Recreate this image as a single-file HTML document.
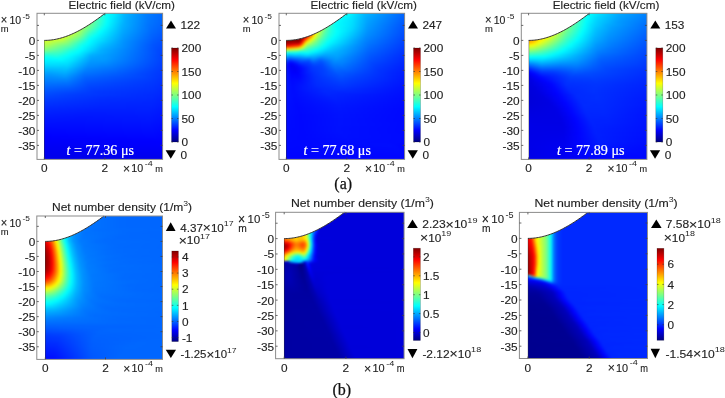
<!DOCTYPE html>
<html><head><meta charset="utf-8"><style>html,body{margin:0;padding:0;background:#fff;width:725px;height:398px;overflow:hidden}svg{display:block;position:absolute;left:0;top:0;opacity:0.999;filter:blur(0.25px)}.fo{position:absolute;overflow:hidden}.fi i{display:block}</style></head>
<body><div class="fo" style="left:44.3px;top:13.3px;width:118.3px;height:146.1px"><div style="position:absolute;left:-5.3px;top:-5.3px;width:129px"><div class="fi" style="filter:blur(0.8px)"><i style="height:2px;background:linear-gradient(90deg,#ffe700 0.5px,#fbff04 15.5px,#d1ff2e 35.5px,#9bff64 47.5px,#48ffb7 59.5px,#0ffff0 67.5px,#00fdff 71.5px,#00b0ff 89.5px,#0080ff 109.5px,#0067ff 128.5px)"></i><i style="height:2px;background:linear-gradient(90deg,#ffe900 0.5px,#fbff04 14.5px,#d1ff2e 35.5px,#a1ff5e 46.5px,#4effb1 58.5px,#0bfff4 67.5px,#00faff 71.5px,#00b0ff 88.5px,#007eff 109.5px,#0065ff 128.5px)"></i><i style="height:2px;background:linear-gradient(90deg,#ffeb00 0.5px,#fbff04 13.5px,#d2ff2d 35.5px,#a1ff5e 46.5px,#4dffb2 58.5px,#0bfff4 66.5px,#00fbff 70.5px,#00deff 77.5px,#00b3ff 86.5px,#007dff 108.5px,#0064ff 128.5px)"></i><i style="height:2px;background:linear-gradient(90deg,#ffed00 0.5px,#fbff04 12.5px,#d2ff2d 35.5px,#a6ff59 45.5px,#44ffbb 59.5px,#03fffc 67.5px,#00e8ff 75.5px,#00b8ff 84.5px,#007fff 106.5px,#0062ff 128.5px)"></i><i style="height:2px;background:linear-gradient(90deg,#fff000 0.5px,#fbff04 11.5px,#d3ff2c 35.5px,#a5ff5a 45.5px,#2affd5 62.5px,#04fffb 67.5px,#00e5ff 75.5px,#00b2ff 85.5px,#007aff 108.5px,#0061ff 128.5px)"></i><i style="height:2px;background:linear-gradient(90deg,#fff200 0.5px,#faff05 11.5px,#d3ff2c 35.5px,#aaff55 44.5px,#23ffdc 63.5px,#00feff 68.5px,#00adff 86.5px,#0077ff 109.5px,#005fff 128.5px)"></i><i style="height:2px;background:linear-gradient(90deg,#fff400 0.5px,#faff05 10.5px,#e3ff1c 25.5px,#d2ff2d 35.5px,#a9ff56 44.5px,#4affb5 57.5px,#23ffdc 63.5px,#00feff 68.5px,#00acff 86.5px,#0076ff 109.5px,#005eff 128.5px)"></i><i style="height:2px;background:linear-gradient(90deg,#fff700 0.5px,#faff05 10.5px,#e3ff1c 24.5px,#d5ff2a 34.5px,#acff53 43.5px,#47ffb8 57.5px,#02fffd 67.5px,#00adff 85.5px,#0075ff 109.5px,#005dff 128.5px)"></i><i style="height:2px;background:linear-gradient(90deg,#fffa00 0.5px,#f8ff07 11.5px,#e4ff1b 24.5px,#d3ff2c 34.5px,#a8ff57 43.5px,#49ffb6 56.5px,#00fcff 67.5px,#00b2ff 83.5px,#0075ff 108.5px,#005bff 128.5px)"></i><i style="height:2px;background:linear-gradient(90deg,#fffd00 0.5px,#f3ff0c 14.5px,#d7ff28 32.5px,#aeff51 41.5px,#0efff1 63.5px,#00fbff 66.5px,#00afff 83.5px,#0070ff 110.5px,#005aff 128.5px)"></i><i style="height:2px;background:linear-gradient(90deg,#fdff02 0.5px,#ecff13 20.5px,#d4ff2b 32.5px,#adff52 40.5px,#24ffdb 58.5px,#00fdff 64.5px,#00acff 83.5px,#006dff 111.5px,#0058ff 128.5px)"></i><i style="height:2px;background:linear-gradient(90deg,#f9ff06 0.5px,#ecff13 21.5px,#cfff30 32.5px,#a3ff5c 40.5px,#3dffc2 52.5px,#02fffd 61.5px,#00a6ff 84.5px,#006aff 112.5px,#0056ff 128.5px)"></i><i style="height:2px;background:linear-gradient(90deg,#f3ff0c 0.5px,#ecff13 21.5px,#c2ff3d 33.5px,#90ff6f 41.5px,#39ffc6 50.5px,#00fdff 60.5px,#00a6ff 83.5px,#0067ff 112.5px,#0053ff 128.5px)"></i><i style="height:2px;background:linear-gradient(90deg,#ecff13 0.5px,#e8ff17 21.5px,#b6ff49 33.5px,#83ff7c 41.5px,#2fffd0 49.5px,#07fff8 56.5px,#00f0ff 61.5px,#009fff 84.5px,#0063ff 113.5px,#0051ff 128.5px)"></i><i style="height:2px;background:linear-gradient(90deg,#e4ff1b 0.5px,#e2ff1d 20.5px,#d0ff2f 25.5px,#78ff87 40.5px,#17ffe8 50.5px,#01fdfe 55.5px,#009cff 84.5px,#005fff 114.5px,#004fff 128.5px)"></i><i style="height:2px;background:linear-gradient(90deg,#d9ff26 0.5px,#d9ff26 11.5px,#cfff30 22.5px,#6eff91 38.5px,#03fffc 51.5px,#0096ff 85.5px,#005cff 114.5px,#004cff 128.5px)"></i><i style="height:2px;background:linear-gradient(90deg,#cdff32 0.5px,#ceff31 9.5px,#aeff51 24.5px,#5dffa2 37.5px,#00fdff 50.5px,#0094ff 84.5px,#0059ff 114.5px,#004aff 128.5px)"></i><i style="height:2px;background:linear-gradient(90deg,#bfff40 0.5px,#bfff40 9.5px,#88ff77 27.5px,#46ffb9 37.5px,#12ffed 45.5px,#00fcff 49.5px,#00d0ff 61.5px,#008dff 86.5px,#0056ff 114.5px,#0047ff 128.5px)"></i><i style="height:2px;background:linear-gradient(90deg,#afff50 0.5px,#b0ff4f 8.5px,#87ff78 19.5px,#68ff97 29.5px,#12ffed 42.5px,#00f9ff 48.5px,#00c3ff 62.5px,#00a2ff 76.5px,#0085ff 89.5px,#0054ff 114.5px,#0045ff 128.5px)"></i><i style="height:2px;background:linear-gradient(90deg,#9bff64 0.5px,#9fff60 7.5px,#4bffb4 30.5px,#03fffc 43.5px,#00ddff 53.5px,#00bbff 62.5px,#009eff 76.5px,#0052ff 114.5px,#0043ff 128.5px)"></i><i style="height:2px;background:linear-gradient(90deg,#85ff7a 0.5px,#8cff73 6.5px,#4fffb0 24.5px,#00fdff 42.5px,#00d0ff 54.5px,#00b3ff 62.5px,#0097ff 77.5px,#004eff 116.5px,#0041ff 128.5px)"></i><i style="height:2px;background:linear-gradient(90deg,#6bff94 0.5px,#6cff93 7.5px,#46ffb9 22.5px,#1bffe4 31.5px,#00fcff 40.5px,#00b1ff 60.5px,#0090ff 79.5px,#004aff 118.5px,#0040ff 128.5px)"></i><i style="height:2px;background:linear-gradient(90deg,#4effb1 0.5px,#39ffc6 20.5px,#0cfff3 31.5px,#00f9ff 38.5px,#00bbff 53.5px,#0047ff 120.5px,#003eff 128.5px)"></i><i style="height:2px;background:linear-gradient(90deg,#33ffcc 0.5px,#24ffdb 6.5px,#2bffd4 17.5px,#10ffef 26.5px,#00fcff 32.5px,#00deff 42.5px,#00b1ff 51.5px,#008eff 77.5px,#0043ff 122.5px,#003dff 128.5px)"></i><i style="height:2px;background:linear-gradient(90deg,#1bffe4 0.5px,#0afff5 6.5px,#17ffe8 17.5px,#00fcff 28.5px,#00d2ff 42.5px,#00a8ff 51.5px,#009aff 68.5px,#0041ff 123.5px,#003cff 128.5px)"></i><i style="height:2px;background:linear-gradient(90deg,#07fff8 0.5px,#00fbff 8.5px,#02fefd 22.5px,#00e4ff 34.5px,#00b8ff 45.5px,#009fff 52.5px,#009bff 65.5px,#003eff 125.5px,#003bff 128.5px)"></i><i style="height:2px;background:linear-gradient(90deg,#00f6ff 0.5px,#00f0ff 10.5px,#00f3ff 23.5px,#00e1ff 32.5px,#009aff 51.5px,#0096ff 65.5px,#0039ff 128.5px)"></i><i style="height:2px;background:linear-gradient(90deg,#00e8ff 0.5px,#00e6ff 15.5px,#00e2ff 28.5px,#0095ff 50.5px,#008dff 67.5px,#0038ff 128.5px)"></i><i style="height:2px;background:linear-gradient(90deg,#00daff 0.5px,#00daff 17.5px,#00d8ff 28.5px,#0090ff 49.5px,#0084ff 69.5px,#0037ff 128.5px)"></i><i style="height:2px;background:linear-gradient(90deg,#00ccff 0.5px,#00cdff 17.5px,#00ccff 28.5px,#008aff 48.5px,#0079ff 72.5px,#0036ff 128.5px)"></i><i style="height:2px;background:linear-gradient(90deg,#00beff 0.5px,#00bdff 13.5px,#00c2ff 27.5px,#00a2ff 37.5px,#0081ff 48.5px,#0071ff 73.5px,#0034ff 128.5px)"></i><i style="height:2px;background:linear-gradient(90deg,#00b1ff 0.5px,#00afff 11.5px,#00b8ff 26.5px,#009fff 35.5px,#007cff 46.5px,#0067ff 76.5px,#0033ff 128.5px)"></i><i style="height:2px;background:linear-gradient(90deg,#00a4ff 0.5px,#00a2ff 10.5px,#00adff 26.5px,#0094ff 35.5px,#0075ff 45.5px,#0060ff 77.5px,#0032ff 128.5px)"></i><i style="height:2px;background:linear-gradient(90deg,#0099ff 0.5px,#0096ff 10.5px,#00a1ff 26.5px,#0089ff 35.5px,#006eff 44.5px,#0057ff 80.5px,#0035ff 124.5px,#0031ff 128.5px)"></i><i style="height:2px;background:linear-gradient(90deg,#008fff 0.5px,#008dff 11.5px,#0096ff 26.5px,#007cff 36.5px,#0064ff 46.5px,#0046ff 103.5px,#002fff 128.5px)"></i><i style="height:2px;background:linear-gradient(90deg,#0086ff 0.5px,#0085ff 13.5px,#0089ff 27.5px,#005dff 46.5px,#003dff 111.5px,#002eff 128.5px)"></i><i style="height:2px;background:linear-gradient(90deg,#007dff 0.5px,#007eff 16.5px,#007dff 28.5px,#0057ff 46.5px,#0038ff 115.5px,#002cff 128.5px)"></i><i style="height:2px;background:linear-gradient(90deg,#0075ff 0.5px,#0073ff 28.5px,#004fff 48.5px,#0036ff 115.5px,#002bff 128.5px)"></i><i style="height:2px;background:linear-gradient(90deg,#006eff 0.5px,#0068ff 29.5px,#004aff 49.5px,#0035ff 114.5px,#002aff 128.5px)"></i><i style="height:2px;background:linear-gradient(90deg,#0066ff 0.5px,#005eff 30.5px,#0044ff 50.5px,#0033ff 114.5px,#0028ff 128.5px)"></i><i style="height:2px;background:linear-gradient(90deg,#005fff 0.5px,#0054ff 31.5px,#003fff 52.5px,#0031ff 114.5px,#0027ff 128.5px)"></i><i style="height:2px;background:linear-gradient(90deg,#0058ff 0.5px,#004bff 33.5px,#003aff 55.5px,#0030ff 113.5px,#0025ff 128.5px)"></i><i style="height:2px;background:linear-gradient(90deg,#0051ff 0.5px,#0042ff 35.5px,#0036ff 59.5px,#002eff 113.5px,#0024ff 128.5px)"></i><i style="height:2px;background:linear-gradient(90deg,#004bff 0.5px,#003aff 39.5px,#0034ff 71.5px,#0029ff 119.5px,#0022ff 128.5px)"></i><i style="height:2px;background:linear-gradient(90deg,#0045ff 0.5px,#0030ff 61.5px,#002bff 112.5px,#0021ff 128.5px)"></i><i style="height:2px;background:linear-gradient(90deg,#003fff 0.5px,#002dff 62.5px,#0029ff 112.5px,#001fff 128.5px)"></i><i style="height:2px;background:linear-gradient(90deg,#0039ff 0.5px,#002aff 62.5px,#0027ff 111.5px,#001eff 128.5px)"></i><i style="height:2px;background:linear-gradient(90deg,#0034ff 0.5px,#0028ff 63.5px,#0025ff 112.5px,#001cff 128.5px)"></i><i style="height:2px;background:linear-gradient(90deg,#0030ff 0.5px,#0025ff 63.5px,#0023ff 112.5px,#001bff 128.5px)"></i><i style="height:2px;background:linear-gradient(90deg,#002bff 0.5px,#0023ff 63.5px,#0022ff 112.5px,#0019ff 128.5px)"></i><i style="height:2px;background:linear-gradient(90deg,#0027ff 0.5px,#0020ff 58.5px,#0020ff 110.5px,#0018ff 128.5px)"></i><i style="height:2px;background:linear-gradient(90deg,#0023ff 0.5px,#001dff 53.5px,#001fff 109.5px,#0016ff 128.5px)"></i><i style="height:2px;background:linear-gradient(90deg,#0020ff 0.5px,#001bff 49.5px,#001dff 109.5px,#0014ff 128.5px)"></i><i style="height:2px;background:linear-gradient(90deg,#001cff 0.5px,#0018ff 45.5px,#001bff 109.5px,#0013ff 128.5px)"></i><i style="height:2px;background:linear-gradient(90deg,#0019ff 0.5px,#0016ff 42.5px,#0019ff 110.5px,#0011ff 128.5px)"></i><i style="height:2px;background:linear-gradient(90deg,#0016ff 0.5px,#0014ff 40.5px,#0017ff 110.5px,#0010ff 128.5px)"></i><i style="height:2px;background:linear-gradient(90deg,#0013ff 0.5px,#0012ff 38.5px,#0016ff 110.5px,#000eff 128.5px)"></i><i style="height:2px;background:linear-gradient(90deg,#0010ff 0.5px,#0010ff 37.5px,#0014ff 110.5px,#000cff 128.5px)"></i><i style="height:2px;background:linear-gradient(90deg,#000eff 0.5px,#000eff 36.5px,#0012ff 110.5px,#000bff 128.5px)"></i><i style="height:2px;background:linear-gradient(90deg,#000bff 0.5px,#000cff 36.5px,#0010ff 110.5px,#0009ff 128.5px)"></i><i style="height:2px;background:linear-gradient(90deg,#0008ff 0.5px,#000aff 36.5px,#000eff 111.5px,#0007ff 128.5px)"></i><i style="height:2px;background:linear-gradient(90deg,#0006ff 0.5px,#0008ff 36.5px,#000cff 112.5px,#0006ff 128.5px)"></i><i style="height:2px;background:linear-gradient(90deg,#0004ff 0.5px,#0006ff 37.5px,#000aff 113.5px,#0004ff 128.5px)"></i><i style="height:2px;background:linear-gradient(90deg,#0001ff 0.5px,#0008ff 113.5px,#0003ff 128.5px)"></i><i style="height:2px;background:linear-gradient(90deg,#0000fe 0.5px,#0006ff 115.5px,#0001ff 128.5px)"></i><i style="height:2px;background:linear-gradient(90deg,#0000fc 0.5px,#0003ff 119.5px,#0000fe 128.5px)"></i><i style="height:2px;background:linear-gradient(90deg,#0000fa 0.5px,#0000ff 122.5px,#0000fd 128.5px)"></i><i style="height:2px;background:linear-gradient(90deg,#0000f8 0.5px,#0000fe 120.5px,#0000fb 128.5px)"></i><i style="height:2px;background:linear-gradient(90deg,#0000f6 0.5px,#0000fd 118.5px,#0000f9 128.5px)"></i><i style="height:2px;background:linear-gradient(90deg,#0000f4 0.5px,#0000fb 119.5px,#0000f7 128.5px)"></i><i style="height:2px;background:linear-gradient(90deg,#0000f2 0.5px,#0000f9 120.5px,#0000f5 128.5px)"></i><i style="height:2px;background:linear-gradient(90deg,#0000f1 0.5px,#0000f6 122.5px,#0000f4 128.5px)"></i><i style="height:2px;background:linear-gradient(90deg,#0000ef 0.5px,#0000f4 124.5px,#0000f2 128.5px)"></i><i style="height:2px;background:linear-gradient(90deg,#0000ee 0.5px,#0000f1 125.5px,#0000f0 128.5px)"></i><i style="height:2px;background:linear-gradient(90deg,#0000ec 0.5px,#0000ef 125.5px,#0000ed 128.5px)"></i><i style="height:2px;background:linear-gradient(90deg,#0000eb 0.5px,#0000ec 126.5px,#0000eb 128.5px)"></i><i style="height:2px;background:linear-gradient(90deg,#0000e9 0.5px,#0000ea 126.5px,#0000e9 128.5px)"></i><i style="height:2px;background:linear-gradient(90deg,#0000e8 0.5px,#0000e7 126.5px,#0000e6 128.5px)"></i><i style="height:1px;background:linear-gradient(90deg,#0000e6 0.5px,#0000e6 126.5px,#0000e4 128.5px)"></i></div></div></div><div class="fo" style="left:286.3px;top:13.3px;width:118.3px;height:146.1px"><div style="position:absolute;left:-5.3px;top:-5.3px;width:129px"><div class="fi" style="filter:blur(0.8px)"><i style="height:2px;background:linear-gradient(90deg,#800000 0.5px,#830000 25.5px,#d90000 31.5px,#fb0000 33.5px,#ff4700 37.5px,#fff800 46.5px,#e1ff1e 48.5px,#83ff7c 54.5px,#45ffba 60.5px,#01fefe 71.5px,#00c4ff 84.5px,#006dff 123.5px,#0065ff 128.5px)"></i><i style="height:2px;background:linear-gradient(90deg,#800000 0.5px,#800000 24.5px,#920000 26.5px,#ee0000 32.5px,#ff0100 33.5px,#fff500 45.5px,#f5ff0a 46.5px,#8bff74 52.5px,#4dffb2 57.5px,#1bffe4 64.5px,#00fbff 70.5px,#00c4ff 82.5px,#0074ff 117.5px,#0061ff 128.5px)"></i><i style="height:2px;background:linear-gradient(90deg,#800000 0.5px,#800000 24.5px,#b00000 28.5px,#f20000 32.5px,#ff0600 33.5px,#fff100 44.5px,#f8ff07 45.5px,#86ff79 51.5px,#43ffbc 56.5px,#18ffe7 62.5px,#00fdff 68.5px,#00bdff 82.5px,#0069ff 121.5px,#005dff 128.5px)"></i><i style="height:2px;background:linear-gradient(90deg,#800000 0.5px,#800000 24.5px,#c20000 29.5px,#f70000 32.5px,#ff0b00 33.5px,#ffed00 43.5px,#fbff04 44.5px,#71ff8e 51.5px,#39ffc6 55.5px,#14ffeb 60.5px,#00fdff 66.5px,#00b5ff 83.5px,#005bff 127.5px,#0059ff 128.5px)"></i><i style="height:2px;background:linear-gradient(90deg,#800000 0.5px,#830000 24.5px,#c50000 29.5px,#fb0000 32.5px,#ff3e00 35.5px,#fcfd03 43.5px,#5bffa4 51.5px,#25ffda 55.5px,#06fff9 60.5px,#00efff 68.5px,#00acff 85.5px,#0056ff 128.5px)"></i><i style="height:2px;background:linear-gradient(90deg,#800000 0.5px,#800000 23.5px,#aa0000 27.5px,#ff0200 32.5px,#ff9500 38.5px,#fefb01 42.5px,#57ffa8 50.5px,#27ffd8 53.5px,#0bfff4 56.5px,#00faff 60.5px,#00e1ff 71.5px,#00a8ff 85.5px,#0053ff 128.5px)"></i><i style="height:2px;background:linear-gradient(90deg,#800000 0.5px,#810000 23.5px,#ad0000 27.5px,#f20000 31.5px,#ff0900 32.5px,#ff8b00 37.5px,#fff900 41.5px,#d4ff2b 43.5px,#68ff97 48.5px,#23ffdc 52.5px,#04fffb 55.5px,#00e2ff 70.5px,#00a3ff 86.5px,#0051ff 128.5px)"></i><i style="height:2px;background:linear-gradient(90deg,#800000 0.5px,#800000 22.5px,#a50000 26.5px,#e70000 30.5px,#fc0000 31.5px,#ff2c00 33.5px,#fff700 40.5px,#edff12 41.5px,#7bff84 46.5px,#25ffda 51.5px,#04fffb 54.5px,#00efff 62.5px,#00e1ff 70.5px,#00a0ff 86.5px,#0053ff 125.5px,#004eff 128.5px)"></i><i style="height:2px;background:linear-gradient(90deg,#800000 0.5px,#830000 22.5px,#9d0000 25.5px,#cb0000 28.5px,#f40000 30.5px,#ff0c00 31.5px,#ff5c00 34.5px,#fff700 39.5px,#d1ff2e 41.5px,#79ff86 45.5px,#2affd5 50.5px,#03fffc 54.5px,#00edff 64.5px,#00dcff 71.5px,#009dff 86.5px,#005aff 120.5px,#004cff 128.5px)"></i><i style="height:2px;background:linear-gradient(90deg,#800000 0.5px,#820000 21.5px,#960000 24.5px,#c20000 27.5px,#ee0000 29.5px,#ff0800 30.5px,#ff7e00 34.5px,#fcf903 38.5px,#ccff33 40.5px,#76ff89 44.5px,#2effd1 49.5px,#04fffb 54.5px,#00ddff 70.5px,#009aff 86.5px,#005bff 118.5px,#004aff 128.5px)"></i><i style="height:2px;background:linear-gradient(90deg,#800000 0.5px,#830000 21.5px,#980000 24.5px,#cb0000 27.5px,#fd0200 29.5px,#ff6200 32.5px,#ffe700 36.5px,#f8fd07 37.5px,#99ff66 41.5px,#55ffaa 45.5px,#1fffe0 50.5px,#02fffd 55.5px,#00d9ff 70.5px,#0097ff 86.5px,#0057ff 119.5px,#0048ff 128.5px)"></i><i style="height:2px;background:linear-gradient(90deg,#800000 0.5px,#810000 21.5px,#990000 24.5px,#bd0000 26.5px,#f20000 28.5px,#ff1300 29.5px,#ffd000 34.5px,#fff000 35.5px,#f2ff0d 36.5px,#a9ff56 39.5px,#56ffa9 44.5px,#24ffdb 49.5px,#03fffc 55.5px,#00dcff 68.5px,#0093ff 86.5px,#0046ff 128.5px)"></i><i style="height:2px;background:linear-gradient(90deg,#800000 0.5px,#800000 21.5px,#900000 23.5px,#b20000 25.5px,#e70000 27.5px,#ff0700 28.5px,#ff5200 30.5px,#ffd200 33.5px,#fff500 34.5px,#edff12 35.5px,#98ff67 39.5px,#4cffb3 44.5px,#19ffe6 50.5px,#00fdff 56.5px,#00c5ff 72.5px,#008fff 86.5px,#0044ff 128.5px)"></i><i style="height:2px;background:linear-gradient(90deg,#800000 0.5px,#830000 21.5px,#b20000 24.5px,#e90000 26.5px,#fe0b00 27.5px,#ff7800 30.5px,#fff000 33.5px,#eeff11 34.5px,#beff41 36.5px,#5bffa4 42.5px,#27ffd8 47.5px,#01fffe 54.5px,#00c8ff 70.5px,#008eff 85.5px,#0042ff 128.5px)"></i><i style="height:2px;background:linear-gradient(90deg,#800000 0.5px,#800000 19.5px,#860000 20.5px,#c90000 23.5px,#e40000 24.5px,#f70c00 25.5px,#ff2600 26.5px,#fef401 32.5px,#ebff14 33.5px,#a5ff5a 36.5px,#4dffb2 42.5px,#1effe1 47.5px,#00fdff 53.5px,#00b8ff 72.5px,#0089ff 85.5px,#003fff 128.5px)"></i><i style="height:2px;background:linear-gradient(90deg,#890000 0.5px,#800000 5.5px,#800000 18.5px,#870000 19.5px,#c10000 21.5px,#e60000 22.5px,#fd1000 23.5px,#ff9c00 27.5px,#ffd900 29.5px,#fbf104 30.5px,#f0ff0f 31.5px,#99ff66 35.5px,#5cffa3 39.5px,#1affe5 46.5px,#00fdff 51.5px,#00b2ff 72.5px,#0087ff 84.5px,#003dff 128.5px)"></i><i style="height:2px;background:linear-gradient(90deg,#a80000 0.5px,#860000 5.5px,#880000 9.5px,#8a0000 13.5px,#850000 17.5px,#8d0000 18.5px,#a60000 19.5px,#f40400 21.5px,#ff2a00 22.5px,#ff8a00 24.5px,#ffd300 26.5px,#fdee02 27.5px,#f1fb0e 28.5px,#a8ff57 32.5px,#53ffac 38.5px,#15ffea 45.5px,#00fcff 49.5px,#009eff 75.5px,#0079ff 88.5px,#003bff 128.5px)"></i><i style="height:2px;background:linear-gradient(90deg,#d70000 0.5px,#a60000 5.5px,#a60000 8.5px,#b50000 13.5px,#b20000 16.5px,#b70000 17.5px,#c70000 18.5px,#e40000 19.5px,#fc1100 20.5px,#ffdc00 24.5px,#f3f70c 25.5px,#caff35 27.5px,#84ff7b 32.5px,#27ffd8 41.5px,#02fefd 46.5px,#00d4ff 58.5px,#007dff 84.5px,#0039ff 128.5px)"></i><i style="height:2px;background:linear-gradient(90deg,#ff1900 0.5px,#ec0000 4.5px,#dd0000 6.5px,#f20a00 12.5px,#fb1900 17.5px,#ff2500 18.5px,#ff4200 19.5px,#ff9c00 21.5px,#ffcd00 22.5px,#f6f409 23.5px,#d7ff28 24.5px,#b7ff48 25.5px,#93ff6c 27.5px,#0ffff0 42.5px,#00f9ff 45.5px,#00d8ff 53.5px,#0096ff 74.5px,#0070ff 88.5px,#0036ff 128.5px)"></i><i style="height:2px;background:linear-gradient(90deg,#ff6f00 0.5px,#ff4600 6.5px,#ff7f00 15.5px,#ff9700 17.5px,#ffc300 19.5px,#ffe000 20.5px,#f0f40f 21.5px,#d7ff28 22.5px,#95ff6a 24.5px,#7eff81 25.5px,#65ff9a 27.5px,#30ffcf 35.5px,#01fbfe 42.5px,#00d5ff 50.5px,#0093ff 73.5px,#006cff 88.5px,#0034ff 128.5px)"></i><i style="height:2px;background:linear-gradient(90deg,#ffd400 0.5px,#f9db06 7.5px,#e2f51d 15.5px,#d8ff27 17.5px,#bdff42 19.5px,#5bffa4 24.5px,#3fffc0 27.5px,#0efff1 36.5px,#00f4ff 40.5px,#00ccff 49.5px,#0094ff 71.5px,#0067ff 88.5px,#0031ff 128.5px)"></i><i style="height:2px;background:linear-gradient(90deg,#c1ff3e 0.5px,#79ff86 6.5px,#74ff8b 10.5px,#62ff9d 13.5px,#58ffa7 16.5px,#39ffc6 19.5px,#2effd1 24.5px,#03fbfc 34.5px,#00c9ff 45.5px,#0094ff 69.5px,#0065ff 87.5px,#002eff 128.5px)"></i><i style="height:2px;background:linear-gradient(90deg,#64ff9b 0.5px,#11fcee 5.5px,#0af4f5 7.5px,#0bf9f4 14.5px,#01f4fe 20.5px,#06fcf9 26.5px,#00e1ff 34.5px,#00baff 44.5px,#00a3ff 61.5px,#0060ff 87.5px,#002cff 128.5px)"></i><i style="height:2px;background:linear-gradient(90deg,#16ffe9 0.5px,#00e6ff 3.5px,#00c6ff 6.5px,#00beff 9.5px,#00ccff 13.5px,#00c8ff 18.5px,#00dcff 25.5px,#00bbff 36.5px,#00a6ff 43.5px,#00a6ff 56.5px,#005aff 88.5px,#0029ff 128.5px)"></i><i style="height:2px;background:linear-gradient(90deg,#00d8ff 0.5px,#00a1ff 4.5px,#0087ff 8.5px,#0098ff 14.5px,#009fff 20.5px,#00acff 25.5px,#00a8ff 29.5px,#00a9ff 33.5px,#008eff 40.5px,#009aff 48.5px,#009fff 56.5px,#0054ff 89.5px,#0027ff 128.5px)"></i><i style="height:2px;background:linear-gradient(90deg,#00a6ff 0.5px,#0066ff 5.5px,#0052ff 8.5px,#005dff 12.5px,#007bff 23.5px,#0074ff 28.5px,#0089ff 30.5px,#008bff 33.5px,#006fff 39.5px,#008bff 48.5px,#0098ff 55.5px,#0077ff 71.5px,#004fff 90.5px,#0025ff 128.5px)"></i><i style="height:2px;background:linear-gradient(90deg,#007fff 0.5px,#0033ff 6.5px,#0022ff 9.5px,#0054ff 20.5px,#0051ff 28.5px,#006aff 30.5px,#0071ff 32.5px,#0057ff 39.5px,#008eff 53.5px,#0087ff 62.5px,#004eff 88.5px,#0023ff 128.5px)"></i><i style="height:2px;background:linear-gradient(90deg,#0061ff 0.5px,#000eff 7.5px,#0004ff 9.5px,#0012ff 13.5px,#0036ff 19.5px,#003cff 27.5px,#0057ff 32.5px,#004cff 40.5px,#0082ff 52.5px,#0083ff 60.5px,#0047ff 90.5px,#0021ff 128.5px)"></i><i style="height:2px;background:linear-gradient(90deg,#004dff 0.5px,#0002ff 7.5px,#0000f7 11.5px,#0009ff 15.5px,#0026ff 21.5px,#0036ff 28.5px,#0046ff 33.5px,#0045ff 40.5px,#0077ff 52.5px,#007bff 60.5px,#0041ff 92.5px,#001fff 128.5px)"></i><i style="height:2px;background:linear-gradient(90deg,#003fff 0.5px,#0001ff 7.5px,#0000f2 11.5px,#0003ff 16.5px,#0039ff 31.5px,#0042ff 41.5px,#0070ff 53.5px,#0071ff 62.5px,#003cff 94.5px,#001dff 128.5px)"></i><i style="height:2px;background:linear-gradient(90deg,#0036ff 0.5px,#0005ff 7.5px,#0000f4 13.5px,#0005ff 18.5px,#0034ff 31.5px,#0042ff 42.5px,#0068ff 54.5px,#0067ff 64.5px,#0038ff 95.5px,#001bff 128.5px)"></i><i style="height:2px;background:linear-gradient(90deg,#0030ff 0.5px,#0000fe 9.5px,#0000f7 14.5px,#0006ff 19.5px,#0030ff 30.5px,#0041ff 43.5px,#0061ff 55.5px,#005dff 67.5px,#0033ff 97.5px,#001aff 128.5px)"></i><i style="height:2px;background:linear-gradient(90deg,#002cff 0.5px,#0000fe 10.5px,#0000fc 16.5px,#001dff 25.5px,#0031ff 33.5px,#0044ff 45.5px,#005bff 57.5px,#004fff 72.5px,#002dff 102.5px,#0019ff 128.5px)"></i><i style="height:2px;background:linear-gradient(90deg,#0029ff 0.5px,#0002ff 10.5px,#0004ff 18.5px,#002dff 32.5px,#0047ff 48.5px,#0055ff 60.5px,#0028ff 106.5px,#0017ff 128.5px)"></i><i style="height:2px;background:linear-gradient(90deg,#0026ff 0.5px,#0005ff 10.5px,#0004ff 17.5px,#002dff 33.5px,#004fff 59.5px,#0023ff 111.5px,#0016ff 128.5px)"></i><i style="height:2px;background:linear-gradient(90deg,#0023ff 0.5px,#0007ff 10.5px,#0009ff 18.5px,#002dff 34.5px,#0049ff 59.5px,#001fff 115.5px,#0015ff 128.5px)"></i><i style="height:2px;background:linear-gradient(90deg,#0021ff 0.5px,#0009ff 10.5px,#000dff 19.5px,#002cff 34.5px,#0043ff 60.5px,#0014ff 128.5px)"></i><i style="height:2px;background:linear-gradient(90deg,#001fff 0.5px,#0009ff 11.5px,#0013ff 21.5px,#002cff 35.5px,#003eff 61.5px,#0013ff 128.5px)"></i><i style="height:2px;background:linear-gradient(90deg,#001dff 0.5px,#000aff 11.5px,#0016ff 22.5px,#002aff 35.5px,#0039ff 61.5px,#0012ff 128.5px)"></i><i style="height:2px;background:linear-gradient(90deg,#001cff 0.5px,#000bff 11.5px,#0018ff 23.5px,#002aff 38.5px,#0034ff 63.5px,#0010ff 128.5px)"></i><i style="height:2px;background:linear-gradient(90deg,#001aff 0.5px,#000bff 11.5px,#001cff 26.5px,#0030ff 57.5px,#000fff 128.5px)"></i><i style="height:2px;background:linear-gradient(90deg,#0019ff 0.5px,#000bff 12.5px,#0028ff 43.5px,#0029ff 68.5px,#000eff 128.5px)"></i><i style="height:2px;background:linear-gradient(90deg,#0018ff 0.5px,#000bff 12.5px,#0026ff 46.5px,#0021ff 78.5px,#000dff 128.5px)"></i><i style="height:2px;background:linear-gradient(90deg,#0016ff 0.5px,#000bff 13.5px,#0024ff 48.5px,#000dff 127.5px,#000cff 128.5px)"></i><i style="height:2px;background:linear-gradient(90deg,#0015ff 0.5px,#000bff 13.5px,#0021ff 51.5px,#000cff 127.5px,#000bff 128.5px)"></i><i style="height:2px;background:linear-gradient(90deg,#0014ff 0.5px,#000aff 14.5px,#001fff 53.5px,#000bff 127.5px,#000aff 128.5px)"></i><i style="height:2px;background:linear-gradient(90deg,#0013ff 0.5px,#000aff 14.5px,#001cff 55.5px,#000aff 127.5px,#0009ff 128.5px)"></i><i style="height:2px;background:linear-gradient(90deg,#0012ff 0.5px,#0009ff 15.5px,#001aff 56.5px,#000aff 126.5px,#0008ff 128.5px)"></i><i style="height:2px;background:linear-gradient(90deg,#0011ff 0.5px,#0009ff 15.5px,#0018ff 57.5px,#0009ff 126.5px,#0007ff 128.5px)"></i><i style="height:2px;background:linear-gradient(90deg,#0011ff 0.5px,#0008ff 16.5px,#0016ff 57.5px,#0009ff 125.5px,#0007ff 128.5px)"></i><i style="height:2px;background:linear-gradient(90deg,#0010ff 0.5px,#0008ff 17.5px,#0015ff 58.5px,#0008ff 125.5px,#0006ff 128.5px)"></i><i style="height:2px;background:linear-gradient(90deg,#000fff 0.5px,#0008ff 17.5px,#0014ff 58.5px,#0008ff 124.5px,#0006ff 128.5px)"></i><i style="height:2px;background:linear-gradient(90deg,#000eff 0.5px,#0008ff 18.5px,#0013ff 59.5px,#0008ff 124.5px,#0005ff 128.5px)"></i><i style="height:2px;background:linear-gradient(90deg,#000eff 0.5px,#0007ff 19.5px,#0012ff 59.5px,#0008ff 123.5px,#0005ff 128.5px)"></i><i style="height:2px;background:linear-gradient(90deg,#000dff 0.5px,#0007ff 19.5px,#0012ff 59.5px,#0008ff 123.5px,#0005ff 128.5px)"></i><i style="height:2px;background:linear-gradient(90deg,#000dff 0.5px,#0007ff 19.5px,#0011ff 59.5px,#0008ff 122.5px,#0004ff 128.5px)"></i><i style="height:2px;background:linear-gradient(90deg,#000cff 0.5px,#0007ff 20.5px,#0011ff 59.5px,#0008ff 122.5px,#0004ff 128.5px)"></i><i style="height:2px;background:linear-gradient(90deg,#000cff 0.5px,#0007ff 20.5px,#0011ff 58.5px,#0009ff 121.5px,#0004ff 128.5px)"></i><i style="height:2px;background:linear-gradient(90deg,#000bff 0.5px,#0007ff 21.5px,#0011ff 58.5px,#0009ff 121.5px,#0004ff 128.5px)"></i><i style="height:2px;background:linear-gradient(90deg,#000bff 0.5px,#0007ff 21.5px,#0010ff 57.5px,#0009ff 120.5px,#0004ff 128.5px)"></i><i style="height:2px;background:linear-gradient(90deg,#000aff 0.5px,#0007ff 21.5px,#0010ff 56.5px,#0009ff 120.5px,#0003ff 128.5px)"></i><i style="height:2px;background:linear-gradient(90deg,#000aff 0.5px,#0007ff 22.5px,#0010ff 57.5px,#0009ff 120.5px,#0003ff 128.5px)"></i><i style="height:2px;background:linear-gradient(90deg,#000aff 0.5px,#0007ff 22.5px,#0010ff 58.5px,#0009ff 120.5px,#0003ff 128.5px)"></i><i style="height:2px;background:linear-gradient(90deg,#0009ff 0.5px,#0007ff 23.5px,#000fff 60.5px,#000aff 119.5px,#0003ff 128.5px)"></i><i style="height:2px;background:linear-gradient(90deg,#0009ff 0.5px,#0007ff 23.5px,#000fff 62.5px,#000aff 119.5px,#0003ff 128.5px)"></i><i style="height:2px;background:linear-gradient(90deg,#0009ff 0.5px,#0007ff 24.5px,#000eff 65.5px,#000aff 119.5px,#0003ff 128.5px)"></i><i style="height:2px;background:linear-gradient(90deg,#0008ff 0.5px,#0007ff 25.5px,#000dff 69.5px,#000aff 119.5px,#0002ff 128.5px)"></i><i style="height:2px;background:linear-gradient(90deg,#0008ff 0.5px,#0007ff 26.5px,#000cff 77.5px,#000aff 119.5px,#0002ff 128.5px)"></i><i style="height:2px;background:linear-gradient(90deg,#0008ff 0.5px,#0007ff 26.5px,#000eff 106.5px,#0002ff 128.5px)"></i><i style="height:2px;background:linear-gradient(90deg,#0007ff 0.5px,#0006ff 27.5px,#000cff 113.5px,#0001ff 128.5px)"></i><i style="height:2px;background:linear-gradient(90deg,#0007ff 0.5px,#0006ff 28.5px,#000aff 117.5px,#0000ff 128.5px)"></i><i style="height:2px;background:linear-gradient(90deg,#0006ff 0.5px,#0006ff 29.5px,#000aff 117.5px,#0000ff 128.5px)"></i><i style="height:2px;background:linear-gradient(90deg,#0005ff 0.5px,#0005ff 30.5px,#0008ff 118.5px,#0000fe 128.5px)"></i><i style="height:2px;background:linear-gradient(90deg,#0005ff 0.5px,#0004ff 30.5px,#0007ff 118.5px,#0000fc 128.5px)"></i><i style="height:2px;background:linear-gradient(90deg,#0004ff 0.5px,#0004ff 33.5px,#0006ff 118.5px,#0000fb 128.5px)"></i><i style="height:2px;background:linear-gradient(90deg,#0003ff 0.5px,#0005ff 43.5px,#0004ff 119.5px,#0000f9 128.5px)"></i><i style="height:2px;background:linear-gradient(90deg,#0002ff 0.5px,#0003ff 118.5px,#0000f7 128.5px)"></i><i style="height:2px;background:linear-gradient(90deg,#0001ff 0.5px,#0001ff 118.5px,#0000f5 128.5px)"></i><i style="height:1px;background:linear-gradient(90deg,#0001ff 0.5px,#0000fb 121.5px,#0000f3 128.5px)"></i></div></div></div><div class="fo" style="left:528.6px;top:13.3px;width:118.3px;height:146.1px"><div style="position:absolute;left:-5.6px;top:-5.3px;width:129px"><div class="fi" style="filter:blur(0.8px)"><i style="height:2px;background:linear-gradient(90deg,#f00000 0.5px,#ff0600 4.5px,#ff6a00 19.5px,#feff01 37.5px,#3fffc0 59.5px,#07fff8 68.5px,#00f4ff 73.5px,#00b4ff 96.5px,#0085ff 128.5px)"></i><i style="height:2px;background:linear-gradient(90deg,#f60000 0.5px,#ff0600 3.5px,#ff6800 18.5px,#fffd00 36.5px,#2fffd0 60.5px,#04fffb 67.5px,#00b1ff 95.5px,#0081ff 128.5px)"></i><i style="height:2px;background:linear-gradient(90deg,#fd0000 0.5px,#ff3600 10.5px,#ffbe00 28.5px,#fbff04 36.5px,#30ffcf 59.5px,#01fffe 66.5px,#00b0ff 93.5px,#007dff 128.5px)"></i><i style="height:2px;background:linear-gradient(90deg,#ff0400 0.5px,#ff5100 13.5px,#ffdd00 31.5px,#fdff02 35.5px,#32ffcd 58.5px,#01fffe 65.5px,#00dcff 75.5px,#00a8ff 95.5px,#0079ff 128.5px)"></i><i style="height:2px;background:linear-gradient(90deg,#ff0b00 0.5px,#ff5100 12.5px,#ffdb00 30.5px,#fefe01 34.5px,#2cffd3 58.5px,#02fffd 64.5px,#00d9ff 74.5px,#00a2ff 96.5px,#0076ff 128.5px)"></i><i style="height:2px;background:linear-gradient(90deg,#ff1100 0.5px,#ff5100 11.5px,#ffd900 29.5px,#fffc00 33.5px,#27ffd8 58.5px,#00fdff 64.5px,#00d7ff 73.5px,#009eff 96.5px,#0072ff 128.5px)"></i><i style="height:2px;background:linear-gradient(90deg,#ff1900 0.5px,#ff5800 11.5px,#ffe000 29.5px,#faff05 33.5px,#49ffb6 53.5px,#00feff 63.5px,#00d2ff 73.5px,#009cff 95.5px,#006fff 128.5px)"></i><i style="height:2px;background:linear-gradient(90deg,#ff2000 0.5px,#ff5800 10.5px,#ffe700 29.5px,#fcff03 32.5px,#5cffa3 50.5px,#02fffd 62.5px,#00ceff 73.5px,#009bff 94.5px,#006bff 128.5px)"></i><i style="height:2px;background:linear-gradient(90deg,#ff2800 0.5px,#ff5900 9.5px,#ffe600 28.5px,#fdff02 31.5px,#6cff93 47.5px,#05fffa 61.5px,#00ddff 68.5px,#00aeff 83.5px,#0075ff 118.5px,#0068ff 128.5px)"></i><i style="height:2px;background:linear-gradient(90deg,#ff3000 0.5px,#ff5a00 8.5px,#ffed00 28.5px,#fefe01 30.5px,#74ff8b 45.5px,#01fefe 61.5px,#00c9ff 72.5px,#009dff 89.5px,#0065ff 128.5px)"></i><i style="height:2px;background:linear-gradient(90deg,#ff3900 0.5px,#ff5a00 7.5px,#fff600 28.5px,#f6ff09 30.5px,#72ff8d 44.5px,#02fffd 60.5px,#00c4ff 72.5px,#009cff 88.5px,#0062ff 128.5px)"></i><i style="height:2px;background:linear-gradient(90deg,#ff4400 0.5px,#ff5b00 6.5px,#fefe01 28.5px,#6fff90 43.5px,#02fffd 59.5px,#00bcff 73.5px,#0097ff 89.5px,#005fff 128.5px)"></i><i style="height:2px;background:linear-gradient(90deg,#ff5000 0.5px,#ff6300 6.5px,#fdfe02 27.5px,#6bff94 42.5px,#02fffd 58.5px,#00bbff 72.5px,#0098ff 86.5px,#005cff 128.5px)"></i><i style="height:2px;background:linear-gradient(90deg,#ff5e00 0.5px,#ff6c00 6.5px,#ffa100 13.5px,#fefc01 25.5px,#d4ff2b 30.5px,#60ff9f 42.5px,#01fefe 57.5px,#00b7ff 72.5px,#0095ff 86.5px,#0059ff 128.5px)"></i><i style="height:2px;background:linear-gradient(90deg,#ff7000 0.5px,#ff7800 6.5px,#ff9c00 11.5px,#ffeb00 20.5px,#f7ff08 24.5px,#b9ff46 31.5px,#53ffac 42.5px,#00fdff 56.5px,#00b5ff 71.5px,#0092ff 85.5px,#0056ff 128.5px)"></i><i style="height:2px;background:linear-gradient(90deg,#ff8700 0.5px,#ff8800 6.5px,#ffa300 10.5px,#fff900 19.5px,#e2ff1d 24.5px,#8aff75 34.5px,#3fffc0 43.5px,#02fefd 54.5px,#00adff 72.5px,#008dff 86.5px,#0054ff 128.5px)"></i><i style="height:2px;background:linear-gradient(90deg,#ffa300 0.5px,#ffa000 6.5px,#ffba00 10.5px,#fff800 16.5px,#e5ff1a 20.5px,#77ff88 34.5px,#2cffd3 44.5px,#00fcff 53.5px,#00abff 71.5px,#008aff 85.5px,#0051ff 128.5px)"></i><i style="height:2px;background:linear-gradient(90deg,#ffc500 0.5px,#ffc600 7.5px,#ffed00 12.5px,#f4ff0b 15.5px,#45ffba 38.5px,#06fff9 49.5px,#00eeff 54.5px,#00a1ff 72.5px,#0084ff 86.5px,#004eff 128.5px)"></i><i style="height:2px;background:linear-gradient(90deg,#ffec00 0.5px,#f8fb07 10.5px,#d3ff2c 15.5px,#41ffbe 36.5px,#04fffb 47.5px,#0098ff 73.5px,#007dff 88.5px,#004cff 128.5px)"></i><i style="height:2px;background:linear-gradient(90deg,#e8ff17 0.5px,#d0ff2f 10.5px,#23ffdc 38.5px,#00fcff 46.5px,#0092ff 73.5px,#0079ff 88.5px,#0049ff 128.5px)"></i><i style="height:2px;background:linear-gradient(90deg,#bdff42 0.5px,#a7ff58 10.5px,#04fffb 41.5px,#0095ff 70.5px,#0078ff 84.5px,#0047ff 128.5px)"></i><i style="height:2px;background:linear-gradient(90deg,#92ff6d 0.5px,#7aff85 11.5px,#01fcfe 39.5px,#0083ff 74.5px,#006eff 90.5px,#0044ff 128.5px)"></i><i style="height:2px;background:linear-gradient(90deg,#66ff99 0.5px,#42ffbd 17.5px,#00fbff 35.5px,#007aff 75.5px,#0067ff 93.5px,#0042ff 128.5px)"></i><i style="height:2px;background:linear-gradient(90deg,#3cffc3 0.5px,#2cffd3 9.5px,#1effe1 19.5px,#01fafe 29.5px,#009dff 61.5px,#0070ff 77.5px,#0044ff 124.5px,#003fff 128.5px)"></i><i style="height:2px;background:linear-gradient(90deg,#12ffed 0.5px,#07fdf8 8.5px,#01f9fe 22.5px,#00ccff 40.5px,#0098ff 60.5px,#0069ff 77.5px,#0047ff 118.5px,#003dff 128.5px)"></i><i style="height:2px;background:linear-gradient(90deg,#00e9ff 0.5px,#00e3ff 9.5px,#00e6ff 19.5px,#00bfff 37.5px,#009fff 55.5px,#0063ff 77.5px,#0047ff 115.5px,#003bff 128.5px)"></i><i style="height:2px;background:linear-gradient(90deg,#00c2ff 0.5px,#00bdff 7.5px,#00cdff 18.5px,#00adff 36.5px,#0099ff 53.5px,#005dff 77.5px,#0045ff 114.5px,#0038ff 128.5px)"></i><i style="height:2px;background:linear-gradient(90deg,#009cff 0.5px,#0095ff 7.5px,#00b1ff 18.5px,#0098ff 37.5px,#008dff 54.5px,#0057ff 78.5px,#0043ff 113.5px,#0036ff 128.5px)"></i><i style="height:2px;background:linear-gradient(90deg,#0078ff 0.5px,#006eff 6.5px,#0095ff 18.5px,#0084ff 37.5px,#0084ff 53.5px,#0052ff 79.5px,#0040ff 113.5px,#0034ff 128.5px)"></i><i style="height:2px;background:linear-gradient(90deg,#0057ff 0.5px,#004cff 6.5px,#0068ff 13.5px,#0079ff 18.5px,#0071ff 37.5px,#0078ff 53.5px,#004cff 81.5px,#003aff 117.5px,#0032ff 128.5px)"></i><i style="height:2px;background:linear-gradient(90deg,#0039ff 0.5px,#002bff 6.5px,#0045ff 12.5px,#005dff 18.5px,#005dff 34.5px,#006cff 53.5px,#0047ff 83.5px,#0031ff 127.5px,#0030ff 128.5px)"></i><i style="height:2px;background:linear-gradient(90deg,#0020ff 0.5px,#000fff 6.5px,#002bff 12.5px,#0044ff 18.5px,#0046ff 30.5px,#0060ff 52.5px,#0041ff 88.5px,#002eff 128.5px)"></i><i style="height:2px;background:linear-gradient(90deg,#000cff 0.5px,#0000fb 6.5px,#000bff 10.5px,#002fff 18.5px,#0036ff 30.5px,#0055ff 51.5px,#0048ff 72.5px,#002cff 128.5px)"></i><i style="height:2px;background:linear-gradient(90deg,#0000fb 0.5px,#0000ef 6.5px,#0002fe 11.5px,#001fff 19.5px,#002cff 31.5px,#0049ff 48.5px,#0047ff 67.5px,#0034ff 106.5px,#002aff 128.5px)"></i><i style="height:2px;background:linear-gradient(90deg,#0000f0 0.5px,#0000e7 6.5px,#0003ff 14.5px,#0016ff 23.5px,#0040ff 47.5px,#0042ff 69.5px,#0029ff 128.5px)"></i><i style="height:2px;background:linear-gradient(90deg,#0000e8 0.5px,#0000e2 6.5px,#0002ff 17.5px,#0026ff 35.5px,#003aff 46.5px,#003dff 71.5px,#002eff 111.5px,#0027ff 128.5px)"></i><i style="height:2px;background:linear-gradient(90deg,#0000e2 0.5px,#0000e1 7.5px,#0002ff 21.5px,#0027ff 37.5px,#0036ff 46.5px,#0039ff 73.5px,#002cff 110.5px,#0025ff 128.5px)"></i><i style="height:2px;background:linear-gradient(90deg,#0000de 0.5px,#0000df 7.5px,#0004ff 26.5px,#0031ff 43.5px,#0036ff 73.5px,#002aff 109.5px,#0024ff 128.5px)"></i><i style="height:2px;background:linear-gradient(90deg,#0000db 0.5px,#0000de 8.5px,#0004ff 28.5px,#002eff 43.5px,#0034ff 73.5px,#0028ff 110.5px,#0023ff 128.5px)"></i><i style="height:2px;background:linear-gradient(90deg,#0000d9 0.5px,#0000df 10.5px,#0003ff 29.5px,#002bff 44.5px,#0033ff 72.5px,#0026ff 110.5px,#0021ff 128.5px)"></i><i style="height:2px;background:linear-gradient(90deg,#0000d7 0.5px,#0000de 11.5px,#0004ff 31.5px,#0029ff 45.5px,#0032ff 70.5px,#0025ff 111.5px,#0020ff 128.5px)"></i><i style="height:2px;background:linear-gradient(90deg,#0000d6 0.5px,#0000df 13.5px,#0003ff 32.5px,#0028ff 47.5px,#0031ff 70.5px,#0023ff 112.5px,#001fff 128.5px)"></i><i style="height:2px;background:linear-gradient(90deg,#0000d6 0.5px,#0000e0 15.5px,#0002ff 33.5px,#0028ff 49.5px,#0030ff 70.5px,#0022ff 112.5px,#001dff 128.5px)"></i><i style="height:2px;background:linear-gradient(90deg,#0000d6 0.5px,#0000e0 17.5px,#0000fc 33.5px,#002aff 53.5px,#002eff 74.5px,#0021ff 113.5px,#001cff 128.5px)"></i><i style="height:2px;background:linear-gradient(90deg,#0000d6 0.5px,#0000e1 20.5px,#0004ff 37.5px,#002aff 54.5px,#002eff 74.5px,#001fff 114.5px,#001bff 128.5px)"></i><i style="height:2px;background:linear-gradient(90deg,#0000d6 0.5px,#0000e1 22.5px,#0003ff 38.5px,#0029ff 55.5px,#002eff 73.5px,#001eff 115.5px,#001aff 128.5px)"></i><i style="height:2px;background:linear-gradient(90deg,#0000d7 0.5px,#0000e3 25.5px,#0004ff 40.5px,#0029ff 57.5px,#002cff 75.5px,#001dff 115.5px,#0019ff 128.5px)"></i><i style="height:2px;background:linear-gradient(90deg,#0000d8 0.5px,#0000e2 26.5px,#0002ff 41.5px,#0029ff 58.5px,#002bff 76.5px,#001cff 116.5px,#0018ff 128.5px)"></i><i style="height:2px;background:linear-gradient(90deg,#0000d9 0.5px,#0000e3 28.5px,#0004ff 43.5px,#002aff 60.5px,#0029ff 80.5px,#001aff 121.5px,#0017ff 128.5px)"></i><i style="height:2px;background:linear-gradient(90deg,#0000db 0.5px,#0000e4 30.5px,#0003ff 44.5px,#0029ff 60.5px,#0029ff 79.5px,#001aff 117.5px,#0016ff 128.5px)"></i><i style="height:2px;background:linear-gradient(90deg,#0000dc 0.5px,#0000e5 32.5px,#0002ff 45.5px,#0028ff 61.5px,#0028ff 80.5px,#0019ff 117.5px,#0015ff 128.5px)"></i><i style="height:2px;background:linear-gradient(90deg,#0000de 0.5px,#0000e5 33.5px,#0005ff 47.5px,#0027ff 62.5px,#0027ff 81.5px,#0018ff 117.5px,#0015ff 128.5px)"></i><i style="height:2px;background:linear-gradient(90deg,#0000e0 0.5px,#0000e5 34.5px,#0004ff 48.5px,#0025ff 62.5px,#0027ff 80.5px,#0018ff 115.5px,#0014ff 128.5px)"></i><i style="height:2px;background:linear-gradient(90deg,#0000e1 0.5px,#0000e5 35.5px,#0004ff 49.5px,#0025ff 64.5px,#0025ff 82.5px,#0017ff 115.5px,#0013ff 128.5px)"></i><i style="height:2px;background:linear-gradient(90deg,#0000e3 0.5px,#0000e5 36.5px,#0003ff 50.5px,#0024ff 65.5px,#0024ff 83.5px,#0017ff 115.5px,#0013ff 128.5px)"></i><i style="height:2px;background:linear-gradient(90deg,#0000e4 0.5px,#0000e5 37.5px,#0003ff 51.5px,#0023ff 66.5px,#0022ff 84.5px,#0016ff 116.5px,#0012ff 128.5px)"></i><i style="height:2px;background:linear-gradient(90deg,#0000e5 0.5px,#0000e6 38.5px,#0003ff 52.5px,#0022ff 67.5px,#0021ff 85.5px,#0012ff 128.5px)"></i><i style="height:2px;background:linear-gradient(90deg,#0000e6 0.5px,#0000e5 38.5px,#0003ff 53.5px,#0022ff 68.5px,#0020ff 87.5px,#0011ff 128.5px)"></i><i style="height:2px;background:linear-gradient(90deg,#0000e7 0.5px,#0000e6 39.5px,#0004ff 54.5px,#0021ff 69.5px,#001eff 89.5px,#0011ff 128.5px)"></i><i style="height:2px;background:linear-gradient(90deg,#0000e7 0.5px,#0000e7 40.5px,#0003ff 54.5px,#0021ff 70.5px,#001cff 91.5px,#0010ff 128.5px)"></i><i style="height:2px;background:linear-gradient(90deg,#0000e7 0.5px,#0000e7 40.5px,#0004ff 55.5px,#0020ff 71.5px,#001aff 95.5px,#0010ff 128.5px)"></i><i style="height:2px;background:linear-gradient(90deg,#0000e7 0.5px,#0000e8 40.5px,#0004ff 55.5px,#001fff 71.5px,#001aff 94.5px,#0010ff 128.5px)"></i><i style="height:2px;background:linear-gradient(90deg,#0000e7 0.5px,#0000e9 40.5px,#0003ff 55.5px,#001fff 72.5px,#000fff 128.5px)"></i><i style="height:2px;background:linear-gradient(90deg,#0000e7 0.5px,#0000ea 40.5px,#0003ff 55.5px,#001fff 73.5px,#000fff 128.5px)"></i><i style="height:2px;background:linear-gradient(90deg,#0000e7 0.5px,#0000eb 40.5px,#0005ff 56.5px,#001eff 74.5px,#000eff 128.5px)"></i><i style="height:2px;background:linear-gradient(90deg,#0000e7 0.5px,#0000ec 40.5px,#0004ff 56.5px,#001eff 75.5px,#000dff 128.5px)"></i><i style="height:2px;background:linear-gradient(90deg,#0000e7 0.5px,#0000ee 41.5px,#0004ff 56.5px,#001dff 76.5px,#000dff 128.5px)"></i><i style="height:2px;background:linear-gradient(90deg,#0000e7 0.5px,#0000ef 41.5px,#0004ff 56.5px,#001cff 76.5px,#000cff 128.5px)"></i><i style="height:2px;background:linear-gradient(90deg,#0000e7 0.5px,#0000f0 41.5px,#0005ff 57.5px,#001aff 77.5px,#000bff 128.5px)"></i><i style="height:2px;background:linear-gradient(90deg,#0000e7 0.5px,#0000f2 42.5px,#0005ff 58.5px,#0017ff 78.5px,#000aff 128.5px)"></i><i style="height:2px;background:linear-gradient(90deg,#0000e6 0.5px,#0000f2 42.5px,#0006ff 59.5px,#0014ff 79.5px,#0009ff 128.5px)"></i><i style="height:2px;background:linear-gradient(90deg,#0000e6 0.5px,#0000f3 43.5px,#0005ff 60.5px,#0011ff 82.5px,#0009ff 127.5px,#0008ff 128.5px)"></i><i style="height:2px;background:linear-gradient(90deg,#0000e6 0.5px,#0000f4 44.5px,#0006ff 63.5px,#000dff 91.5px,#0009ff 126.5px,#0007ff 128.5px)"></i><i style="height:2px;background:linear-gradient(90deg,#0000e6 0.5px,#0000f4 44.5px,#0006ff 66.5px,#000aff 122.5px,#0006ff 128.5px)"></i><i style="height:2px;background:linear-gradient(90deg,#0000e6 0.5px,#0000f4 45.5px,#0005ff 69.5px,#0008ff 122.5px,#0004ff 128.5px)"></i><i style="height:2px;background:linear-gradient(90deg,#0000e5 0.5px,#0000f5 47.5px,#0003ff 75.5px,#0007ff 122.5px,#0002ff 128.5px)"></i><i style="height:2px;background:linear-gradient(90deg,#0000e5 0.5px,#0000f5 49.5px,#0003ff 84.5px,#0004ff 123.5px,#0000ff 128.5px)"></i><i style="height:2px;background:linear-gradient(90deg,#0000e4 0.5px,#0000f5 52.5px,#0005ff 104.5px,#0000fd 128.5px)"></i><i style="height:1px;background:linear-gradient(90deg,#0000e4 0.5px,#0000f6 56.5px,#0004ff 115.5px,#0000fc 128.5px)"></i></div></div></div><div class="fo" style="left:45.3px;top:216px;width:117.2px;height:143.4px"><div style="position:absolute;left:-5.3px;top:-5px;width:128px"><div class="fi" style="filter:blur(0.8px)"><i style="height:2px;background:linear-gradient(90deg,#ff1a00 0.5px,#ff1a00 5.5px,#ff2c00 7.5px,#ff6500 10.5px,#ffd700 14.5px,#fff700 15.5px,#c6ff39 17.5px,#4dffb2 21.5px,#05fffa 24.5px,#00b4ff 29.5px,#008cff 34.5px,#0075ff 42.5px,#0068ff 80.5px,#0066ff 127.5px)"></i><i style="height:2px;background:linear-gradient(90deg,#ff1a00 0.5px,#ff1a00 5.5px,#ff2c00 7.5px,#ff6500 10.5px,#ffd700 14.5px,#fff700 15.5px,#c6ff39 17.5px,#4dffb2 21.5px,#05fffa 24.5px,#00b4ff 29.5px,#008cff 34.5px,#0075ff 42.5px,#0068ff 80.5px,#0066ff 127.5px)"></i><i style="height:2px;background:linear-gradient(90deg,#ff1a00 0.5px,#ff1a00 5.5px,#ff2c00 7.5px,#ff6500 10.5px,#ffd700 14.5px,#fff700 15.5px,#c6ff39 17.5px,#4dffb2 21.5px,#05fffa 24.5px,#00b4ff 29.5px,#008cff 34.5px,#0075ff 42.5px,#0068ff 80.5px,#0066ff 127.5px)"></i><i style="height:2px;background:linear-gradient(90deg,#ff1a00 0.5px,#ff1a00 5.5px,#ff2c00 7.5px,#ff6500 10.5px,#ffd700 14.5px,#fff700 15.5px,#c6ff39 17.5px,#4dffb2 21.5px,#05fffa 24.5px,#00b4ff 29.5px,#008cff 34.5px,#0075ff 42.5px,#0068ff 80.5px,#0066ff 127.5px)"></i><i style="height:2px;background:linear-gradient(90deg,#ff1a00 0.5px,#ff1a00 5.5px,#ff2c00 7.5px,#ff6500 10.5px,#ffd700 14.5px,#fff700 15.5px,#c6ff39 17.5px,#4dffb2 21.5px,#05fffa 24.5px,#00b4ff 29.5px,#008cff 34.5px,#0075ff 42.5px,#0068ff 80.5px,#0066ff 127.5px)"></i><i style="height:2px;background:linear-gradient(90deg,#ff1a00 0.5px,#ff1a00 5.5px,#ff2c00 7.5px,#ff6500 10.5px,#ffd700 14.5px,#fff700 15.5px,#c6ff39 17.5px,#4dffb2 21.5px,#05fffa 24.5px,#00b4ff 29.5px,#008cff 34.5px,#0075ff 42.5px,#0068ff 80.5px,#0066ff 127.5px)"></i><i style="height:2px;background:linear-gradient(90deg,#ff1a00 0.5px,#ff1a00 5.5px,#ff2c00 7.5px,#ff6500 10.5px,#ffd700 14.5px,#fff700 15.5px,#c6ff39 17.5px,#4dffb2 21.5px,#05fffa 24.5px,#00b4ff 29.5px,#008cff 34.5px,#0075ff 42.5px,#0068ff 80.5px,#0066ff 127.5px)"></i><i style="height:2px;background:linear-gradient(90deg,#ff1a00 0.5px,#ff1a00 5.5px,#ff2c00 7.5px,#ff6500 10.5px,#ffd700 14.5px,#fff700 15.5px,#c6ff39 17.5px,#4dffb2 21.5px,#05fffa 24.5px,#00b4ff 29.5px,#008cff 34.5px,#0075ff 42.5px,#0068ff 80.5px,#0066ff 127.5px)"></i><i style="height:2px;background:linear-gradient(90deg,#ff1a00 0.5px,#ff1a00 5.5px,#ff2c00 7.5px,#ff6500 10.5px,#ffd700 14.5px,#fff700 15.5px,#c6ff39 17.5px,#4dffb2 21.5px,#05fffa 24.5px,#00b4ff 29.5px,#008cff 34.5px,#0075ff 42.5px,#0068ff 80.5px,#0066ff 127.5px)"></i><i style="height:2px;background:linear-gradient(90deg,#ff1900 0.5px,#ff1900 5.5px,#ff2b00 7.5px,#ff6400 10.5px,#ffd700 14.5px,#fff700 15.5px,#e7ff18 16.5px,#4effb1 21.5px,#05fffa 24.5px,#00c0ff 28.5px,#0098ff 32.5px,#007dff 38.5px,#006dff 54.5px,#0066ff 127.5px)"></i><i style="height:2px;background:linear-gradient(90deg,#ff1400 0.5px,#ff1400 5.5px,#ff2700 7.5px,#ff6000 10.5px,#ffd300 14.5px,#fff400 15.5px,#e9ff16 16.5px,#4fffb0 21.5px,#06fff9 24.5px,#00dfff 26.5px,#00aaff 30.5px,#0087ff 35.5px,#0073ff 44.5px,#0067ff 92.5px,#0066ff 127.5px)"></i><i style="height:2px;background:linear-gradient(90deg,#ff0e00 0.5px,#ff0e00 5.5px,#ff2100 7.5px,#ff5b00 10.5px,#ffaf00 13.5px,#fff000 15.5px,#edff12 16.5px,#51ffae 21.5px,#08fff7 24.5px,#00e0ff 26.5px,#00aaff 30.5px,#0087ff 35.5px,#0073ff 44.5px,#0067ff 92.5px,#0066ff 127.5px)"></i><i style="height:2px;background:linear-gradient(90deg,#ff0900 0.5px,#ff0900 5.5px,#ff1c00 7.5px,#ff5600 10.5px,#ffab00 13.5px,#ffec00 15.5px,#f0ff0f 16.5px,#53ffac 21.5px,#09fff6 24.5px,#00f4ff 25.5px,#00b6ff 29.5px,#008dff 34.5px,#0076ff 42.5px,#0068ff 79.5px,#0066ff 127.5px)"></i><i style="height:2px;background:linear-gradient(90deg,#ff0300 0.5px,#ff0300 5.5px,#ff1600 7.5px,#ff5100 10.5px,#ffa700 13.5px,#ffe900 15.5px,#f3ff0c 16.5px,#55ffaa 21.5px,#0bfff4 24.5px,#00f5ff 25.5px,#00b6ff 29.5px,#008dff 34.5px,#0076ff 42.5px,#0068ff 78.5px,#0066ff 127.5px)"></i><i style="height:2px;background:linear-gradient(90deg,#fd0000 0.5px,#fd0000 5.5px,#ff1100 7.5px,#ff4c00 10.5px,#ffa300 13.5px,#ffe500 15.5px,#f7ff08 16.5px,#57ffa8 21.5px,#0cfff3 24.5px,#00f6ff 25.5px,#00b7ff 29.5px,#0093ff 33.5px,#0079ff 40.5px,#006aff 65.5px,#0066ff 127.5px)"></i><i style="height:2px;background:linear-gradient(90deg,#eb0000 0.5px,#eb0000 5.5px,#fb0300 7.5px,#ff0f00 8.5px,#ff5500 11.5px,#ffd400 15.5px,#fff600 16.5px,#e5ff1a 17.5px,#65ff9a 21.5px,#17ffe8 24.5px,#03fdfc 25.5px,#00beff 29.5px,#0097ff 33.5px,#007dff 39.5px,#006dff 56.5px,#0066ff 127.5px)"></i><i style="height:2px;background:linear-gradient(90deg,#d40000 0.5px,#d40000 5.5px,#e70000 7.5px,#f70000 8.5px,#ff0c00 9.5px,#ff5b00 12.5px,#fbff04 17.5px,#78ff87 21.5px,#27ffd8 24.5px,#00faff 26.5px,#00bbff 30.5px,#0090ff 35.5px,#0079ff 42.5px,#006aff 69.5px,#0066ff 127.5px)"></i><i style="height:2px;background:linear-gradient(90deg,#c50000 0.5px,#c50000 5.5px,#d90000 7.5px,#fc0100 9.5px,#ff2f00 11.5px,#ffae00 15.5px,#fff400 17.5px,#e7ff18 18.5px,#67ff98 22.5px,#1affe5 25.5px,#05fffa 26.5px,#00b5ff 31.5px,#008eff 36.5px,#0077ff 44.5px,#0069ff 79.5px,#0066ff 127.5px)"></i><i style="height:2px;background:linear-gradient(90deg,#b70000 0.5px,#b70000 5.5px,#ca0000 7.5px,#ff0600 10.5px,#ff5c00 13.5px,#ffe600 17.5px,#f5ff0a 18.5px,#74ff8b 22.5px,#24ffdb 25.5px,#0efff1 26.5px,#00f9ff 27.5px,#00bbff 31.5px,#0091ff 36.5px,#0078ff 44.5px,#0069ff 75.5px,#0066ff 127.5px)"></i><i style="height:2px;background:linear-gradient(90deg,#a90000 0.5px,#a90000 5.5px,#bd0000 7.5px,#f70000 10.5px,#ff1200 11.5px,#ff9100 15.5px,#fffb00 18.5px,#63ff9c 23.5px,#18ffe7 26.5px,#03fffc 27.5px,#00c2ff 31.5px,#0095ff 36.5px,#007bff 43.5px,#006cff 66.5px,#0066ff 127.5px)"></i><i style="height:2px;background:linear-gradient(90deg,#a20000 0.5px,#a20000 5.5px,#b50000 7.5px,#ee0000 10.5px,#ff0900 11.5px,#ff8700 15.5px,#fff000 18.5px,#ebff14 19.5px,#6dff92 23.5px,#20ffdf 26.5px,#0bfff4 27.5px,#00f6ff 28.5px,#00bbff 32.5px,#0092ff 37.5px,#0079ff 45.5px,#006aff 76.5px,#0066ff 127.5px)"></i><i style="height:2px;background:linear-gradient(90deg,#9b0000 0.5px,#9b0000 5.5px,#bd0000 8.5px,#fe0100 11.5px,#ff7d00 15.5px,#ffe600 18.5px,#f6ff09 19.5px,#76ff89 23.5px,#13ffec 27.5px,#00fdff 28.5px,#00c0ff 32.5px,#0095ff 37.5px,#007cff 44.5px,#006cff 67.5px,#0066ff 127.5px)"></i><i style="height:2px;background:linear-gradient(90deg,#950000 0.5px,#950000 5.5px,#b60000 8.5px,#f80000 11.5px,#ff1500 12.5px,#ffb900 17.5px,#fefe01 19.5px,#64ff9b 24.5px,#06fff9 28.5px,#00e2ff 30.5px,#00b0ff 34.5px,#008dff 39.5px,#0077ff 48.5px,#0068ff 88.5px,#0066ff 127.5px)"></i><i style="height:2px;background:linear-gradient(90deg,#920000 0.5px,#920000 5.5px,#b40000 8.5px,#f40000 11.5px,#ff1000 12.5px,#ffb200 17.5px,#fff600 19.5px,#e6ff19 20.5px,#6cff93 24.5px,#0dfff2 28.5px,#00f9ff 29.5px,#00bfff 33.5px,#0095ff 38.5px,#007bff 46.5px,#006bff 74.5px,#0066ff 127.5px)"></i><i style="height:2px;background:linear-gradient(90deg,#910000 0.5px,#910000 5.5px,#b20000 8.5px,#f10000 11.5px,#ff0c00 12.5px,#ffab00 17.5px,#ffef00 19.5px,#eeff11 20.5px,#74ff8b 24.5px,#14ffeb 28.5px,#01fefe 29.5px,#00c3ff 33.5px,#0098ff 38.5px,#007eff 45.5px,#006dff 66.5px,#0066ff 127.5px)"></i><i style="height:2px;background:linear-gradient(90deg,#900000 0.5px,#900000 5.5px,#af0000 8.5px,#ed0000 11.5px,#ff0800 12.5px,#ffa500 17.5px,#ffe800 19.5px,#f5ff0a 20.5px,#7cff83 24.5px,#1bffe4 28.5px,#07fff8 29.5px,#00e4ff 31.5px,#00b3ff 35.5px,#0090ff 40.5px,#0078ff 49.5px,#0069ff 86.5px,#0066ff 127.5px)"></i><i style="height:2px;background:linear-gradient(90deg,#910000 0.5px,#910000 5.5px,#b10000 8.5px,#ed0000 11.5px,#ff0700 12.5px,#ffa000 17.5px,#fbff04 20.5px,#68ff97 25.5px,#0dfff2 29.5px,#00faff 30.5px,#00c1ff 34.5px,#0097ff 39.5px,#007cff 47.5px,#006cff 72.5px,#0067ff 127.5px)"></i><i style="height:2px;background:linear-gradient(90deg,#960000 0.5px,#960000 5.5px,#b50000 8.5px,#ef0000 11.5px,#ff0900 12.5px,#ff9e00 17.5px,#fffe00 20.5px,#6dff92 25.5px,#12ffed 29.5px,#00feff 30.5px,#00c5ff 34.5px,#009aff 39.5px,#007fff 46.5px,#006eff 65.5px,#0067ff 127.5px)"></i><i style="height:2px;background:linear-gradient(90deg,#9c0000 0.5px,#9c0000 5.5px,#ba0000 8.5px,#f30000 11.5px,#ff0c00 12.5px,#ff9d00 17.5px,#fffc00 20.5px,#59ffa6 26.5px,#04fffb 30.5px,#00bdff 35.5px,#0096ff 40.5px,#007cff 48.5px,#006cff 74.5px,#0067ff 127.5px)"></i><i style="height:2px;background:linear-gradient(90deg,#a40000 0.5px,#a40000 5.5px,#c10000 8.5px,#f80000 11.5px,#ff1000 12.5px,#ff9d00 17.5px,#fffa00 20.5px,#90ff6f 24.5px,#30ffcf 28.5px,#09fff6 30.5px,#00f7ff 31.5px,#00c1ff 35.5px,#0099ff 40.5px,#007dff 48.5px,#006cff 72.5px,#0067ff 127.5px)"></i><i style="height:2px;background:linear-gradient(90deg,#b40000 0.5px,#b40000 5.5px,#cf0000 8.5px,#ff0500 11.5px,#ff6800 15.5px,#fffb00 20.5px,#60ff9f 26.5px,#0cfff3 30.5px,#00faff 31.5px,#00c4ff 35.5px,#009bff 40.5px,#007eff 48.5px,#006dff 70.5px,#0067ff 127.5px)"></i><i style="height:2px;background:linear-gradient(90deg,#cc0000 0.5px,#cc0000 5.5px,#e60000 8.5px,#ff0600 10.5px,#ff5d00 14.5px,#fcff03 20.5px,#5fffa0 26.5px,#0efff1 30.5px,#00fcff 31.5px,#00bcff 36.5px,#0091ff 42.5px,#0079ff 51.5px,#006aff 85.5px,#0067ff 127.5px)"></i><i style="height:2px;background:linear-gradient(90deg,#e60000 0.5px,#e60000 5.5px,#fb0300 8.5px,#ff1c00 10.5px,#ff6e00 14.5px,#fff000 19.5px,#f3ff0c 20.5px,#5dffa2 26.5px,#0efff1 30.5px,#00fdff 31.5px,#00bdff 36.5px,#0093ff 42.5px,#0079ff 51.5px,#006aff 84.5px,#0067ff 127.5px)"></i><i style="height:2px;background:linear-gradient(90deg,#fe0600 0.5px,#ff0a00 6.5px,#ff2800 9.5px,#ff6e00 13.5px,#fefc01 19.5px,#59ffa6 26.5px,#0dfff2 30.5px,#00fcff 31.5px,#00beff 36.5px,#0093ff 42.5px,#007aff 51.5px,#006aff 82.5px,#0067ff 127.5px)"></i><i style="height:2px;background:linear-gradient(90deg,#ff2600 0.5px,#ff2600 5.5px,#ff3b00 8.5px,#ff7400 12.5px,#ffdd00 17.5px,#fff400 18.5px,#f2ff0d 19.5px,#54ffab 26.5px,#0bfff4 30.5px,#00fbff 31.5px,#00beff 36.5px,#0094ff 42.5px,#007aff 51.5px,#006bff 81.5px,#0067ff 127.5px)"></i><i style="height:2px;background:linear-gradient(90deg,#ff5200 0.5px,#ff5600 6.5px,#ff7b00 10.5px,#ffbb00 14.5px,#fff600 17.5px,#f3ff0c 18.5px,#4cffb3 26.5px,#08fff7 30.5px,#00ebff 32.5px,#00b5ff 37.5px,#008cff 44.5px,#0075ff 55.5px,#0068ff 107.5px,#0067ff 127.5px)"></i><i style="height:2px;background:linear-gradient(90deg,#ff8100 0.5px,#ff8500 6.5px,#ffa600 10.5px,#ffef00 15.5px,#fafc05 16.5px,#20ffdf 28.5px,#03fffc 30.5px,#00bdff 36.5px,#0090ff 43.5px,#0077ff 53.5px,#0069ff 91.5px,#0067ff 127.5px)"></i><i style="height:2px;background:linear-gradient(90deg,#ffb800 0.5px,#ffbb00 6.5px,#ffd700 10.5px,#fcf703 13.5px,#e7ff18 15.5px,#15ffea 28.5px,#00f9ff 30.5px,#00baff 36.5px,#008fff 43.5px,#0077ff 53.5px,#0069ff 89.5px,#0067ff 127.5px)"></i><i style="height:2px;background:linear-gradient(90deg,#ffee00 0.5px,#fff100 6.5px,#f4fe0b 10.5px,#bfff40 15.5px,#09fff6 28.5px,#00fcff 29.5px,#00b7ff 36.5px,#008eff 43.5px,#0075ff 54.5px,#0068ff 96.5px,#0067ff 127.5px)"></i><i style="height:2px;background:linear-gradient(90deg,#e0ff1f 0.5px,#deff21 6.5px,#c2ff3d 11.5px,#78ff87 18.5px,#00fcff 28.5px,#00bbff 35.5px,#008eff 43.5px,#0075ff 54.5px,#0068ff 95.5px,#0067ff 127.5px)"></i><i style="height:2px;background:linear-gradient(90deg,#b3ff4c 0.5px,#aeff51 7.5px,#8aff75 13.5px,#10ffef 25.5px,#00faff 27.5px,#00b5ff 35.5px,#008cff 43.5px,#0073ff 55.5px,#0068ff 103.5px,#0067ff 127.5px)"></i><i style="height:2px;background:linear-gradient(90deg,#8aff75 0.5px,#85ff7a 7.5px,#60ff9f 14.5px,#02fcfd 25.5px,#00b0ff 35.5px,#0087ff 44.5px,#0071ff 57.5px,#0067ff 127.5px)"></i><i style="height:2px;background:linear-gradient(90deg,#62ff9d 0.5px,#5effa1 7.5px,#40ffbf 14.5px,#01fcfe 23.5px,#00aaff 35.5px,#0083ff 45.5px,#006eff 60.5px,#0067ff 127.5px)"></i><i style="height:2px;background:linear-gradient(90deg,#42ffbd 0.5px,#3dffc2 8.5px,#14ffeb 17.5px,#00faff 21.5px,#00a5ff 35.5px,#007fff 46.5px,#006dff 63.5px,#0067ff 127.5px)"></i><i style="height:2px;background:linear-gradient(90deg,#25ffda 0.5px,#1effe1 9.5px,#02fcfd 17.5px,#0097ff 37.5px,#0077ff 50.5px,#0069ff 76.5px,#0067ff 127.5px)"></i><i style="height:2px;background:linear-gradient(90deg,#0ffff0 0.5px,#09fff6 9.5px,#00f6ff 15.5px,#0091ff 38.5px,#0074ff 52.5px,#0068ff 86.5px,#0067ff 127.5px)"></i><i style="height:2px;background:linear-gradient(90deg,#00faff 0.5px,#00f3ff 10.5px,#00c2ff 24.5px,#0088ff 40.5px,#006fff 56.5px,#0067ff 127.5px)"></i><i style="height:2px;background:linear-gradient(90deg,#00e6ff 0.5px,#00deff 11.5px,#0081ff 42.5px,#006cff 61.5px,#0067ff 127.5px)"></i><i style="height:2px;background:linear-gradient(90deg,#00d1ff 0.5px,#00c7ff 13.5px,#007cff 43.5px,#006aff 65.5px,#0067ff 127.5px)"></i><i style="height:2px;background:linear-gradient(90deg,#00beff 0.5px,#00b4ff 14.5px,#0077ff 44.5px,#0069ff 71.5px,#0067ff 127.5px)"></i><i style="height:2px;background:linear-gradient(90deg,#00b0ff 0.5px,#00a4ff 16.5px,#0073ff 46.5px,#0068ff 82.5px,#0066ff 127.5px)"></i><i style="height:2px;background:linear-gradient(90deg,#00a3ff 0.5px,#0095ff 19.5px,#006fff 49.5px,#0067ff 116.5px,#0066ff 127.5px)"></i><i style="height:2px;background:linear-gradient(90deg,#0095ff 0.5px,#0086ff 23.5px,#006bff 54.5px,#0066ff 127.5px)"></i><i style="height:2px;background:linear-gradient(90deg,#0088ff 0.5px,#0073ff 36.5px,#0067ff 81.5px,#0066ff 127.5px)"></i><i style="height:2px;background:linear-gradient(90deg,#007cff 0.5px,#0068ff 70.5px,#0066ff 127.5px)"></i><i style="height:2px;background:linear-gradient(90deg,#0072ff 0.5px,#0067ff 98.5px,#0066ff 127.5px)"></i><i style="height:2px;background:linear-gradient(90deg,#006aff 0.5px,#0066ff 127.5px)"></i><i style="height:2px;background:linear-gradient(90deg,#0061ff 0.5px,#0066ff 127.5px)"></i><i style="height:2px;background:linear-gradient(90deg,#0058ff 0.5px,#0063ff 44.5px,#0066ff 127.5px)"></i><i style="height:2px;background:linear-gradient(90deg,#004fff 0.5px,#0057ff 28.5px,#0067ff 69.5px,#0066ff 127.5px)"></i><i style="height:2px;background:linear-gradient(90deg,#0047ff 0.5px,#004eff 23.5px,#0065ff 60.5px,#0066ff 127.5px)"></i><i style="height:2px;background:linear-gradient(90deg,#003eff 0.5px,#0045ff 21.5px,#0063ff 57.5px,#0066ff 127.5px)"></i><i style="height:2px;background:linear-gradient(90deg,#0037ff 0.5px,#003eff 19.5px,#0062ff 55.5px,#0066ff 127.5px)"></i><i style="height:2px;background:linear-gradient(90deg,#0033ff 0.5px,#0039ff 18.5px,#0061ff 54.5px,#0066ff 127.5px)"></i><i style="height:2px;background:linear-gradient(90deg,#002fff 0.5px,#0036ff 18.5px,#0060ff 53.5px,#0066ff 113.5px,#0066ff 127.5px)"></i><i style="height:2px;background:linear-gradient(90deg,#002bff 0.5px,#0031ff 17.5px,#005fff 52.5px,#0067ff 99.5px,#0066ff 127.5px)"></i><i style="height:2px;background:linear-gradient(90deg,#0027ff 0.5px,#002cff 16.5px,#005eff 52.5px,#0067ff 96.5px,#0066ff 127.5px)"></i><i style="height:2px;background:linear-gradient(90deg,#0023ff 0.5px,#0029ff 16.5px,#005dff 51.5px,#0067ff 88.5px,#0066ff 127.5px)"></i><i style="height:2px;background:linear-gradient(90deg,#001fff 0.5px,#0024ff 15.5px,#005cff 51.5px,#0067ff 86.5px,#0066ff 127.5px)"></i><i style="height:2px;background:linear-gradient(90deg,#001bff 0.5px,#0020ff 15.5px,#005bff 51.5px,#0066ff 84.5px,#0066ff 127.5px)"></i><i style="height:2px;background:linear-gradient(90deg,#0017ff 0.5px,#001cff 15.5px,#005aff 51.5px,#0066ff 83.5px,#0066ff 127.5px)"></i><i style="height:2px;background:linear-gradient(90deg,#0013ff 0.5px,#0019ff 15.5px,#0059ff 51.5px,#0066ff 82.5px,#0066ff 127.5px)"></i><i style="height:2px;background:linear-gradient(90deg,#000fff 0.5px,#0014ff 14.5px,#0058ff 51.5px,#0066ff 80.5px,#0066ff 127.5px)"></i><i style="height:2px;background:linear-gradient(90deg,#000bff 0.5px,#0010ff 14.5px,#0057ff 51.5px,#0065ff 79.5px,#0066ff 127.5px)"></i><i style="height:2px;background:linear-gradient(90deg,#0007ff 0.5px,#000cff 14.5px,#0056ff 51.5px,#0065ff 79.5px,#0066ff 127.5px)"></i><i style="height:2px;background:linear-gradient(90deg,#0007ff 0.5px,#000cff 14.5px,#0056ff 51.5px,#0065ff 78.5px,#0066ff 127.5px)"></i><i style="height:2px;background:linear-gradient(90deg,#0007ff 0.5px,#000cff 14.5px,#0056ff 51.5px,#0065ff 78.5px,#0066ff 127.5px)"></i></div></div></div><div class="fo" style="left:284.2px;top:212.3px;width:119.9px;height:146.4px"><div style="position:absolute;left:-5.2px;top:-5.3px;width:131px"><div class="fi" style="filter:blur(0.8px)"><i style="height:2px;background:linear-gradient(90deg,#d70000 0.5px,#fa0000 3.5px,#ff1e00 6.5px,#ffa000 16.5px,#fffd00 22.5px,#05fffa 37.5px,#00f5ff 38.5px,#0000db 39.5px,#0000db 130.5px)"></i><i style="height:2px;background:linear-gradient(90deg,#da0000 0.5px,#fc0000 3.5px,#ff6900 12.5px,#ffee00 21.5px,#ffff00 22.5px,#08fff7 36.5px,#00e7ff 38.5px,#0000db 39.5px,#0000db 130.5px)"></i><i style="height:2px;background:linear-gradient(90deg,#dd0000 0.5px,#fe0000 3.5px,#ff7600 13.5px,#ffef00 21.5px,#feff01 22.5px,#0cfff3 35.5px,#00faff 36.5px,#00d9ff 38.5px,#0000db 39.5px,#0000db 130.5px)"></i><i style="height:2px;background:linear-gradient(90deg,#e00000 0.5px,#ff0100 3.5px,#ff8300 14.5px,#ffee00 21.5px,#feff01 22.5px,#01fdfe 35.5px,#00caff 38.5px,#0000db 39.5px,#0000db 130.5px)"></i><i style="height:2px;background:linear-gradient(90deg,#e40000 0.5px,#ff0400 3.5px,#ff8100 14.5px,#ffec00 21.5px,#fffe00 22.5px,#5affa5 30.5px,#06fff9 34.5px,#00cbff 37.5px,#00baff 38.5px,#0000db 39.5px,#0000db 130.5px)"></i><i style="height:2px;background:linear-gradient(90deg,#e80000 0.5px,#fc0000 2.5px,#ff7300 13.5px,#ffc700 19.5px,#fffc00 22.5px,#b0ff4f 26.5px,#0efff1 33.5px,#00f8ff 34.5px,#00a9ff 38.5px,#0000db 39.5px,#0000db 130.5px)"></i><i style="height:2px;background:linear-gradient(90deg,#ec0000 0.5px,#ff0100 2.5px,#ff7d00 14.5px,#ffd300 20.5px,#fff700 22.5px,#f3ff0c 23.5px,#67ff98 29.5px,#03fffc 33.5px,#0096ff 38.5px,#0000db 39.5px,#0000db 130.5px)"></i><i style="height:2px;background:linear-gradient(90deg,#f20000 0.5px,#ff0600 2.5px,#ff7b00 14.5px,#ffcd00 20.5px,#f9ff06 23.5px,#9aff65 27.5px,#10ffef 32.5px,#00f4ff 33.5px,#0096ff 37.5px,#0083ff 38.5px,#0000db 39.5px,#0000db 130.5px)"></i><i style="height:2px;background:linear-gradient(90deg,#f80000 0.5px,#ff0c00 2.5px,#ff8400 15.5px,#ffc600 20.5px,#fffc00 23.5px,#d4ff2b 25.5px,#61ff9e 29.5px,#04fffb 32.5px,#0081ff 37.5px,#006dff 38.5px,#0000db 39.5px,#0000db 130.5px)"></i><i style="height:2px;background:linear-gradient(90deg,#fe0100 0.5px,#ff8d00 16.5px,#ffcd00 21.5px,#fff100 23.5px,#f7ff08 24.5px,#a4ff5b 27.5px,#1affe5 31.5px,#00f7ff 32.5px,#009bff 35.5px,#0056ff 38.5px,#0000db 39.5px,#0000db 130.5px)"></i><i style="height:2px;background:linear-gradient(90deg,#ff0700 0.5px,#ff4500 7.5px,#ff8c00 16.5px,#ffd100 22.5px,#fff700 24.5px,#eeff11 25.5px,#afff50 27.5px,#11ffee 31.5px,#00eaff 32.5px,#0085ff 35.5px,#003dff 38.5px,#0000db 39.5px,#0000db 130.5px)"></i><i style="height:2px;background:linear-gradient(90deg,#ff1000 0.5px,#ff4700 6.5px,#ff8f00 16.5px,#ffc400 22.5px,#ffe300 24.5px,#fefa01 25.5px,#e5ff1a 26.5px,#94ff6b 28.5px,#08fff7 31.5px,#00b3ff 33.5px,#006dff 35.5px,#0038ff 37.5px,#0024ff 38.5px,#0000db 39.5px,#0000db 130.5px)"></i><i style="height:2px;background:linear-gradient(90deg,#ff1800 0.5px,#ff4b00 5.5px,#ffb000 20.5px,#ffc100 23.5px,#ffe200 25.5px,#fbfd04 26.5px,#d4ff2b 27.5px,#01fffe 31.5px,#0079ff 34.5px,#0036ff 36.5px,#000aff 38.5px,#0000db 39.5px,#0000db 130.5px)"></i><i style="height:2px;background:linear-gradient(90deg,#ff1e00 0.5px,#ff5100 4.5px,#ffaa00 17.5px,#ffb900 23.5px,#ffd100 25.5px,#ffef00 26.5px,#e2ff1d 27.5px,#00feff 31.5px,#0095ff 33.5px,#003fff 35.5px,#001eff 36.5px,#0005fe 37.5px,#0000f1 38.5px,#0000db 39.5px,#0000db 130.5px)"></i><i style="height:2px;background:linear-gradient(90deg,#ff1f00 0.5px,#ff6000 4.5px,#ffb200 15.5px,#ffbc00 18.5px,#ffbc00 22.5px,#ffca00 24.5px,#ffdb00 25.5px,#fff700 26.5px,#e0ff1f 27.5px,#78ff87 29.5px,#00fdff 31.5px,#008bff 33.5px,#002fff 35.5px,#000bff 36.5px,#0000f0 37.5px,#0000e0 38.5px,#0000db 42.5px,#0000db 130.5px)"></i><i style="height:2px;background:linear-gradient(90deg,#ff1600 0.5px,#ff7900 5.5px,#ff8c00 7.5px,#ff9b00 10.5px,#ffb800 13.5px,#ffcb00 17.5px,#ffbf00 21.5px,#ffd200 24.5px,#fffa00 26.5px,#e4ff1b 27.5px,#b8ff47 28.5px,#42ffbd 30.5px,#01fffe 31.5px,#0086ff 33.5px,#0026ff 35.5px,#0002ff 36.5px,#0000e9 37.5px,#0000dc 38.5px,#0000db 130.5px)"></i><i style="height:2px;background:linear-gradient(90deg,#fa0300 0.5px,#ff2100 2.5px,#ff6e00 6.5px,#ff7b00 9.5px,#ffa900 12.5px,#ffbc00 15.5px,#ffc900 16.5px,#ffcd00 17.5px,#ffb700 20.5px,#ffb700 24.5px,#ffc300 25.5px,#ffd700 26.5px,#fdf602 27.5px,#d6ff29 28.5px,#9aff65 29.5px,#0bfff4 31.5px,#00c5ff 32.5px,#0052ff 34.5px,#0023ff 35.5px,#0000fe 36.5px,#0000e6 37.5px,#0000db 38.5px,#0000db 130.5px)"></i><i style="height:2px;background:linear-gradient(90deg,#da0000 0.5px,#f40500 3.5px,#ff2100 7.5px,#ff3100 9.5px,#ff6500 12.5px,#ff9d00 16.5px,#ffa200 17.5px,#ff8d00 20.5px,#ff7900 23.5px,#ff7b00 24.5px,#ff8600 25.5px,#ffa000 26.5px,#f8fe07 28.5px,#6eff91 30.5px,#23ffdc 31.5px,#00d7ff 32.5px,#0091ff 33.5px,#0056ff 34.5px,#0026ff 35.5px,#0002ff 36.5px,#0000dc 38.5px,#0000db 130.5px)"></i><i style="height:2px;background:linear-gradient(90deg,#b80000 0.5px,#c80000 6.5px,#ee0000 9.5px,#fd0600 10.5px,#ff6900 15.5px,#ff7800 16.5px,#ff7e00 17.5px,#ff7400 19.5px,#ff5000 22.5px,#ff5000 24.5px,#ff5e00 25.5px,#ff7b00 26.5px,#ffab00 27.5px,#ffea00 28.5px,#cbff34 29.5px,#2fffd0 31.5px,#00e1ff 32.5px,#0099ff 33.5px,#005cff 34.5px,#002cff 35.5px,#0008ff 36.5px,#0000f0 37.5px,#0000db 39.5px,#0000db 130.5px)"></i><i style="height:2px;background:linear-gradient(90deg,#a30000 0.5px,#a60000 6.5px,#c50000 8.5px,#f90000 10.5px,#ff4600 13.5px,#ff7c00 16.5px,#ff8100 17.5px,#ff7500 19.5px,#ff5300 22.5px,#ff4e00 23.5px,#ff5100 24.5px,#ff6000 25.5px,#ff7c00 26.5px,#ffa800 27.5px,#ffe500 28.5px,#cbff34 29.5px,#25ffda 31.5px,#00daff 32.5px,#0097ff 33.5px,#005cff 34.5px,#002dff 35.5px,#000aff 36.5px,#0000f2 37.5px,#0000db 39.5px,#0000db 130.5px)"></i><i style="height:2px;background:linear-gradient(90deg,#a30000 0.5px,#ad0000 5.5px,#c40000 7.5px,#f30000 9.5px,#ff1000 10.5px,#ff5f00 13.5px,#ff9500 16.5px,#ff9a00 17.5px,#ff7b00 21.5px,#ff6b00 23.5px,#ff6e00 24.5px,#ff7d00 25.5px,#ff9b00 26.5px,#ffca00 27.5px,#f5fe0a 28.5px,#0ffff0 31.5px,#00c9ff 32.5px,#0054ff 34.5px,#0026ff 35.5px,#0004ff 36.5px,#0000e1 38.5px,#0000db 41.5px,#0000db 130.5px)"></i><i style="height:2px;background:linear-gradient(90deg,#b70000 0.5px,#d90000 5.5px,#f30400 7.5px,#fe0f00 8.5px,#ff8600 13.5px,#ffa700 15.5px,#ffb600 17.5px,#ffa900 20.5px,#ff9000 23.5px,#ff9300 24.5px,#ffa400 25.5px,#ffc600 26.5px,#fcf603 27.5px,#c6ff39 28.5px,#37ffc8 30.5px,#00f2ff 31.5px,#007eff 33.5px,#0021ff 35.5px,#0002ff 36.5px,#0000e1 38.5px,#0000db 41.5px,#0000db 130.5px)"></i><i style="height:2px;background:linear-gradient(90deg,#da0000 0.5px,#f00000 2.5px,#fd0f00 4.5px,#ff4400 7.5px,#ffca00 13.5px,#ffe300 15.5px,#f8ed07 19.5px,#fde902 20.5px,#ffcf00 22.5px,#ffcb00 24.5px,#ffd900 25.5px,#f8f507 26.5px,#ccff33 27.5px,#0efff1 30.5px,#00d4ff 31.5px,#0044ff 34.5px,#001eff 35.5px,#0002ff 36.5px,#0000e3 38.5px,#0000db 40.5px,#0000db 130.5px)"></i><i style="height:2px;background:linear-gradient(90deg,#fc0900 0.5px,#ff3d00 3.5px,#fce903 10.5px,#e5ff1a 12.5px,#aaff55 15.5px,#8dff72 18.5px,#90ff6f 19.5px,#abff54 21.5px,#d0ff2f 23.5px,#d8ff27 24.5px,#d0ff2f 25.5px,#b0ff4f 26.5px,#10ffef 29.5px,#00dfff 30.5px,#005bff 33.5px,#0014ff 35.5px,#0000fa 36.5px,#0000e0 38.5px,#0000db 48.5px,#0000db 130.5px)"></i><i style="height:2px;background:linear-gradient(90deg,#ff3200 0.5px,#ff7800 3.5px,#fdf102 7.5px,#eeff11 8.5px,#51ffae 14.5px,#1cffe3 17.5px,#14feeb 18.5px,#24ffdb 20.5px,#32ffcd 21.5px,#79ff86 24.5px,#7cff83 25.5px,#62ff9d 26.5px,#2fffd0 27.5px,#04f6fb 28.5px,#0096ff 31.5px,#0026ff 34.5px,#0008ff 35.5px,#0000e4 37.5px,#0000db 39.5px,#0000db 130.5px)"></i><i style="height:2px;background:linear-gradient(90deg,#ff5a00 0.5px,#ffa300 3.5px,#fbfb04 6.5px,#31ffce 13.5px,#08fef7 15.5px,#00eeff 17.5px,#00eaff 19.5px,#00f7ff 21.5px,#19ffe6 23.5px,#27ffd8 24.5px,#29ffd6 25.5px,#04f7fb 27.5px,#0082ff 31.5px,#0020ff 34.5px,#0007ff 35.5px,#0000e6 37.5px,#0000db 39.5px,#0000db 130.5px)"></i><i style="height:2px;background:linear-gradient(90deg,#ff8200 0.5px,#fafa05 5.5px,#c4ff3b 7.5px,#1dffe2 12.5px,#08f9f7 13.5px,#00e0ff 15.5px,#00deff 17.5px,#00e5ff 24.5px,#00e1ff 25.5px,#00d3ff 26.5px,#00b2ff 27.5px,#00a1ff 28.5px,#009aff 29.5px,#0016ff 34.5px,#0004ff 35.5px,#0000db 39.5px,#0000db 130.5px)"></i><i style="height:2px;background:linear-gradient(90deg,#0000ce 0.5px,#0000cc 5.5px,#0001d5 9.5px,#0044d5 10.5px,#0076d6 11.5px,#007cf7 12.5px,#00a2ff 14.5px,#00b1ff 15.5px,#00caff 19.5px,#00c4ff 21.5px,#00a4ff 22.5px,#0062ff 23.5px,#0051d3 24.5px,#0012d7 25.5px,#000af0 26.5px,#002fff 27.5px,#0039ff 28.5px,#0038ff 29.5px,#0016ed 32.5px,#0000ec 35.5px,#0000db 40.5px,#0000db 130.5px)"></i><i style="height:2px;background:linear-gradient(90deg,#0000a5 0.5px,#0000a9 13.5px,#0000a8 14.5px,#0000c7 16.5px,#0000c6 18.5px,#0000b8 19.5px,#00008e 21.5px,#000083 22.5px,#0000a9 25.5px,#0000c0 26.5px,#000dfe 27.5px,#001cff 28.5px,#000cff 29.5px,#0000f5 30.5px,#0000e4 31.5px,#0000db 33.5px,#0000db 130.5px)"></i><i style="height:2px;background:linear-gradient(90deg,#0000a5 0.5px,#0000ad 12.5px,#00009d 17.5px,#000084 21.5px,#00008d 23.5px,#0000b1 26.5px,#0000d3 27.5px,#000fff 28.5px,#000cff 29.5px,#0000fb 30.5px,#0000de 32.5px,#0000db 49.5px,#0000db 130.5px)"></i><i style="height:2px;background:linear-gradient(90deg,#0000a5 0.5px,#0000b1 11.5px,#0000a1 17.5px,#000089 21.5px,#00008d 23.5px,#0000b9 27.5px,#0000e7 28.5px,#0006ff 29.5px,#0000fd 30.5px,#0000e1 32.5px,#0000d9 34.5px,#0000db 130.5px)"></i><i style="height:2px;background:linear-gradient(90deg,#0000a6 0.5px,#0000b3 11.5px,#00009f 18.5px,#00008b 22.5px,#00009d 25.5px,#0000b2 27.5px,#0000c3 28.5px,#0000f3 29.5px,#0000fa 30.5px,#0000dc 33.5px,#0000db 130.5px)"></i><i style="height:2px;background:linear-gradient(90deg,#0000a6 0.5px,#0000b6 10.5px,#0000a2 18.5px,#00008e 22.5px,#00009b 25.5px,#0000b6 28.5px,#0000cf 29.5px,#0000f2 30.5px,#0000e7 32.5px,#0000d8 34.5px,#0000db 130.5px)"></i><i style="height:2px;background:linear-gradient(90deg,#0000a6 0.5px,#0000b7 10.5px,#00009f 19.5px,#000090 23.5px,#0000a1 26.5px,#0000bb 29.5px,#0000db 30.5px,#0000eb 31.5px,#0000d6 35.5px,#0000db 56.5px,#0000db 130.5px)"></i><i style="height:2px;background:linear-gradient(90deg,#0000a6 0.5px,#0000b7 10.5px,#00009d 20.5px,#000092 23.5px,#00009e 26.5px,#0000b4 29.5px,#0000c1 30.5px,#0000e0 31.5px,#0000e4 32.5px,#0000d5 36.5px,#0000db 48.5px,#0000db 130.5px)"></i><i style="height:2px;background:linear-gradient(90deg,#0000a6 0.5px,#0000b7 10.5px,#00009b 21.5px,#000094 24.5px,#0000b7 30.5px,#0000de 32.5px,#0000d4 37.5px,#0000db 47.5px,#0000db 130.5px)"></i><i style="height:2px;background:linear-gradient(90deg,#0000a6 0.5px,#0000b6 10.5px,#000097 25.5px,#0000ba 31.5px,#0000d0 32.5px,#0000da 33.5px,#0000d2 37.5px,#0000db 46.5px,#0000db 130.5px)"></i><i style="height:2px;background:linear-gradient(90deg,#0000a6 0.5px,#0000b3 11.5px,#000097 25.5px,#0000b4 31.5px,#0000be 32.5px,#0000d2 33.5px,#0000d4 39.5px,#0000db 48.5px,#0000db 130.5px)"></i><i style="height:2px;background:linear-gradient(90deg,#0000a5 0.5px,#0000b1 11.5px,#000099 26.5px,#0000b5 32.5px,#0000d0 34.5px,#0000d4 40.5px,#0000db 49.5px,#0000db 130.5px)"></i><i style="height:2px;background:linear-gradient(90deg,#0000a5 0.5px,#0000ad 12.5px,#00009b 27.5px,#0000b7 33.5px,#0000c7 34.5px,#0000ce 36.5px,#0000db 48.5px,#0000db 130.5px)"></i><i style="height:2px;background:linear-gradient(90deg,#0000a5 0.5px,#0000aa 13.5px,#00009b 27.5px,#0000ba 34.5px,#0000c8 35.5px,#0000db 47.5px,#0000db 130.5px)"></i><i style="height:2px;background:linear-gradient(90deg,#0000a4 0.5px,#0000a7 15.5px,#00009d 28.5px,#0000b3 34.5px,#0000c6 36.5px,#0000db 48.5px,#0000db 130.5px)"></i><i style="height:2px;background:linear-gradient(90deg,#0000a4 0.5px,#0000a4 19.5px,#00009f 29.5px,#0000b4 35.5px,#0000c5 37.5px,#0000db 48.5px,#0000db 130.5px)"></i><i style="height:2px;background:linear-gradient(90deg,#0000a4 0.5px,#0000a1 24.5px,#0000a2 31.5px,#0000b6 36.5px,#0000c3 38.5px,#0000db 49.5px,#0000db 130.5px)"></i><i style="height:2px;background:linear-gradient(90deg,#0000a4 0.5px,#0000a1 31.5px,#0000b0 36.5px,#0000c2 39.5px,#0000db 50.5px,#0000db 130.5px)"></i><i style="height:2px;background:linear-gradient(90deg,#0000a3 0.5px,#0000a2 32.5px,#0000b2 37.5px,#0000c1 40.5px,#0000db 50.5px,#0000db 130.5px)"></i><i style="height:2px;background:linear-gradient(90deg,#0000a3 0.5px,#0000a3 33.5px,#0000b3 38.5px,#0000da 50.5px,#0000db 130.5px)"></i><i style="height:2px;background:linear-gradient(90deg,#0000a3 0.5px,#0000a3 34.5px,#0000b5 39.5px,#0000da 51.5px,#0000db 130.5px)"></i><i style="height:2px;background:linear-gradient(90deg,#0000a3 0.5px,#0000a4 35.5px,#0000da 52.5px,#0000db 130.5px)"></i><i style="height:2px;background:linear-gradient(90deg,#0000a3 0.5px,#0000a4 36.5px,#0000db 53.5px,#0000db 130.5px)"></i><i style="height:2px;background:linear-gradient(90deg,#0000a3 0.5px,#0000a4 37.5px,#0000db 54.5px,#0000db 130.5px)"></i><i style="height:2px;background:linear-gradient(90deg,#0000a3 0.5px,#0000a5 38.5px,#0000da 54.5px,#0000db 130.5px)"></i><i style="height:2px;background:linear-gradient(90deg,#0000a3 0.5px,#0000a5 39.5px,#0000da 55.5px,#0000db 130.5px)"></i><i style="height:2px;background:linear-gradient(90deg,#0000a3 0.5px,#0000a5 40.5px,#0000da 56.5px,#0000db 130.5px)"></i><i style="height:2px;background:linear-gradient(90deg,#0000a3 0.5px,#0000a5 41.5px,#0000da 57.5px,#0000db 130.5px)"></i><i style="height:2px;background:linear-gradient(90deg,#0000a3 0.5px,#0000a5 42.5px,#0000da 58.5px,#0000db 130.5px)"></i><i style="height:2px;background:linear-gradient(90deg,#0000a3 0.5px,#0000a5 43.5px,#0000da 59.5px,#0000db 130.5px)"></i><i style="height:2px;background:linear-gradient(90deg,#0000a3 0.5px,#0000a6 44.5px,#0000da 60.5px,#0000db 130.5px)"></i><i style="height:2px;background:linear-gradient(90deg,#0000a3 0.5px,#0000a6 45.5px,#0000da 61.5px,#0000db 130.5px)"></i><i style="height:2px;background:linear-gradient(90deg,#0000a3 0.5px,#0000a6 46.5px,#0000d9 61.5px,#0000db 130.5px)"></i><i style="height:2px;background:linear-gradient(90deg,#0000a3 0.5px,#0000a6 47.5px,#0000d9 62.5px,#0000db 130.5px)"></i><i style="height:2px;background:linear-gradient(90deg,#0000a3 0.5px,#0000a7 48.5px,#0000da 63.5px,#0000db 130.5px)"></i><i style="height:2px;background:linear-gradient(90deg,#0000a3 0.5px,#0000a7 49.5px,#0000da 64.5px,#0000db 130.5px)"></i><i style="height:2px;background:linear-gradient(90deg,#0000a3 0.5px,#0000a7 50.5px,#0000da 65.5px,#0000db 130.5px)"></i><i style="height:2px;background:linear-gradient(90deg,#0000a3 0.5px,#0000a7 51.5px,#0000da 66.5px,#0000db 130.5px)"></i><i style="height:2px;background:linear-gradient(90deg,#0000a3 0.5px,#0000a6 51.5px,#0000da 67.5px,#0000db 130.5px)"></i><i style="height:2px;background:linear-gradient(90deg,#0000a3 0.5px,#0000a6 52.5px,#0000da 68.5px,#0000db 130.5px)"></i><i style="height:2px;background:linear-gradient(90deg,#0000a3 0.5px,#0000a6 53.5px,#0000da 69.5px,#0000db 130.5px)"></i><i style="height:2px;background:linear-gradient(90deg,#0000a3 0.5px,#0000a6 54.5px,#0000da 70.5px,#0000db 130.5px)"></i><i style="height:2px;background:linear-gradient(90deg,#0000a3 0.5px,#0000a6 55.5px,#0000d9 70.5px,#0000db 130.5px)"></i><i style="height:2px;background:linear-gradient(90deg,#0000a3 0.5px,#0000a6 56.5px,#0000d9 71.5px,#0000db 130.5px)"></i><i style="height:2px;background:linear-gradient(90deg,#0000a3 0.5px,#0000a6 57.5px,#0000da 72.5px,#0000db 130.5px)"></i><i style="height:2px;background:linear-gradient(90deg,#0000a3 0.5px,#0000a7 58.5px,#0000da 73.5px,#0000db 130.5px)"></i><i style="height:2px;background:linear-gradient(90deg,#0000a3 0.5px,#0000a7 59.5px,#0000da 74.5px,#0000db 130.5px)"></i><i style="height:2px;background:linear-gradient(90deg,#0000a3 0.5px,#0000a7 60.5px,#0000da 75.5px,#0000db 130.5px)"></i><i style="height:2px;background:linear-gradient(90deg,#0000a3 0.5px,#0000a7 61.5px,#0000da 76.5px,#0000db 130.5px)"></i><i style="height:2px;background:linear-gradient(90deg,#0000a3 0.5px,#0000a5 61.5px,#0000da 77.5px,#0000db 130.5px)"></i><i style="height:2px;background:linear-gradient(90deg,#0000a3 0.5px,#0000a6 62.5px,#0000da 78.5px,#0000db 130.5px)"></i><i style="height:1px;background:linear-gradient(90deg,#0000a3 0.5px,#0000a6 63.5px,#0000d9 78.5px,#0000db 130.5px)"></i></div></div></div><div class="fo" style="left:527.9px;top:212.4px;width:119.6px;height:146.1px"><div style="position:absolute;left:-5.9px;top:-5.4px;width:131px"><div class="fi" style="filter:blur(0.8px)"><i style="height:2px;background:linear-gradient(90deg,#ff0f00 0.5px,#ff0c00 6.5px,#ff0000 8.5px,#fffa00 14.5px,#d0ff2f 18.5px,#7aff85 24.5px,#0efff1 28.5px,#00e5ff 29.5px,#0080ff 31.5px,#0047ff 34.5px,#0036ff 36.5px,#0029ff 40.5px,#0029ff 130.5px)"></i><i style="height:2px;background:linear-gradient(90deg,#ff0f00 0.5px,#ff0c00 6.5px,#ff0000 8.5px,#fffa00 14.5px,#d0ff2f 18.5px,#7aff85 24.5px,#0efff1 28.5px,#00e5ff 29.5px,#0080ff 31.5px,#0047ff 34.5px,#0036ff 36.5px,#0029ff 40.5px,#0029ff 130.5px)"></i><i style="height:2px;background:linear-gradient(90deg,#ff0f00 0.5px,#ff0c00 6.5px,#ff0000 8.5px,#fffa00 14.5px,#d0ff2f 18.5px,#7aff85 24.5px,#0efff1 28.5px,#00e5ff 29.5px,#0080ff 31.5px,#0047ff 34.5px,#0036ff 36.5px,#0029ff 40.5px,#0029ff 130.5px)"></i><i style="height:2px;background:linear-gradient(90deg,#ff0f00 0.5px,#ff0c00 6.5px,#ff0000 8.5px,#fffa00 14.5px,#d0ff2f 18.5px,#7aff85 24.5px,#0efff1 28.5px,#00e5ff 29.5px,#0080ff 31.5px,#0047ff 34.5px,#0036ff 36.5px,#0029ff 40.5px,#0029ff 130.5px)"></i><i style="height:2px;background:linear-gradient(90deg,#ff0f00 0.5px,#ff0c00 6.5px,#ff0000 8.5px,#fffa00 14.5px,#d0ff2f 18.5px,#7aff85 24.5px,#0efff1 28.5px,#00e5ff 29.5px,#0080ff 31.5px,#0047ff 34.5px,#0036ff 36.5px,#0029ff 40.5px,#0029ff 130.5px)"></i><i style="height:2px;background:linear-gradient(90deg,#ff0f00 0.5px,#ff0c00 6.5px,#ff0000 8.5px,#fffa00 14.5px,#d0ff2f 18.5px,#7aff85 24.5px,#0efff1 28.5px,#00e5ff 29.5px,#0080ff 31.5px,#0047ff 34.5px,#0036ff 36.5px,#0029ff 40.5px,#0029ff 130.5px)"></i><i style="height:2px;background:linear-gradient(90deg,#ff0f00 0.5px,#ff0c00 6.5px,#ff0000 8.5px,#fffa00 14.5px,#d0ff2f 18.5px,#7aff85 24.5px,#0efff1 28.5px,#00e5ff 29.5px,#0080ff 31.5px,#0047ff 34.5px,#0036ff 36.5px,#0029ff 40.5px,#0029ff 130.5px)"></i><i style="height:2px;background:linear-gradient(90deg,#ff0f00 0.5px,#ff0c00 6.5px,#ff0000 8.5px,#fffa00 14.5px,#d0ff2f 18.5px,#7aff85 24.5px,#0efff1 28.5px,#00e5ff 29.5px,#0080ff 31.5px,#0047ff 34.5px,#0036ff 36.5px,#0029ff 40.5px,#0029ff 130.5px)"></i><i style="height:2px;background:linear-gradient(90deg,#ff0f00 0.5px,#ff0c00 6.5px,#ff0000 8.5px,#fffa00 14.5px,#d0ff2f 18.5px,#7aff85 24.5px,#0efff1 28.5px,#00e5ff 29.5px,#0080ff 31.5px,#0047ff 34.5px,#0036ff 36.5px,#0029ff 40.5px,#0029ff 130.5px)"></i><i style="height:2px;background:linear-gradient(90deg,#ff0f00 0.5px,#ff0c00 6.5px,#ff0000 8.5px,#fffa00 14.5px,#d0ff2f 18.5px,#7aff85 24.5px,#0efff1 28.5px,#00e5ff 29.5px,#0080ff 31.5px,#0047ff 34.5px,#0036ff 36.5px,#0029ff 40.5px,#0029ff 130.5px)"></i><i style="height:2px;background:linear-gradient(90deg,#ff0f00 0.5px,#ff0c00 6.5px,#ff0000 8.5px,#fffa00 14.5px,#d0ff2f 18.5px,#7aff85 24.5px,#0efff1 28.5px,#00e5ff 29.5px,#0080ff 31.5px,#0047ff 34.5px,#0036ff 36.5px,#0029ff 40.5px,#0029ff 130.5px)"></i><i style="height:2px;background:linear-gradient(90deg,#ff0f00 0.5px,#ff0c00 6.5px,#ff0000 8.5px,#fffa00 14.5px,#d0ff2f 18.5px,#7aff85 24.5px,#0efff1 28.5px,#00e5ff 29.5px,#0080ff 31.5px,#0047ff 34.5px,#0036ff 36.5px,#0029ff 40.5px,#0029ff 130.5px)"></i><i style="height:2px;background:linear-gradient(90deg,#ff0f00 0.5px,#ff0c00 6.5px,#ff0000 8.5px,#fffa00 14.5px,#d0ff2f 18.5px,#7aff85 24.5px,#0efff1 28.5px,#00e5ff 29.5px,#0080ff 31.5px,#0047ff 34.5px,#0036ff 36.5px,#0029ff 40.5px,#0029ff 130.5px)"></i><i style="height:2px;background:linear-gradient(90deg,#ff0f00 0.5px,#ff0c00 6.5px,#ff0000 8.5px,#fffa00 14.5px,#d0ff2f 18.5px,#7aff85 24.5px,#0efff1 28.5px,#00e5ff 29.5px,#0080ff 31.5px,#0047ff 34.5px,#0036ff 36.5px,#0029ff 40.5px,#0029ff 130.5px)"></i><i style="height:2px;background:linear-gradient(90deg,#ff0e00 0.5px,#ff0b00 6.5px,#ff0000 8.5px,#fffa00 14.5px,#ddff22 17.5px,#7aff85 24.5px,#0efff1 28.5px,#00e5ff 29.5px,#0080ff 31.5px,#0047ff 34.5px,#0036ff 36.5px,#0029ff 40.5px,#0029ff 130.5px)"></i><i style="height:2px;background:linear-gradient(90deg,#ff0500 0.5px,#ff0000 8.5px,#ff2000 9.5px,#fff800 14.5px,#ebff14 16.5px,#7aff85 24.5px,#0efff1 28.5px,#00e5ff 29.5px,#0080ff 31.5px,#0047ff 34.5px,#0036ff 36.5px,#0029ff 40.5px,#0029ff 130.5px)"></i><i style="height:2px;background:linear-gradient(90deg,#fa0000 0.5px,#fe0000 8.5px,#ff1500 9.5px,#ffc500 13.5px,#fff300 14.5px,#f9ff06 15.5px,#7aff85 24.5px,#0efff1 28.5px,#00e5ff 29.5px,#0080ff 31.5px,#0047ff 34.5px,#0036ff 36.5px,#0029ff 40.5px,#0029ff 130.5px)"></i><i style="height:2px;background:linear-gradient(90deg,#ed0000 0.5px,#f00000 6.5px,#ff0500 9.5px,#ffb500 13.5px,#ffe400 14.5px,#fcff03 15.5px,#7aff85 24.5px,#0efff1 28.5px,#00e5ff 29.5px,#0080ff 31.5px,#0047ff 34.5px,#0036ff 36.5px,#0029ff 40.5px,#0029ff 130.5px)"></i><i style="height:2px;background:linear-gradient(90deg,#e00000 0.5px,#e40000 6.5px,#fd0000 9.5px,#ff2000 10.5px,#ffa300 13.5px,#fffd00 15.5px,#7aff85 24.5px,#0efff1 28.5px,#00e5ff 29.5px,#0080ff 31.5px,#0047ff 34.5px,#0036ff 36.5px,#0029ff 40.5px,#0029ff 130.5px)"></i><i style="height:2px;background:linear-gradient(90deg,#d40000 0.5px,#d40000 5.5px,#f80000 9.5px,#ff1000 10.5px,#ff9200 13.5px,#fff300 15.5px,#f6ff09 16.5px,#7aff85 24.5px,#0efff1 28.5px,#00e5ff 29.5px,#0080ff 31.5px,#0047ff 34.5px,#0036ff 36.5px,#0029ff 40.5px,#0029ff 130.5px)"></i><i style="height:2px;background:linear-gradient(90deg,#c70000 0.5px,#c70000 5.5px,#da0000 7.5px,#fe0200 10.5px,#ff8000 13.5px,#ffe200 15.5px,#fbff04 16.5px,#a7ff58 21.5px,#7aff85 24.5px,#0efff1 28.5px,#00e5ff 29.5px,#0080ff 31.5px,#0047ff 34.5px,#0036ff 36.5px,#0029ff 40.5px,#0029ff 130.5px)"></i><i style="height:2px;background:linear-gradient(90deg,#bd0000 0.5px,#bd0000 5.5px,#d10000 7.5px,#fa0000 10.5px,#ff1c00 11.5px,#ffa500 14.5px,#ffd700 15.5px,#feff01 16.5px,#b6ff49 20.5px,#7aff85 24.5px,#0efff1 28.5px,#00e5ff 29.5px,#0080ff 31.5px,#0047ff 34.5px,#0036ff 36.5px,#0029ff 40.5px,#0029ff 130.5px)"></i><i style="height:2px;background:linear-gradient(90deg,#b20000 0.5px,#b20000 5.5px,#c80000 7.5px,#f40000 10.5px,#ff0c00 11.5px,#fffc00 16.5px,#a7ff58 21.5px,#7aff85 24.5px,#0efff1 28.5px,#00e5ff 29.5px,#0080ff 31.5px,#0047ff 34.5px,#0036ff 36.5px,#0029ff 40.5px,#0029ff 130.5px)"></i><i style="height:2px;background:linear-gradient(90deg,#a80000 0.5px,#a80000 5.5px,#bf0000 7.5px,#fd0000 11.5px,#ff5b00 13.5px,#fff500 16.5px,#f1ff0e 17.5px,#b6ff49 20.5px,#7aff85 24.5px,#0efff1 28.5px,#00e5ff 29.5px,#0080ff 31.5px,#0047ff 34.5px,#0036ff 36.5px,#0029ff 40.5px,#0029ff 130.5px)"></i><i style="height:2px;background:linear-gradient(90deg,#9f0000 0.5px,#9f0000 5.5px,#a70000 6.5px,#f80000 11.5px,#ff1c00 12.5px,#ffec00 16.5px,#f4ff0b 17.5px,#b6ff49 20.5px,#7aff85 24.5px,#0efff1 28.5px,#00e5ff 29.5px,#0080ff 31.5px,#0047ff 34.5px,#0036ff 36.5px,#0029ff 40.5px,#0029ff 130.5px)"></i><i style="height:2px;background:linear-gradient(90deg,#9c0000 0.5px,#9c0000 5.5px,#a40000 6.5px,#f70000 11.5px,#ff1a00 12.5px,#ffb700 15.5px,#ffee00 16.5px,#f3ff0c 17.5px,#b6ff49 20.5px,#7aff85 24.5px,#0efff1 28.5px,#00e5ff 29.5px,#0080ff 31.5px,#0047ff 34.5px,#0036ff 36.5px,#0029ff 40.5px,#0029ff 130.5px)"></i><i style="height:2px;background:linear-gradient(90deg,#990000 0.5px,#990000 5.5px,#a20000 6.5px,#f60000 11.5px,#ff1a00 12.5px,#ffb800 15.5px,#fff100 16.5px,#f2ff0d 17.5px,#b6ff49 20.5px,#7aff85 24.5px,#0efff1 28.5px,#00e5ff 29.5px,#0080ff 31.5px,#0047ff 34.5px,#0036ff 36.5px,#0029ff 40.5px,#0029ff 130.5px)"></i><i style="height:2px;background:linear-gradient(90deg,#960000 0.5px,#960000 5.5px,#9f0000 6.5px,#f60000 11.5px,#ff1a00 12.5px,#ff8000 14.5px,#fff500 16.5px,#f1ff0e 17.5px,#b6ff49 20.5px,#7aff85 24.5px,#0efff1 28.5px,#00e5ff 29.5px,#0080ff 31.5px,#0047ff 34.5px,#0036ff 36.5px,#0029ff 40.5px,#0029ff 130.5px)"></i><i style="height:2px;background:linear-gradient(90deg,#940000 0.5px,#940000 5.5px,#9d0000 6.5px,#f60000 11.5px,#ff1a00 12.5px,#ff8100 14.5px,#fffa00 16.5px,#a7ff58 21.5px,#7aff85 24.5px,#0efff1 28.5px,#00e5ff 29.5px,#0080ff 31.5px,#0047ff 34.5px,#0036ff 36.5px,#0029ff 40.5px,#0029ff 130.5px)"></i><i style="height:2px;background:linear-gradient(90deg,#910000 0.5px,#910000 5.5px,#9b0000 6.5px,#f80000 11.5px,#ff2100 12.5px,#ff8b00 14.5px,#ffcc00 15.5px,#feff01 16.5px,#a7ff58 21.5px,#7aff85 24.5px,#0efff1 28.5px,#00e5ff 29.5px,#0080ff 31.5px,#0047ff 34.5px,#0036ff 36.5px,#0029ff 40.5px,#0029ff 130.5px)"></i><i style="height:2px;background:linear-gradient(90deg,#8f0000 0.5px,#8f0000 5.5px,#990000 6.5px,#fa0000 11.5px,#ff2800 12.5px,#ff9800 14.5px,#ffde00 15.5px,#faff05 16.5px,#99ff66 22.5px,#7aff85 24.5px,#0efff1 28.5px,#00e5ff 29.5px,#0080ff 31.5px,#0047ff 34.5px,#0036ff 36.5px,#0029ff 40.5px,#0029ff 130.5px)"></i><i style="height:2px;background:linear-gradient(90deg,#8c0000 0.5px,#8c0000 5.5px,#960000 6.5px,#fc0000 11.5px,#ff6600 13.5px,#ffa700 14.5px,#fff200 15.5px,#f6ff09 16.5px,#7aff85 24.5px,#0efff1 28.5px,#00e5ff 29.5px,#0080ff 31.5px,#0047ff 34.5px,#0036ff 36.5px,#0029ff 40.5px,#0029ff 130.5px)"></i><i style="height:2px;background:linear-gradient(90deg,#8b0000 0.5px,#8b0000 5.5px,#950000 6.5px,#ff0100 11.5px,#ff6e00 13.5px,#fffd00 15.5px,#7aff85 24.5px,#0efff1 28.5px,#00e5ff 29.5px,#0080ff 31.5px,#0047ff 34.5px,#0036ff 36.5px,#0029ff 40.5px,#0029ff 130.5px)"></i><i style="height:2px;background:linear-gradient(90deg,#c72900 0.5px,#c72900 5.5px,#bc0000 6.5px,#b40000 7.5px,#ee0000 10.5px,#ff0900 11.5px,#ff7500 13.5px,#ffc100 14.5px,#fffe00 15.5px,#7aff85 24.5px,#0efff1 28.5px,#00e5ff 29.5px,#0080ff 31.5px,#0047ff 34.5px,#0036ff 36.5px,#0029ff 40.5px,#0029ff 130.5px)"></i><i style="height:2px;background:linear-gradient(90deg,#0097ff 0.5px,#009bff 6.5px,#00d7ff 7.5px,#80df80 8.5px,#805b80 9.5px,#7d807e 10.5px,#ea8815 11.5px,#ff7400 12.5px,#ff8800 13.5px,#ffcd00 14.5px,#fdff02 15.5px,#7aff85 24.5px,#0efff1 28.5px,#00e5ff 29.5px,#0080ff 31.5px,#0047ff 34.5px,#0036ff 36.5px,#0029ff 40.5px,#0029ff 130.5px)"></i><i style="height:2px;background:linear-gradient(90deg,#0018ff 0.5px,#001bff 6.5px,#0026ff 7.5px,#003cff 8.5px,#0077ff 10.5px,#009bff 12.5px,#00c5ff 13.5px,#35d5ca 16.5px,#48f5b7 18.5px,#58ffa7 19.5px,#74ff8b 21.5px,#78ff87 23.5px,#72ff8d 24.5px,#29ffd6 27.5px,#0efff1 28.5px,#00e5ff 29.5px,#0080ff 31.5px,#0047ff 34.5px,#0036ff 36.5px,#0029ff 40.5px,#0029ff 130.5px)"></i><i style="height:2px;background:linear-gradient(90deg,#0000f6 0.5px,#0006fc 11.5px,#001dff 14.5px,#004fff 18.5px,#007eff 20.5px,#05cefa 23.5px,#11dfee 24.5px,#15f3ea 26.5px,#06f6f9 28.5px,#00dfff 29.5px,#007fff 31.5px,#0047ff 34.5px,#0036ff 36.5px,#0029ff 40.5px,#0029ff 130.5px)"></i><i style="height:2px;background:linear-gradient(90deg,#0000d8 0.5px,#0000f0 16.5px,#000aff 21.5px,#0026ff 23.5px,#0080ff 27.5px,#0091ff 28.5px,#0094ff 29.5px,#0084ff 30.5px,#0068ff 31.5px,#0039ff 35.5px,#0029ff 40.5px,#0029ff 130.5px)"></i><i style="height:2px;background:linear-gradient(90deg,#0000c2 0.5px,#0000de 19.5px,#0002fc 25.5px,#0010ff 27.5px,#0031ff 30.5px,#0037ff 33.5px,#0029ff 40.5px,#0029ff 130.5px)"></i><i style="height:2px;background:linear-gradient(90deg,#0000b3 0.5px,#0000bc 10.5px,#0000d5 22.5px,#0004fd 29.5px,#0028ff 36.5px,#0029ff 130.5px)"></i><i style="height:2px;background:linear-gradient(90deg,#0000a9 0.5px,#0000ae 10.5px,#0000cf 25.5px,#0004fd 32.5px,#0026ff 38.5px,#0029ff 130.5px)"></i><i style="height:2px;background:linear-gradient(90deg,#0000a2 0.5px,#0000a7 13.5px,#0000ca 28.5px,#0005fe 35.5px,#0027ff 41.5px,#0029ff 130.5px)"></i><i style="height:2px;background:linear-gradient(90deg,#00009c 0.5px,#0000a1 15.5px,#0000c3 30.5px,#0002fd 37.5px,#0026ff 43.5px,#0029ff 130.5px)"></i><i style="height:2px;background:linear-gradient(90deg,#000098 0.5px,#00009b 15.5px,#0000c0 31.5px,#0001fe 38.5px,#0026ff 44.5px,#0029ff 130.5px)"></i><i style="height:2px;background:linear-gradient(90deg,#000096 0.5px,#000099 16.5px,#0000bb 31.5px,#0000ed 37.5px,#0001ff 39.5px,#0026ff 45.5px,#0029ff 130.5px)"></i><i style="height:2px;background:linear-gradient(90deg,#000094 0.5px,#000097 17.5px,#0000ba 32.5px,#0000ed 38.5px,#0002fe 40.5px,#0026ff 46.5px,#0029ff 130.5px)"></i><i style="height:2px;background:linear-gradient(90deg,#000092 0.5px,#000096 19.5px,#0000bb 34.5px,#0004ff 42.5px,#0024ff 47.5px,#0029ff 66.5px,#0029ff 130.5px)"></i><i style="height:2px;background:linear-gradient(90deg,#000091 0.5px,#000096 21.5px,#0000bc 36.5px,#0001fb 43.5px,#0025ff 49.5px,#0029ff 130.5px)"></i><i style="height:2px;background:linear-gradient(90deg,#000091 0.5px,#000093 22.5px,#0000b8 37.5px,#0000ea 43.5px,#0001fc 45.5px,#0025ff 51.5px,#0029ff 130.5px)"></i><i style="height:2px;background:linear-gradient(90deg,#000090 0.5px,#000093 24.5px,#0000b9 39.5px,#0000ec 45.5px,#0002fd 47.5px,#0026ff 53.5px,#0029ff 130.5px)"></i><i style="height:2px;background:linear-gradient(90deg,#000090 0.5px,#000093 26.5px,#0000ba 41.5px,#0003ff 49.5px,#0024ff 54.5px,#0029ff 65.5px,#0029ff 130.5px)"></i><i style="height:2px;background:linear-gradient(90deg,#00008f 0.5px,#000092 27.5px,#0000b8 42.5px,#0000eb 48.5px,#0001fd 50.5px,#0026ff 56.5px,#0029ff 130.5px)"></i><i style="height:2px;background:linear-gradient(90deg,#00008f 0.5px,#000094 29.5px,#0000bc 44.5px,#0000fb 51.5px,#0025ff 57.5px,#0029ff 129.5px,#0029ff 130.5px)"></i><i style="height:2px;background:linear-gradient(90deg,#00008f 0.5px,#000093 30.5px,#0000ba 45.5px,#0003ff 53.5px,#0023ff 58.5px,#0029ff 67.5px,#0029ff 130.5px)"></i><i style="height:2px;background:linear-gradient(90deg,#00008f 0.5px,#000092 31.5px,#0000b8 46.5px,#0000eb 52.5px,#0001fd 54.5px,#0026ff 60.5px,#0029ff 130.5px)"></i><i style="height:2px;background:linear-gradient(90deg,#00008f 0.5px,#000091 32.5px,#0000bc 48.5px,#0000fb 55.5px,#0025ff 61.5px,#0029ff 130.5px)"></i><i style="height:2px;background:linear-gradient(90deg,#00008f 0.5px,#000092 34.5px,#0000ba 49.5px,#0003fe 57.5px,#0027ff 63.5px,#0029ff 130.5px)"></i><i style="height:2px;background:linear-gradient(90deg,#00008f 0.5px,#000091 35.5px,#0000bc 51.5px,#0000fb 58.5px,#0025ff 64.5px,#0029ff 122.5px,#0029ff 130.5px)"></i><i style="height:2px;background:linear-gradient(90deg,#00008f 0.5px,#000092 37.5px,#0000b8 52.5px,#0000ec 58.5px,#0002fd 60.5px,#0026ff 66.5px,#0029ff 130.5px)"></i><i style="height:2px;background:linear-gradient(90deg,#00008f 0.5px,#000091 38.5px,#0000bc 54.5px,#0000fc 61.5px,#0025ff 67.5px,#0029ff 130.5px)"></i><i style="height:2px;background:linear-gradient(90deg,#00008f 0.5px,#000093 40.5px,#0000ba 55.5px,#0003ff 63.5px,#0024ff 68.5px,#0029ff 78.5px,#0029ff 130.5px)"></i><i style="height:2px;background:linear-gradient(90deg,#00008f 0.5px,#000092 41.5px,#0000b8 56.5px,#0000eb 62.5px,#0001fd 64.5px,#0026ff 70.5px,#0029ff 130.5px)"></i><i style="height:2px;background:linear-gradient(90deg,#00008f 0.5px,#000091 42.5px,#0000bc 58.5px,#0000fb 65.5px,#0025ff 71.5px,#0029ff 130.5px)"></i><i style="height:2px;background:linear-gradient(90deg,#00008f 0.5px,#000093 44.5px,#0000ba 59.5px,#0003ff 67.5px,#0023ff 72.5px,#0029ff 82.5px,#0029ff 130.5px)"></i><i style="height:2px;background:linear-gradient(90deg,#00008f 0.5px,#000092 45.5px,#0000b8 60.5px,#0000eb 66.5px,#0001fd 68.5px,#0026ff 74.5px,#0029ff 130.5px)"></i><i style="height:2px;background:linear-gradient(90deg,#00008f 0.5px,#000092 47.5px,#0000ba 62.5px,#0003fe 70.5px,#0027ff 76.5px,#0029ff 130.5px)"></i><i style="height:2px;background:linear-gradient(90deg,#00008f 0.5px,#000093 49.5px,#0000ba 64.5px,#0003ff 72.5px,#0024ff 77.5px,#0029ff 89.5px,#0029ff 130.5px)"></i><i style="height:2px;background:linear-gradient(90deg,#00008f 0.5px,#000092 50.5px,#0000b8 65.5px,#0000ec 71.5px,#0001fe 73.5px,#0026ff 79.5px,#0029ff 130.5px)"></i><i style="height:2px;background:linear-gradient(90deg,#00008f 0.5px,#000091 51.5px,#0000bd 67.5px,#0000fc 74.5px,#0025ff 80.5px,#0029ff 130.5px)"></i><i style="height:2px;background:linear-gradient(90deg,#00008f 0.5px,#000091 52.5px,#0000bb 68.5px,#0004ff 76.5px,#0024ff 81.5px,#0029ff 103.5px,#0029ff 130.5px)"></i><i style="height:2px;background:linear-gradient(90deg,#00008f 0.5px,#000092 54.5px,#0000ba 69.5px,#0002ff 77.5px,#0023ff 82.5px,#0029ff 91.5px,#0029ff 130.5px)"></i><i style="height:2px;background:linear-gradient(90deg,#00008f 0.5px,#000092 55.5px,#0000b8 70.5px,#0000eb 76.5px,#0001fd 78.5px,#0026ff 84.5px,#0029ff 130.5px)"></i><i style="height:2px;background:linear-gradient(90deg,#00008f 0.5px,#000091 56.5px,#0000bc 72.5px,#0000fc 79.5px,#0025ff 85.5px,#0029ff 130.5px)"></i><i style="height:2px;background:linear-gradient(90deg,#00008f 0.5px,#000093 58.5px,#0000ba 73.5px,#0003ff 81.5px,#0023ff 86.5px,#0029ff 96.5px,#0029ff 130.5px)"></i><i style="height:2px;background:linear-gradient(90deg,#00008f 0.5px,#000091 59.5px,#0000bd 75.5px,#0001fc 82.5px,#0025ff 88.5px,#0029ff 130.5px)"></i><i style="height:2px;background:linear-gradient(90deg,#00008f 0.5px,#000093 61.5px,#0000ba 76.5px,#0003ff 84.5px,#0024ff 89.5px,#0029ff 99.5px,#0029ff 130.5px)"></i><i style="height:2px;background:linear-gradient(90deg,#00008f 0.5px,#000092 62.5px,#0000b9 77.5px,#0002fe 85.5px,#0026ff 91.5px,#0029ff 130.5px)"></i><i style="height:2px;background:linear-gradient(90deg,#00008f 0.5px,#000092 63.5px,#0000b8 78.5px,#0000eb 84.5px,#0001fe 86.5px,#0026ff 92.5px,#0029ff 130.5px)"></i><i style="height:1px;background:linear-gradient(90deg,#00008f 0.5px,#000092 64.5px,#0000b9 79.5px,#0001ff 87.5px,#0023ff 92.5px,#0029ff 99.5px,#0029ff 130.5px)"></i></div></div></div><svg width="725" height="398" viewBox="0 0 725 398"><defs><linearGradient id="g1" x1="0" y1="1" x2="0" y2="0"><stop offset="0.0000" stop-color="#000080"/><stop offset="0.0312" stop-color="#00009f"/><stop offset="0.0625" stop-color="#0000bf"/><stop offset="0.0938" stop-color="#0000df"/><stop offset="0.1250" stop-color="#0000ff"/><stop offset="0.1562" stop-color="#0020ff"/><stop offset="0.1875" stop-color="#0040ff"/><stop offset="0.2188" stop-color="#0060ff"/><stop offset="0.2500" stop-color="#0080ff"/><stop offset="0.2812" stop-color="#009fff"/><stop offset="0.3125" stop-color="#00bfff"/><stop offset="0.3438" stop-color="#00dfff"/><stop offset="0.3750" stop-color="#00ffff"/><stop offset="0.4062" stop-color="#20ffdf"/><stop offset="0.4375" stop-color="#40ffbf"/><stop offset="0.4688" stop-color="#60ff9f"/><stop offset="0.5000" stop-color="#80ff80"/><stop offset="0.5312" stop-color="#9fff60"/><stop offset="0.5625" stop-color="#bfff40"/><stop offset="0.5938" stop-color="#dfff20"/><stop offset="0.6250" stop-color="#ffff00"/><stop offset="0.6562" stop-color="#ffdf00"/><stop offset="0.6875" stop-color="#ffbf00"/><stop offset="0.7188" stop-color="#ff9f00"/><stop offset="0.7500" stop-color="#ff8000"/><stop offset="0.7812" stop-color="#ff6000"/><stop offset="0.8125" stop-color="#ff4000"/><stop offset="0.8438" stop-color="#ff2000"/><stop offset="0.8750" stop-color="#ff0000"/><stop offset="0.9062" stop-color="#df0000"/><stop offset="0.9375" stop-color="#bf0000"/><stop offset="0.9688" stop-color="#9f0000"/><stop offset="1.0000" stop-color="#800000"/></linearGradient><linearGradient id="g2" x1="0" y1="1" x2="0" y2="0"><stop offset="0.0000" stop-color="#000080"/><stop offset="0.0312" stop-color="#00009f"/><stop offset="0.0625" stop-color="#0000bf"/><stop offset="0.0938" stop-color="#0000df"/><stop offset="0.1250" stop-color="#0000ff"/><stop offset="0.1562" stop-color="#0020ff"/><stop offset="0.1875" stop-color="#0040ff"/><stop offset="0.2188" stop-color="#0060ff"/><stop offset="0.2500" stop-color="#0080ff"/><stop offset="0.2812" stop-color="#009fff"/><stop offset="0.3125" stop-color="#00bfff"/><stop offset="0.3438" stop-color="#00dfff"/><stop offset="0.3750" stop-color="#00ffff"/><stop offset="0.4062" stop-color="#20ffdf"/><stop offset="0.4375" stop-color="#40ffbf"/><stop offset="0.4688" stop-color="#60ff9f"/><stop offset="0.5000" stop-color="#80ff80"/><stop offset="0.5312" stop-color="#9fff60"/><stop offset="0.5625" stop-color="#bfff40"/><stop offset="0.5938" stop-color="#dfff20"/><stop offset="0.6250" stop-color="#ffff00"/><stop offset="0.6562" stop-color="#ffdf00"/><stop offset="0.6875" stop-color="#ffbf00"/><stop offset="0.7188" stop-color="#ff9f00"/><stop offset="0.7500" stop-color="#ff8000"/><stop offset="0.7812" stop-color="#ff6000"/><stop offset="0.8125" stop-color="#ff4000"/><stop offset="0.8438" stop-color="#ff2000"/><stop offset="0.8750" stop-color="#ff0000"/><stop offset="0.9062" stop-color="#df0000"/><stop offset="0.9375" stop-color="#bf0000"/><stop offset="0.9688" stop-color="#9f0000"/><stop offset="1.0000" stop-color="#800000"/></linearGradient><linearGradient id="g3" x1="0" y1="1" x2="0" y2="0"><stop offset="0.0000" stop-color="#000080"/><stop offset="0.0312" stop-color="#00009f"/><stop offset="0.0625" stop-color="#0000bf"/><stop offset="0.0938" stop-color="#0000df"/><stop offset="0.1250" stop-color="#0000ff"/><stop offset="0.1562" stop-color="#0020ff"/><stop offset="0.1875" stop-color="#0040ff"/><stop offset="0.2188" stop-color="#0060ff"/><stop offset="0.2500" stop-color="#0080ff"/><stop offset="0.2812" stop-color="#009fff"/><stop offset="0.3125" stop-color="#00bfff"/><stop offset="0.3438" stop-color="#00dfff"/><stop offset="0.3750" stop-color="#00ffff"/><stop offset="0.4062" stop-color="#20ffdf"/><stop offset="0.4375" stop-color="#40ffbf"/><stop offset="0.4688" stop-color="#60ff9f"/><stop offset="0.5000" stop-color="#80ff80"/><stop offset="0.5312" stop-color="#9fff60"/><stop offset="0.5625" stop-color="#bfff40"/><stop offset="0.5938" stop-color="#dfff20"/><stop offset="0.6250" stop-color="#ffff00"/><stop offset="0.6562" stop-color="#ffdf00"/><stop offset="0.6875" stop-color="#ffbf00"/><stop offset="0.7188" stop-color="#ff9f00"/><stop offset="0.7500" stop-color="#ff8000"/><stop offset="0.7812" stop-color="#ff6000"/><stop offset="0.8125" stop-color="#ff4000"/><stop offset="0.8438" stop-color="#ff2000"/><stop offset="0.8750" stop-color="#ff0000"/><stop offset="0.9062" stop-color="#df0000"/><stop offset="0.9375" stop-color="#bf0000"/><stop offset="0.9688" stop-color="#9f0000"/><stop offset="1.0000" stop-color="#800000"/></linearGradient><linearGradient id="g4" x1="0" y1="1" x2="0" y2="0"><stop offset="0.0000" stop-color="#000080"/><stop offset="0.0312" stop-color="#00009f"/><stop offset="0.0625" stop-color="#0000bf"/><stop offset="0.0938" stop-color="#0000df"/><stop offset="0.1250" stop-color="#0000ff"/><stop offset="0.1562" stop-color="#0020ff"/><stop offset="0.1875" stop-color="#0040ff"/><stop offset="0.2188" stop-color="#0060ff"/><stop offset="0.2500" stop-color="#0080ff"/><stop offset="0.2812" stop-color="#009fff"/><stop offset="0.3125" stop-color="#00bfff"/><stop offset="0.3438" stop-color="#00dfff"/><stop offset="0.3750" stop-color="#00ffff"/><stop offset="0.4062" stop-color="#20ffdf"/><stop offset="0.4375" stop-color="#40ffbf"/><stop offset="0.4688" stop-color="#60ff9f"/><stop offset="0.5000" stop-color="#80ff80"/><stop offset="0.5312" stop-color="#9fff60"/><stop offset="0.5625" stop-color="#bfff40"/><stop offset="0.5938" stop-color="#dfff20"/><stop offset="0.6250" stop-color="#ffff00"/><stop offset="0.6562" stop-color="#ffdf00"/><stop offset="0.6875" stop-color="#ffbf00"/><stop offset="0.7188" stop-color="#ff9f00"/><stop offset="0.7500" stop-color="#ff8000"/><stop offset="0.7812" stop-color="#ff6000"/><stop offset="0.8125" stop-color="#ff4000"/><stop offset="0.8438" stop-color="#ff2000"/><stop offset="0.8750" stop-color="#ff0000"/><stop offset="0.9062" stop-color="#df0000"/><stop offset="0.9375" stop-color="#bf0000"/><stop offset="0.9688" stop-color="#9f0000"/><stop offset="1.0000" stop-color="#800000"/></linearGradient><linearGradient id="g5" x1="0" y1="1" x2="0" y2="0"><stop offset="0.0000" stop-color="#000080"/><stop offset="0.0312" stop-color="#00009f"/><stop offset="0.0625" stop-color="#0000bf"/><stop offset="0.0938" stop-color="#0000df"/><stop offset="0.1250" stop-color="#0000ff"/><stop offset="0.1562" stop-color="#0020ff"/><stop offset="0.1875" stop-color="#0040ff"/><stop offset="0.2188" stop-color="#0060ff"/><stop offset="0.2500" stop-color="#0080ff"/><stop offset="0.2812" stop-color="#009fff"/><stop offset="0.3125" stop-color="#00bfff"/><stop offset="0.3438" stop-color="#00dfff"/><stop offset="0.3750" stop-color="#00ffff"/><stop offset="0.4062" stop-color="#20ffdf"/><stop offset="0.4375" stop-color="#40ffbf"/><stop offset="0.4688" stop-color="#60ff9f"/><stop offset="0.5000" stop-color="#80ff80"/><stop offset="0.5312" stop-color="#9fff60"/><stop offset="0.5625" stop-color="#bfff40"/><stop offset="0.5938" stop-color="#dfff20"/><stop offset="0.6250" stop-color="#ffff00"/><stop offset="0.6562" stop-color="#ffdf00"/><stop offset="0.6875" stop-color="#ffbf00"/><stop offset="0.7188" stop-color="#ff9f00"/><stop offset="0.7500" stop-color="#ff8000"/><stop offset="0.7812" stop-color="#ff6000"/><stop offset="0.8125" stop-color="#ff4000"/><stop offset="0.8438" stop-color="#ff2000"/><stop offset="0.8750" stop-color="#ff0000"/><stop offset="0.9062" stop-color="#df0000"/><stop offset="0.9375" stop-color="#bf0000"/><stop offset="0.9688" stop-color="#9f0000"/><stop offset="1.0000" stop-color="#800000"/></linearGradient><linearGradient id="g6" x1="0" y1="1" x2="0" y2="0"><stop offset="0.0000" stop-color="#000080"/><stop offset="0.0312" stop-color="#00009f"/><stop offset="0.0625" stop-color="#0000bf"/><stop offset="0.0938" stop-color="#0000df"/><stop offset="0.1250" stop-color="#0000ff"/><stop offset="0.1562" stop-color="#0020ff"/><stop offset="0.1875" stop-color="#0040ff"/><stop offset="0.2188" stop-color="#0060ff"/><stop offset="0.2500" stop-color="#0080ff"/><stop offset="0.2812" stop-color="#009fff"/><stop offset="0.3125" stop-color="#00bfff"/><stop offset="0.3438" stop-color="#00dfff"/><stop offset="0.3750" stop-color="#00ffff"/><stop offset="0.4062" stop-color="#20ffdf"/><stop offset="0.4375" stop-color="#40ffbf"/><stop offset="0.4688" stop-color="#60ff9f"/><stop offset="0.5000" stop-color="#80ff80"/><stop offset="0.5312" stop-color="#9fff60"/><stop offset="0.5625" stop-color="#bfff40"/><stop offset="0.5938" stop-color="#dfff20"/><stop offset="0.6250" stop-color="#ffff00"/><stop offset="0.6562" stop-color="#ffdf00"/><stop offset="0.6875" stop-color="#ffbf00"/><stop offset="0.7188" stop-color="#ff9f00"/><stop offset="0.7500" stop-color="#ff8000"/><stop offset="0.7812" stop-color="#ff6000"/><stop offset="0.8125" stop-color="#ff4000"/><stop offset="0.8438" stop-color="#ff2000"/><stop offset="0.8750" stop-color="#ff0000"/><stop offset="0.9062" stop-color="#df0000"/><stop offset="0.9375" stop-color="#bf0000"/><stop offset="0.9688" stop-color="#9f0000"/><stop offset="1.0000" stop-color="#800000"/></linearGradient></defs><path d="M44.30,40.40 L45.82,40.38 L47.34,40.32 L48.86,40.22 L50.38,40.08 L51.90,39.90 L53.42,39.69 L54.94,39.43 L56.46,39.14 L57.97,38.80 L59.49,38.43 L61.01,38.03 L62.53,37.58 L64.05,37.10 L65.57,36.59 L67.09,36.04 L68.61,35.46 L70.13,34.84 L71.65,34.19 L73.17,33.52 L74.69,32.81 L76.21,32.07 L77.73,31.30 L79.25,30.50 L80.77,29.67 L82.28,28.82 L83.80,27.94 L85.32,27.04 L86.84,26.11 L88.36,25.16 L89.88,24.18 L91.40,23.18 L92.92,22.16 L94.44,21.12 L95.96,20.06 L97.48,18.98 L99.00,17.88 L100.52,16.76 L102.04,15.62 L103.56,14.47 L105.08,13.30 L44.00,12.80 L44.00,40.40 Z" fill="#fff"/>
<path d="M44.30,40.40 L45.82,40.38 L47.34,40.32 L48.86,40.22 L50.38,40.08 L51.90,39.90 L53.42,39.69 L54.94,39.43 L56.46,39.14 L57.97,38.80 L59.49,38.43 L61.01,38.03 L62.53,37.58 L64.05,37.10 L65.57,36.59 L67.09,36.04 L68.61,35.46 L70.13,34.84 L71.65,34.19 L73.17,33.52 L74.69,32.81 L76.21,32.07 L77.73,31.30 L79.25,30.50 L80.77,29.67 L82.28,28.82 L83.80,27.94 L85.32,27.04 L86.84,26.11 L88.36,25.16 L89.88,24.18 L91.40,23.18 L92.92,22.16 L94.44,21.12 L95.96,20.06 L97.48,18.98 L99.00,17.88 L100.52,16.76 L102.04,15.62 L103.56,14.47 L105.08,13.30" fill="none" stroke="#333" stroke-width="1.0"/>
<line x1="44.50" y1="40.40" x2="44.50" y2="159.40" stroke="#333" stroke-opacity="0.55" stroke-width="0.7"/>
<rect x="37.00" y="13.30" width="125.60" height="146.10" fill="none" stroke="#8c8c8c" stroke-width="1"/>
<line x1="37.00" y1="145.40" x2="39.00" y2="145.40" stroke="#444" stroke-width="0.8"/>
<line x1="162.60" y1="145.40" x2="160.60" y2="145.40" stroke="#444" stroke-width="0.8"/>
<text transform="translate(35.30 149.86) scale(1.150 1)" font-size="10.30" text-anchor="end" fill="#222" font-family="Liberation Sans, sans-serif" stroke="#222" stroke-width="0.12" >-35</text>
<line x1="37.00" y1="130.40" x2="39.00" y2="130.40" stroke="#444" stroke-width="0.8"/>
<line x1="162.60" y1="130.40" x2="160.60" y2="130.40" stroke="#444" stroke-width="0.8"/>
<text transform="translate(35.30 134.86) scale(1.150 1)" font-size="10.30" text-anchor="end" fill="#222" font-family="Liberation Sans, sans-serif" stroke="#222" stroke-width="0.12" >-30</text>
<line x1="37.00" y1="115.40" x2="39.00" y2="115.40" stroke="#444" stroke-width="0.8"/>
<line x1="162.60" y1="115.40" x2="160.60" y2="115.40" stroke="#444" stroke-width="0.8"/>
<text transform="translate(35.30 119.86) scale(1.150 1)" font-size="10.30" text-anchor="end" fill="#222" font-family="Liberation Sans, sans-serif" stroke="#222" stroke-width="0.12" >-25</text>
<line x1="37.00" y1="100.40" x2="39.00" y2="100.40" stroke="#444" stroke-width="0.8"/>
<line x1="162.60" y1="100.40" x2="160.60" y2="100.40" stroke="#444" stroke-width="0.8"/>
<text transform="translate(35.30 104.86) scale(1.150 1)" font-size="10.30" text-anchor="end" fill="#222" font-family="Liberation Sans, sans-serif" stroke="#222" stroke-width="0.12" >-20</text>
<line x1="37.00" y1="85.40" x2="39.00" y2="85.40" stroke="#444" stroke-width="0.8"/>
<line x1="162.60" y1="85.40" x2="160.60" y2="85.40" stroke="#444" stroke-width="0.8"/>
<text transform="translate(35.30 89.86) scale(1.150 1)" font-size="10.30" text-anchor="end" fill="#222" font-family="Liberation Sans, sans-serif" stroke="#222" stroke-width="0.12" >-15</text>
<line x1="37.00" y1="70.40" x2="39.00" y2="70.40" stroke="#444" stroke-width="0.8"/>
<line x1="162.60" y1="70.40" x2="160.60" y2="70.40" stroke="#444" stroke-width="0.8"/>
<text transform="translate(35.30 74.86) scale(1.150 1)" font-size="10.30" text-anchor="end" fill="#222" font-family="Liberation Sans, sans-serif" stroke="#222" stroke-width="0.12" >-10</text>
<line x1="37.00" y1="55.40" x2="39.00" y2="55.40" stroke="#444" stroke-width="0.8"/>
<line x1="162.60" y1="55.40" x2="160.60" y2="55.40" stroke="#444" stroke-width="0.8"/>
<text transform="translate(35.30 59.86) scale(1.150 1)" font-size="10.30" text-anchor="end" fill="#222" font-family="Liberation Sans, sans-serif" stroke="#222" stroke-width="0.12" >-5</text>
<line x1="37.00" y1="40.40" x2="39.00" y2="40.40" stroke="#444" stroke-width="0.8"/>
<line x1="162.60" y1="40.40" x2="160.60" y2="40.40" stroke="#444" stroke-width="0.8"/>
<text transform="translate(35.30 44.86) scale(1.150 1)" font-size="10.30" text-anchor="end" fill="#222" font-family="Liberation Sans, sans-serif" stroke="#222" stroke-width="0.12" >0</text>
<line x1="37.00" y1="25.40" x2="39.00" y2="25.40" stroke="#444" stroke-width="0.8"/>
<line x1="162.60" y1="25.40" x2="160.60" y2="25.40" stroke="#444" stroke-width="0.8"/>
<line x1="44.30" y1="13.30" x2="44.30" y2="15.30" stroke="#444" stroke-width="0.8"/>
<line x1="44.30" y1="159.40" x2="44.30" y2="157.40" stroke="#444" stroke-width="0.8"/>
<text transform="translate(44.30 171.60) scale(1.150 1)" font-size="10.30" text-anchor="middle" fill="#222" font-family="Liberation Sans, sans-serif" stroke="#222" stroke-width="0.12" >0</text>
<line x1="104.80" y1="13.30" x2="104.80" y2="15.30" stroke="#444" stroke-width="0.8"/>
<line x1="104.80" y1="159.40" x2="104.80" y2="157.40" stroke="#444" stroke-width="0.8"/>
<text transform="translate(104.80 171.60) scale(1.150 1)" font-size="10.30" text-anchor="middle" fill="#222" font-family="Liberation Sans, sans-serif" stroke="#222" stroke-width="0.12" >2</text>
<text transform="translate(123.11 172.50) scale(0.980 1)" font-size="12.36" fill="#222" font-family="Liberation Sans, sans-serif" stroke="#222" stroke-width="0.12">×</text>
<text transform="translate(131.33 171.60) scale(1.042 1)" font-size="10.30" fill="#222" font-family="Liberation Sans, sans-serif" stroke="#222" stroke-width="0.12">10</text>
<text transform="translate(144.75 165.50) scale(1.278 1)" font-size="7.00" fill="#222" font-family="Liberation Sans, sans-serif">-4</text>
<text transform="translate(155.14 171.60) scale(0.985 1)" font-size="9.27" fill="#222" font-family="Liberation Sans, sans-serif" stroke="#222" stroke-width="0.12">m</text>
<text transform="translate(0.67 23.90) scale(0.907 1)" font-size="12.36" fill="#222" font-family="Liberation Sans, sans-serif" stroke="#222" stroke-width="0.12">×</text>
<text transform="translate(9.45 23.90) scale(1.022 1)" font-size="10.30" fill="#222" font-family="Liberation Sans, sans-serif" stroke="#222" stroke-width="0.12">10</text>
<text transform="translate(22.58 18.70) scale(1.192 1)" font-size="7.00" fill="#222" font-family="Liberation Sans, sans-serif">-5</text>
<text transform="translate(0.82 31.50) scale(1.016 1)" font-size="9.27" fill="#222" font-family="Liberation Sans, sans-serif" stroke="#222" stroke-width="0.12">m</text>
<text x="68.50" y="9.00" font-size="10.30" text-anchor="start" fill="#222" font-family="Liberation Sans, sans-serif" textLength="106.50" lengthAdjust="spacingAndGlyphs" stroke="#222" stroke-width="0.12" >Electric field (kV/cm)</text>
<rect x="171.50" y="48.00" width="7.00" height="94.00" fill="url(#g1)" stroke="rgba(0,0,0,0.3)" stroke-width="0.6"/>
<line x1="177.00" y1="48.00" x2="178.50" y2="48.00" stroke="#333" stroke-width="0.6"/>
<line x1="171.50" y1="48.00" x2="173.00" y2="48.00" stroke="#333" stroke-width="0.6"/>
<text transform="translate(181.50 52.21) scale(1.150 1)" font-size="10.30" text-anchor="start" fill="#222" font-family="Liberation Sans, sans-serif" stroke="#222" stroke-width="0.12" >200</text>
<line x1="177.00" y1="71.50" x2="178.50" y2="71.50" stroke="#333" stroke-width="0.6"/>
<line x1="171.50" y1="71.50" x2="173.00" y2="71.50" stroke="#333" stroke-width="0.6"/>
<text transform="translate(181.50 75.71) scale(1.150 1)" font-size="10.30" text-anchor="start" fill="#222" font-family="Liberation Sans, sans-serif" stroke="#222" stroke-width="0.12" >150</text>
<line x1="177.00" y1="95.00" x2="178.50" y2="95.00" stroke="#333" stroke-width="0.6"/>
<line x1="171.50" y1="95.00" x2="173.00" y2="95.00" stroke="#333" stroke-width="0.6"/>
<text transform="translate(181.50 99.21) scale(1.150 1)" font-size="10.30" text-anchor="start" fill="#222" font-family="Liberation Sans, sans-serif" stroke="#222" stroke-width="0.12" >100</text>
<line x1="177.00" y1="118.50" x2="178.50" y2="118.50" stroke="#333" stroke-width="0.6"/>
<line x1="171.50" y1="118.50" x2="173.00" y2="118.50" stroke="#333" stroke-width="0.6"/>
<text transform="translate(181.50 122.71) scale(1.150 1)" font-size="10.30" text-anchor="start" fill="#222" font-family="Liberation Sans, sans-serif" stroke="#222" stroke-width="0.12" >50</text>
<line x1="177.00" y1="142.00" x2="178.50" y2="142.00" stroke="#333" stroke-width="0.6"/>
<line x1="171.50" y1="142.00" x2="173.00" y2="142.00" stroke="#333" stroke-width="0.6"/>
<text transform="translate(181.50 146.21) scale(1.150 1)" font-size="10.30" text-anchor="start" fill="#222" font-family="Liberation Sans, sans-serif" stroke="#222" stroke-width="0.12" >0</text>
<path d="M171.00,20.40 L176.00,28.60 L166.00,28.60 Z" fill="#000"/>
<path d="M165.60,150.20 L175.90,150.20 L170.75,158.80 Z" fill="#000"/>
<text transform="translate(180.40 28.80) scale(1.150 1)" font-size="10.30" text-anchor="start" fill="#222" font-family="Liberation Sans, sans-serif" stroke="#222" stroke-width="0.12" >122</text>
<text transform="translate(180.40 158.80) scale(1.150 1)" font-size="10.30" text-anchor="start" fill="#222" font-family="Liberation Sans, sans-serif" stroke="#222" stroke-width="0.12" >0</text>
<text x="66.60" y="154.90" font-size="14.2" fill="#fff" stroke="#fff" stroke-width="0.2" font-family="Liberation Serif, serif" textLength="67.40" lengthAdjust="spacingAndGlyphs"><tspan font-style="italic">t</tspan> = 77.36 μs</text>
<path d="M286.30,40.40 L287.82,40.38 L289.34,40.32 L290.86,40.22 L292.38,40.08 L293.90,39.90 L295.42,39.69 L296.94,39.43 L298.46,39.14 L299.97,38.80 L301.49,38.43 L303.01,38.03 L304.53,37.58 L306.05,37.10 L307.57,36.59 L309.09,36.04 L310.61,35.46 L312.13,34.84 L313.65,34.19 L315.17,33.52 L316.69,32.81 L318.21,32.07 L319.73,31.30 L321.25,30.50 L322.77,29.67 L324.28,28.82 L325.80,27.94 L327.32,27.04 L328.84,26.11 L330.36,25.16 L331.88,24.18 L333.40,23.18 L334.92,22.16 L336.44,21.12 L337.96,20.06 L339.48,18.98 L341.00,17.88 L342.52,16.76 L344.04,15.62 L345.56,14.47 L347.08,13.30 L286.00,12.80 L286.00,40.40 Z" fill="#fff"/>
<path d="M286.30,40.40 L287.82,40.38 L289.34,40.32 L290.86,40.22 L292.38,40.08 L293.90,39.90 L295.42,39.69 L296.94,39.43 L298.46,39.14 L299.97,38.80 L301.49,38.43 L303.01,38.03 L304.53,37.58 L306.05,37.10 L307.57,36.59 L309.09,36.04 L310.61,35.46 L312.13,34.84 L313.65,34.19 L315.17,33.52 L316.69,32.81 L318.21,32.07 L319.73,31.30 L321.25,30.50 L322.77,29.67 L324.28,28.82 L325.80,27.94 L327.32,27.04 L328.84,26.11 L330.36,25.16 L331.88,24.18 L333.40,23.18 L334.92,22.16 L336.44,21.12 L337.96,20.06 L339.48,18.98 L341.00,17.88 L342.52,16.76 L344.04,15.62 L345.56,14.47 L347.08,13.30" fill="none" stroke="#333" stroke-width="1.0"/>
<line x1="286.50" y1="40.40" x2="286.50" y2="159.40" stroke="#333" stroke-opacity="0.55" stroke-width="0.7"/>
<rect x="279.00" y="13.30" width="125.60" height="146.10" fill="none" stroke="#8c8c8c" stroke-width="1"/>
<line x1="279.00" y1="145.40" x2="281.00" y2="145.40" stroke="#444" stroke-width="0.8"/>
<line x1="404.60" y1="145.40" x2="402.60" y2="145.40" stroke="#444" stroke-width="0.8"/>
<text transform="translate(277.30 149.86) scale(1.150 1)" font-size="10.30" text-anchor="end" fill="#222" font-family="Liberation Sans, sans-serif" stroke="#222" stroke-width="0.12" >-35</text>
<line x1="279.00" y1="130.40" x2="281.00" y2="130.40" stroke="#444" stroke-width="0.8"/>
<line x1="404.60" y1="130.40" x2="402.60" y2="130.40" stroke="#444" stroke-width="0.8"/>
<text transform="translate(277.30 134.86) scale(1.150 1)" font-size="10.30" text-anchor="end" fill="#222" font-family="Liberation Sans, sans-serif" stroke="#222" stroke-width="0.12" >-30</text>
<line x1="279.00" y1="115.40" x2="281.00" y2="115.40" stroke="#444" stroke-width="0.8"/>
<line x1="404.60" y1="115.40" x2="402.60" y2="115.40" stroke="#444" stroke-width="0.8"/>
<text transform="translate(277.30 119.86) scale(1.150 1)" font-size="10.30" text-anchor="end" fill="#222" font-family="Liberation Sans, sans-serif" stroke="#222" stroke-width="0.12" >-25</text>
<line x1="279.00" y1="100.40" x2="281.00" y2="100.40" stroke="#444" stroke-width="0.8"/>
<line x1="404.60" y1="100.40" x2="402.60" y2="100.40" stroke="#444" stroke-width="0.8"/>
<text transform="translate(277.30 104.86) scale(1.150 1)" font-size="10.30" text-anchor="end" fill="#222" font-family="Liberation Sans, sans-serif" stroke="#222" stroke-width="0.12" >-20</text>
<line x1="279.00" y1="85.40" x2="281.00" y2="85.40" stroke="#444" stroke-width="0.8"/>
<line x1="404.60" y1="85.40" x2="402.60" y2="85.40" stroke="#444" stroke-width="0.8"/>
<text transform="translate(277.30 89.86) scale(1.150 1)" font-size="10.30" text-anchor="end" fill="#222" font-family="Liberation Sans, sans-serif" stroke="#222" stroke-width="0.12" >-15</text>
<line x1="279.00" y1="70.40" x2="281.00" y2="70.40" stroke="#444" stroke-width="0.8"/>
<line x1="404.60" y1="70.40" x2="402.60" y2="70.40" stroke="#444" stroke-width="0.8"/>
<text transform="translate(277.30 74.86) scale(1.150 1)" font-size="10.30" text-anchor="end" fill="#222" font-family="Liberation Sans, sans-serif" stroke="#222" stroke-width="0.12" >-10</text>
<line x1="279.00" y1="55.40" x2="281.00" y2="55.40" stroke="#444" stroke-width="0.8"/>
<line x1="404.60" y1="55.40" x2="402.60" y2="55.40" stroke="#444" stroke-width="0.8"/>
<text transform="translate(277.30 59.86) scale(1.150 1)" font-size="10.30" text-anchor="end" fill="#222" font-family="Liberation Sans, sans-serif" stroke="#222" stroke-width="0.12" >-5</text>
<line x1="279.00" y1="40.40" x2="281.00" y2="40.40" stroke="#444" stroke-width="0.8"/>
<line x1="404.60" y1="40.40" x2="402.60" y2="40.40" stroke="#444" stroke-width="0.8"/>
<text transform="translate(277.30 44.86) scale(1.150 1)" font-size="10.30" text-anchor="end" fill="#222" font-family="Liberation Sans, sans-serif" stroke="#222" stroke-width="0.12" >0</text>
<line x1="279.00" y1="25.40" x2="281.00" y2="25.40" stroke="#444" stroke-width="0.8"/>
<line x1="404.60" y1="25.40" x2="402.60" y2="25.40" stroke="#444" stroke-width="0.8"/>
<line x1="286.30" y1="13.30" x2="286.30" y2="15.30" stroke="#444" stroke-width="0.8"/>
<line x1="286.30" y1="159.40" x2="286.30" y2="157.40" stroke="#444" stroke-width="0.8"/>
<text transform="translate(286.30 171.60) scale(1.150 1)" font-size="10.30" text-anchor="middle" fill="#222" font-family="Liberation Sans, sans-serif" stroke="#222" stroke-width="0.12" >0</text>
<line x1="346.80" y1="13.30" x2="346.80" y2="15.30" stroke="#444" stroke-width="0.8"/>
<line x1="346.80" y1="159.40" x2="346.80" y2="157.40" stroke="#444" stroke-width="0.8"/>
<text transform="translate(346.80 171.60) scale(1.150 1)" font-size="10.30" text-anchor="middle" fill="#222" font-family="Liberation Sans, sans-serif" stroke="#222" stroke-width="0.12" >2</text>
<text transform="translate(365.11 172.50) scale(0.980 1)" font-size="12.36" fill="#222" font-family="Liberation Sans, sans-serif" stroke="#222" stroke-width="0.12">×</text>
<text transform="translate(373.33 171.60) scale(1.042 1)" font-size="10.30" fill="#222" font-family="Liberation Sans, sans-serif" stroke="#222" stroke-width="0.12">10</text>
<text transform="translate(386.75 165.50) scale(1.278 1)" font-size="7.00" fill="#222" font-family="Liberation Sans, sans-serif">-4</text>
<text transform="translate(397.14 171.60) scale(0.985 1)" font-size="9.27" fill="#222" font-family="Liberation Sans, sans-serif" stroke="#222" stroke-width="0.12">m</text>
<text transform="translate(242.67 23.90) scale(0.907 1)" font-size="12.36" fill="#222" font-family="Liberation Sans, sans-serif" stroke="#222" stroke-width="0.12">×</text>
<text transform="translate(251.45 23.90) scale(1.022 1)" font-size="10.30" fill="#222" font-family="Liberation Sans, sans-serif" stroke="#222" stroke-width="0.12">10</text>
<text transform="translate(264.58 18.70) scale(1.192 1)" font-size="7.00" fill="#222" font-family="Liberation Sans, sans-serif">-5</text>
<text transform="translate(242.82 31.50) scale(1.016 1)" font-size="9.27" fill="#222" font-family="Liberation Sans, sans-serif" stroke="#222" stroke-width="0.12">m</text>
<text x="310.50" y="9.00" font-size="10.30" text-anchor="start" fill="#222" font-family="Liberation Sans, sans-serif" textLength="106.50" lengthAdjust="spacingAndGlyphs" stroke="#222" stroke-width="0.12" >Electric field (kV/cm)</text>
<rect x="413.50" y="48.00" width="7.00" height="94.00" fill="url(#g2)" stroke="rgba(0,0,0,0.3)" stroke-width="0.6"/>
<line x1="419.00" y1="48.00" x2="420.50" y2="48.00" stroke="#333" stroke-width="0.6"/>
<line x1="413.50" y1="48.00" x2="415.00" y2="48.00" stroke="#333" stroke-width="0.6"/>
<text transform="translate(423.50 52.21) scale(1.150 1)" font-size="10.30" text-anchor="start" fill="#222" font-family="Liberation Sans, sans-serif" stroke="#222" stroke-width="0.12" >200</text>
<line x1="419.00" y1="71.50" x2="420.50" y2="71.50" stroke="#333" stroke-width="0.6"/>
<line x1="413.50" y1="71.50" x2="415.00" y2="71.50" stroke="#333" stroke-width="0.6"/>
<text transform="translate(423.50 75.71) scale(1.150 1)" font-size="10.30" text-anchor="start" fill="#222" font-family="Liberation Sans, sans-serif" stroke="#222" stroke-width="0.12" >150</text>
<line x1="419.00" y1="95.00" x2="420.50" y2="95.00" stroke="#333" stroke-width="0.6"/>
<line x1="413.50" y1="95.00" x2="415.00" y2="95.00" stroke="#333" stroke-width="0.6"/>
<text transform="translate(423.50 99.21) scale(1.150 1)" font-size="10.30" text-anchor="start" fill="#222" font-family="Liberation Sans, sans-serif" stroke="#222" stroke-width="0.12" >100</text>
<line x1="419.00" y1="118.50" x2="420.50" y2="118.50" stroke="#333" stroke-width="0.6"/>
<line x1="413.50" y1="118.50" x2="415.00" y2="118.50" stroke="#333" stroke-width="0.6"/>
<text transform="translate(423.50 122.71) scale(1.150 1)" font-size="10.30" text-anchor="start" fill="#222" font-family="Liberation Sans, sans-serif" stroke="#222" stroke-width="0.12" >50</text>
<line x1="419.00" y1="142.00" x2="420.50" y2="142.00" stroke="#333" stroke-width="0.6"/>
<line x1="413.50" y1="142.00" x2="415.00" y2="142.00" stroke="#333" stroke-width="0.6"/>
<text transform="translate(423.50 146.21) scale(1.150 1)" font-size="10.30" text-anchor="start" fill="#222" font-family="Liberation Sans, sans-serif" stroke="#222" stroke-width="0.12" >0</text>
<path d="M413.00,20.40 L418.00,28.60 L408.00,28.60 Z" fill="#000"/>
<path d="M407.60,150.20 L417.90,150.20 L412.75,158.80 Z" fill="#000"/>
<text transform="translate(422.40 28.80) scale(1.150 1)" font-size="10.30" text-anchor="start" fill="#222" font-family="Liberation Sans, sans-serif" stroke="#222" stroke-width="0.12" >247</text>
<text transform="translate(422.40 158.80) scale(1.150 1)" font-size="10.30" text-anchor="start" fill="#222" font-family="Liberation Sans, sans-serif" stroke="#222" stroke-width="0.12" >0</text>
<text x="303.40" y="154.90" font-size="14.2" fill="#fff" stroke="#fff" stroke-width="0.2" font-family="Liberation Serif, serif" textLength="67.50" lengthAdjust="spacingAndGlyphs"><tspan font-style="italic">t</tspan> = 77.68 μs</text>
<path d="M528.60,40.40 L530.12,40.38 L531.64,40.32 L533.16,40.22 L534.68,40.08 L536.20,39.90 L537.72,39.69 L539.24,39.43 L540.76,39.14 L542.27,38.80 L543.79,38.43 L545.31,38.03 L546.83,37.58 L548.35,37.10 L549.87,36.59 L551.39,36.04 L552.91,35.46 L554.43,34.84 L555.95,34.19 L557.47,33.52 L558.99,32.81 L560.51,32.07 L562.03,31.30 L563.55,30.50 L565.07,29.67 L566.58,28.82 L568.10,27.94 L569.62,27.04 L571.14,26.11 L572.66,25.16 L574.18,24.18 L575.70,23.18 L577.22,22.16 L578.74,21.12 L580.26,20.06 L581.78,18.98 L583.30,17.88 L584.82,16.76 L586.34,15.62 L587.86,14.47 L589.38,13.30 L528.30,12.80 L528.30,40.40 Z" fill="#fff"/>
<path d="M528.60,40.40 L530.12,40.38 L531.64,40.32 L533.16,40.22 L534.68,40.08 L536.20,39.90 L537.72,39.69 L539.24,39.43 L540.76,39.14 L542.27,38.80 L543.79,38.43 L545.31,38.03 L546.83,37.58 L548.35,37.10 L549.87,36.59 L551.39,36.04 L552.91,35.46 L554.43,34.84 L555.95,34.19 L557.47,33.52 L558.99,32.81 L560.51,32.07 L562.03,31.30 L563.55,30.50 L565.07,29.67 L566.58,28.82 L568.10,27.94 L569.62,27.04 L571.14,26.11 L572.66,25.16 L574.18,24.18 L575.70,23.18 L577.22,22.16 L578.74,21.12 L580.26,20.06 L581.78,18.98 L583.30,17.88 L584.82,16.76 L586.34,15.62 L587.86,14.47 L589.38,13.30" fill="none" stroke="#333" stroke-width="1.0"/>
<line x1="528.80" y1="40.40" x2="528.80" y2="159.40" stroke="#333" stroke-opacity="0.55" stroke-width="0.7"/>
<rect x="521.30" y="13.30" width="125.60" height="146.10" fill="none" stroke="#8c8c8c" stroke-width="1"/>
<line x1="521.30" y1="145.40" x2="523.30" y2="145.40" stroke="#444" stroke-width="0.8"/>
<line x1="646.90" y1="145.40" x2="644.90" y2="145.40" stroke="#444" stroke-width="0.8"/>
<text transform="translate(519.60 149.86) scale(1.150 1)" font-size="10.30" text-anchor="end" fill="#222" font-family="Liberation Sans, sans-serif" stroke="#222" stroke-width="0.12" >-35</text>
<line x1="521.30" y1="130.40" x2="523.30" y2="130.40" stroke="#444" stroke-width="0.8"/>
<line x1="646.90" y1="130.40" x2="644.90" y2="130.40" stroke="#444" stroke-width="0.8"/>
<text transform="translate(519.60 134.86) scale(1.150 1)" font-size="10.30" text-anchor="end" fill="#222" font-family="Liberation Sans, sans-serif" stroke="#222" stroke-width="0.12" >-30</text>
<line x1="521.30" y1="115.40" x2="523.30" y2="115.40" stroke="#444" stroke-width="0.8"/>
<line x1="646.90" y1="115.40" x2="644.90" y2="115.40" stroke="#444" stroke-width="0.8"/>
<text transform="translate(519.60 119.86) scale(1.150 1)" font-size="10.30" text-anchor="end" fill="#222" font-family="Liberation Sans, sans-serif" stroke="#222" stroke-width="0.12" >-25</text>
<line x1="521.30" y1="100.40" x2="523.30" y2="100.40" stroke="#444" stroke-width="0.8"/>
<line x1="646.90" y1="100.40" x2="644.90" y2="100.40" stroke="#444" stroke-width="0.8"/>
<text transform="translate(519.60 104.86) scale(1.150 1)" font-size="10.30" text-anchor="end" fill="#222" font-family="Liberation Sans, sans-serif" stroke="#222" stroke-width="0.12" >-20</text>
<line x1="521.30" y1="85.40" x2="523.30" y2="85.40" stroke="#444" stroke-width="0.8"/>
<line x1="646.90" y1="85.40" x2="644.90" y2="85.40" stroke="#444" stroke-width="0.8"/>
<text transform="translate(519.60 89.86) scale(1.150 1)" font-size="10.30" text-anchor="end" fill="#222" font-family="Liberation Sans, sans-serif" stroke="#222" stroke-width="0.12" >-15</text>
<line x1="521.30" y1="70.40" x2="523.30" y2="70.40" stroke="#444" stroke-width="0.8"/>
<line x1="646.90" y1="70.40" x2="644.90" y2="70.40" stroke="#444" stroke-width="0.8"/>
<text transform="translate(519.60 74.86) scale(1.150 1)" font-size="10.30" text-anchor="end" fill="#222" font-family="Liberation Sans, sans-serif" stroke="#222" stroke-width="0.12" >-10</text>
<line x1="521.30" y1="55.40" x2="523.30" y2="55.40" stroke="#444" stroke-width="0.8"/>
<line x1="646.90" y1="55.40" x2="644.90" y2="55.40" stroke="#444" stroke-width="0.8"/>
<text transform="translate(519.60 59.86) scale(1.150 1)" font-size="10.30" text-anchor="end" fill="#222" font-family="Liberation Sans, sans-serif" stroke="#222" stroke-width="0.12" >-5</text>
<line x1="521.30" y1="40.40" x2="523.30" y2="40.40" stroke="#444" stroke-width="0.8"/>
<line x1="646.90" y1="40.40" x2="644.90" y2="40.40" stroke="#444" stroke-width="0.8"/>
<text transform="translate(519.60 44.86) scale(1.150 1)" font-size="10.30" text-anchor="end" fill="#222" font-family="Liberation Sans, sans-serif" stroke="#222" stroke-width="0.12" >0</text>
<line x1="521.30" y1="25.40" x2="523.30" y2="25.40" stroke="#444" stroke-width="0.8"/>
<line x1="646.90" y1="25.40" x2="644.90" y2="25.40" stroke="#444" stroke-width="0.8"/>
<line x1="528.60" y1="13.30" x2="528.60" y2="15.30" stroke="#444" stroke-width="0.8"/>
<line x1="528.60" y1="159.40" x2="528.60" y2="157.40" stroke="#444" stroke-width="0.8"/>
<text transform="translate(528.60 171.60) scale(1.150 1)" font-size="10.30" text-anchor="middle" fill="#222" font-family="Liberation Sans, sans-serif" stroke="#222" stroke-width="0.12" >0</text>
<line x1="589.10" y1="13.30" x2="589.10" y2="15.30" stroke="#444" stroke-width="0.8"/>
<line x1="589.10" y1="159.40" x2="589.10" y2="157.40" stroke="#444" stroke-width="0.8"/>
<text transform="translate(589.10 171.60) scale(1.150 1)" font-size="10.30" text-anchor="middle" fill="#222" font-family="Liberation Sans, sans-serif" stroke="#222" stroke-width="0.12" >2</text>
<text transform="translate(607.41 172.50) scale(0.980 1)" font-size="12.36" fill="#222" font-family="Liberation Sans, sans-serif" stroke="#222" stroke-width="0.12">×</text>
<text transform="translate(615.63 171.60) scale(1.042 1)" font-size="10.30" fill="#222" font-family="Liberation Sans, sans-serif" stroke="#222" stroke-width="0.12">10</text>
<text transform="translate(629.05 165.50) scale(1.278 1)" font-size="7.00" fill="#222" font-family="Liberation Sans, sans-serif">-4</text>
<text transform="translate(639.44 171.60) scale(0.985 1)" font-size="9.27" fill="#222" font-family="Liberation Sans, sans-serif" stroke="#222" stroke-width="0.12">m</text>
<text transform="translate(484.97 23.90) scale(0.907 1)" font-size="12.36" fill="#222" font-family="Liberation Sans, sans-serif" stroke="#222" stroke-width="0.12">×</text>
<text transform="translate(493.75 23.90) scale(1.022 1)" font-size="10.30" fill="#222" font-family="Liberation Sans, sans-serif" stroke="#222" stroke-width="0.12">10</text>
<text transform="translate(506.88 18.70) scale(1.192 1)" font-size="7.00" fill="#222" font-family="Liberation Sans, sans-serif">-5</text>
<text transform="translate(485.12 31.50) scale(1.016 1)" font-size="9.27" fill="#222" font-family="Liberation Sans, sans-serif" stroke="#222" stroke-width="0.12">m</text>
<text x="552.80" y="9.00" font-size="10.30" text-anchor="start" fill="#222" font-family="Liberation Sans, sans-serif" textLength="106.50" lengthAdjust="spacingAndGlyphs" stroke="#222" stroke-width="0.12" >Electric field (kV/cm)</text>
<rect x="655.80" y="48.00" width="7.00" height="94.00" fill="url(#g3)" stroke="rgba(0,0,0,0.3)" stroke-width="0.6"/>
<line x1="661.30" y1="48.00" x2="662.80" y2="48.00" stroke="#333" stroke-width="0.6"/>
<line x1="655.80" y1="48.00" x2="657.30" y2="48.00" stroke="#333" stroke-width="0.6"/>
<text transform="translate(665.80 52.21) scale(1.150 1)" font-size="10.30" text-anchor="start" fill="#222" font-family="Liberation Sans, sans-serif" stroke="#222" stroke-width="0.12" >200</text>
<line x1="661.30" y1="71.50" x2="662.80" y2="71.50" stroke="#333" stroke-width="0.6"/>
<line x1="655.80" y1="71.50" x2="657.30" y2="71.50" stroke="#333" stroke-width="0.6"/>
<text transform="translate(665.80 75.71) scale(1.150 1)" font-size="10.30" text-anchor="start" fill="#222" font-family="Liberation Sans, sans-serif" stroke="#222" stroke-width="0.12" >150</text>
<line x1="661.30" y1="95.00" x2="662.80" y2="95.00" stroke="#333" stroke-width="0.6"/>
<line x1="655.80" y1="95.00" x2="657.30" y2="95.00" stroke="#333" stroke-width="0.6"/>
<text transform="translate(665.80 99.21) scale(1.150 1)" font-size="10.30" text-anchor="start" fill="#222" font-family="Liberation Sans, sans-serif" stroke="#222" stroke-width="0.12" >100</text>
<line x1="661.30" y1="118.50" x2="662.80" y2="118.50" stroke="#333" stroke-width="0.6"/>
<line x1="655.80" y1="118.50" x2="657.30" y2="118.50" stroke="#333" stroke-width="0.6"/>
<text transform="translate(665.80 122.71) scale(1.150 1)" font-size="10.30" text-anchor="start" fill="#222" font-family="Liberation Sans, sans-serif" stroke="#222" stroke-width="0.12" >50</text>
<line x1="661.30" y1="142.00" x2="662.80" y2="142.00" stroke="#333" stroke-width="0.6"/>
<line x1="655.80" y1="142.00" x2="657.30" y2="142.00" stroke="#333" stroke-width="0.6"/>
<text transform="translate(665.80 146.21) scale(1.150 1)" font-size="10.30" text-anchor="start" fill="#222" font-family="Liberation Sans, sans-serif" stroke="#222" stroke-width="0.12" >0</text>
<path d="M655.30,20.40 L660.30,28.60 L650.30,28.60 Z" fill="#000"/>
<path d="M649.90,150.20 L660.20,150.20 L655.05,158.80 Z" fill="#000"/>
<text transform="translate(664.70 28.80) scale(1.150 1)" font-size="10.30" text-anchor="start" fill="#222" font-family="Liberation Sans, sans-serif" stroke="#222" stroke-width="0.12" >153</text>
<text transform="translate(664.70 158.80) scale(1.150 1)" font-size="10.30" text-anchor="start" fill="#222" font-family="Liberation Sans, sans-serif" stroke="#222" stroke-width="0.12" >0</text>
<text x="557.00" y="154.90" font-size="14.2" fill="#fff" stroke="#fff" stroke-width="0.2" font-family="Liberation Serif, serif" textLength="67.50" lengthAdjust="spacingAndGlyphs"><tspan font-style="italic">t</tspan> = 77.89 μs</text>
<path d="M45.30,241.40 L46.77,241.38 L48.23,241.33 L49.70,241.23 L51.16,241.10 L52.63,240.94 L54.10,240.74 L55.56,240.50 L57.03,240.23 L58.50,239.92 L59.96,239.57 L61.43,239.19 L62.89,238.78 L64.36,238.34 L65.83,237.86 L67.29,237.35 L68.76,236.80 L70.22,236.23 L71.69,235.63 L73.16,234.99 L74.62,234.33 L76.09,233.64 L77.55,232.92 L79.02,232.17 L80.49,231.40 L81.95,230.60 L83.42,229.78 L84.89,228.93 L86.35,228.06 L87.82,227.16 L89.28,226.25 L90.75,225.31 L92.22,224.35 L93.68,223.37 L95.15,222.37 L96.61,221.36 L98.08,220.32 L99.55,219.26 L101.01,218.19 L102.48,217.10 L103.94,216.00 L45.00,215.50 L45.00,241.40 Z" fill="#fff"/>
<path d="M45.30,241.40 L46.77,241.38 L48.23,241.33 L49.70,241.23 L51.16,241.10 L52.63,240.94 L54.10,240.74 L55.56,240.50 L57.03,240.23 L58.50,239.92 L59.96,239.57 L61.43,239.19 L62.89,238.78 L64.36,238.34 L65.83,237.86 L67.29,237.35 L68.76,236.80 L70.22,236.23 L71.69,235.63 L73.16,234.99 L74.62,234.33 L76.09,233.64 L77.55,232.92 L79.02,232.17 L80.49,231.40 L81.95,230.60 L83.42,229.78 L84.89,228.93 L86.35,228.06 L87.82,227.16 L89.28,226.25 L90.75,225.31 L92.22,224.35 L93.68,223.37 L95.15,222.37 L96.61,221.36 L98.08,220.32 L99.55,219.26 L101.01,218.19 L102.48,217.10 L103.94,216.00" fill="none" stroke="#333" stroke-width="1.0"/>
<line x1="45.50" y1="241.40" x2="45.50" y2="359.40" stroke="#333" stroke-opacity="0.55" stroke-width="0.7"/>
<rect x="36.80" y="216.00" width="125.70" height="143.40" fill="none" stroke="#8c8c8c" stroke-width="1"/>
<line x1="36.80" y1="346.75" x2="38.80" y2="346.75" stroke="#444" stroke-width="0.8"/>
<line x1="162.50" y1="346.75" x2="160.50" y2="346.75" stroke="#444" stroke-width="0.8"/>
<text transform="translate(35.30 351.21) scale(1.150 1)" font-size="10.30" text-anchor="end" fill="#222" font-family="Liberation Sans, sans-serif" stroke="#222" stroke-width="0.12" >-35</text>
<line x1="36.80" y1="331.70" x2="38.80" y2="331.70" stroke="#444" stroke-width="0.8"/>
<line x1="162.50" y1="331.70" x2="160.50" y2="331.70" stroke="#444" stroke-width="0.8"/>
<text transform="translate(35.30 336.16) scale(1.150 1)" font-size="10.30" text-anchor="end" fill="#222" font-family="Liberation Sans, sans-serif" stroke="#222" stroke-width="0.12" >-30</text>
<line x1="36.80" y1="316.65" x2="38.80" y2="316.65" stroke="#444" stroke-width="0.8"/>
<line x1="162.50" y1="316.65" x2="160.50" y2="316.65" stroke="#444" stroke-width="0.8"/>
<text transform="translate(35.30 321.11) scale(1.150 1)" font-size="10.30" text-anchor="end" fill="#222" font-family="Liberation Sans, sans-serif" stroke="#222" stroke-width="0.12" >-25</text>
<line x1="36.80" y1="301.60" x2="38.80" y2="301.60" stroke="#444" stroke-width="0.8"/>
<line x1="162.50" y1="301.60" x2="160.50" y2="301.60" stroke="#444" stroke-width="0.8"/>
<text transform="translate(35.30 306.06) scale(1.150 1)" font-size="10.30" text-anchor="end" fill="#222" font-family="Liberation Sans, sans-serif" stroke="#222" stroke-width="0.12" >-20</text>
<line x1="36.80" y1="286.55" x2="38.80" y2="286.55" stroke="#444" stroke-width="0.8"/>
<line x1="162.50" y1="286.55" x2="160.50" y2="286.55" stroke="#444" stroke-width="0.8"/>
<text transform="translate(35.30 291.01) scale(1.150 1)" font-size="10.30" text-anchor="end" fill="#222" font-family="Liberation Sans, sans-serif" stroke="#222" stroke-width="0.12" >-15</text>
<line x1="36.80" y1="271.50" x2="38.80" y2="271.50" stroke="#444" stroke-width="0.8"/>
<line x1="162.50" y1="271.50" x2="160.50" y2="271.50" stroke="#444" stroke-width="0.8"/>
<text transform="translate(35.30 275.96) scale(1.150 1)" font-size="10.30" text-anchor="end" fill="#222" font-family="Liberation Sans, sans-serif" stroke="#222" stroke-width="0.12" >-10</text>
<line x1="36.80" y1="256.45" x2="38.80" y2="256.45" stroke="#444" stroke-width="0.8"/>
<line x1="162.50" y1="256.45" x2="160.50" y2="256.45" stroke="#444" stroke-width="0.8"/>
<text transform="translate(35.30 260.91) scale(1.150 1)" font-size="10.30" text-anchor="end" fill="#222" font-family="Liberation Sans, sans-serif" stroke="#222" stroke-width="0.12" >-5</text>
<line x1="36.80" y1="241.40" x2="38.80" y2="241.40" stroke="#444" stroke-width="0.8"/>
<line x1="162.50" y1="241.40" x2="160.50" y2="241.40" stroke="#444" stroke-width="0.8"/>
<text transform="translate(35.30 245.86) scale(1.150 1)" font-size="10.30" text-anchor="end" fill="#222" font-family="Liberation Sans, sans-serif" stroke="#222" stroke-width="0.12" >0</text>
<line x1="36.80" y1="226.35" x2="38.80" y2="226.35" stroke="#444" stroke-width="0.8"/>
<line x1="162.50" y1="226.35" x2="160.50" y2="226.35" stroke="#444" stroke-width="0.8"/>
<line x1="45.30" y1="216.00" x2="45.30" y2="218.00" stroke="#444" stroke-width="0.8"/>
<line x1="45.30" y1="359.40" x2="45.30" y2="357.40" stroke="#444" stroke-width="0.8"/>
<text transform="translate(45.30 372.00) scale(1.150 1)" font-size="10.30" text-anchor="middle" fill="#222" font-family="Liberation Sans, sans-serif" stroke="#222" stroke-width="0.12" >0</text>
<line x1="105.50" y1="216.00" x2="105.50" y2="218.00" stroke="#444" stroke-width="0.8"/>
<line x1="105.50" y1="359.40" x2="105.50" y2="357.40" stroke="#444" stroke-width="0.8"/>
<text transform="translate(105.50 372.00) scale(1.150 1)" font-size="10.30" text-anchor="middle" fill="#222" font-family="Liberation Sans, sans-serif" stroke="#222" stroke-width="0.12" >2</text>
<text transform="translate(123.31 372.90) scale(0.980 1)" font-size="12.36" fill="#222" font-family="Liberation Sans, sans-serif" stroke="#222" stroke-width="0.12">×</text>
<text transform="translate(131.53 372.00) scale(1.042 1)" font-size="10.30" fill="#222" font-family="Liberation Sans, sans-serif" stroke="#222" stroke-width="0.12">10</text>
<text transform="translate(144.95 365.90) scale(1.278 1)" font-size="7.00" fill="#222" font-family="Liberation Sans, sans-serif">-4</text>
<text transform="translate(155.34 372.00) scale(0.985 1)" font-size="9.27" fill="#222" font-family="Liberation Sans, sans-serif" stroke="#222" stroke-width="0.12">m</text>
<text transform="translate(0.67 226.60) scale(0.907 1)" font-size="12.36" fill="#222" font-family="Liberation Sans, sans-serif" stroke="#222" stroke-width="0.12">×</text>
<text transform="translate(9.45 226.60) scale(1.022 1)" font-size="10.30" fill="#222" font-family="Liberation Sans, sans-serif" stroke="#222" stroke-width="0.12">10</text>
<text transform="translate(22.58 220.60) scale(1.192 1)" font-size="7.00" fill="#222" font-family="Liberation Sans, sans-serif">-5</text>
<text transform="translate(0.82 234.60) scale(1.016 1)" font-size="9.27" fill="#222" font-family="Liberation Sans, sans-serif" stroke="#222" stroke-width="0.12">m</text>
<text x="52.00" y="210.80" font-size="10.30" text-anchor="start" fill="#222" font-family="Liberation Sans, sans-serif" textLength="140.00" lengthAdjust="spacingAndGlyphs" stroke="#222" stroke-width="0.12" >Net number density (1/m<tspan dy="-5" font-size="7.4" stroke="none">3</tspan><tspan dy="5">)</tspan></text>
<rect x="171.80" y="251.00" width="6.60" height="90.60" fill="url(#g4)" stroke="rgba(0,0,0,0.3)" stroke-width="0.6"/>
<line x1="176.90" y1="256.96" x2="178.40" y2="256.96" stroke="#333" stroke-width="0.6"/>
<line x1="171.80" y1="256.96" x2="173.30" y2="256.96" stroke="#333" stroke-width="0.6"/>
<text transform="translate(181.90 261.17) scale(1.150 1)" font-size="10.30" text-anchor="start" fill="#222" font-family="Liberation Sans, sans-serif" stroke="#222" stroke-width="0.12" >4</text>
<line x1="176.90" y1="273.09" x2="178.40" y2="273.09" stroke="#333" stroke-width="0.6"/>
<line x1="171.80" y1="273.09" x2="173.30" y2="273.09" stroke="#333" stroke-width="0.6"/>
<text transform="translate(181.90 277.29) scale(1.150 1)" font-size="10.30" text-anchor="start" fill="#222" font-family="Liberation Sans, sans-serif" stroke="#222" stroke-width="0.12" >3</text>
<line x1="176.90" y1="289.21" x2="178.40" y2="289.21" stroke="#333" stroke-width="0.6"/>
<line x1="171.80" y1="289.21" x2="173.30" y2="289.21" stroke="#333" stroke-width="0.6"/>
<text transform="translate(181.90 293.41) scale(1.150 1)" font-size="10.30" text-anchor="start" fill="#222" font-family="Liberation Sans, sans-serif" stroke="#222" stroke-width="0.12" >2</text>
<line x1="176.90" y1="305.33" x2="178.40" y2="305.33" stroke="#333" stroke-width="0.6"/>
<line x1="171.80" y1="305.33" x2="173.30" y2="305.33" stroke="#333" stroke-width="0.6"/>
<text transform="translate(181.90 309.54) scale(1.150 1)" font-size="10.30" text-anchor="start" fill="#222" font-family="Liberation Sans, sans-serif" stroke="#222" stroke-width="0.12" >1</text>
<line x1="176.90" y1="321.45" x2="178.40" y2="321.45" stroke="#333" stroke-width="0.6"/>
<line x1="171.80" y1="321.45" x2="173.30" y2="321.45" stroke="#333" stroke-width="0.6"/>
<text transform="translate(181.90 325.66) scale(1.150 1)" font-size="10.30" text-anchor="start" fill="#222" font-family="Liberation Sans, sans-serif" stroke="#222" stroke-width="0.12" >0</text>
<line x1="176.90" y1="337.57" x2="178.40" y2="337.57" stroke="#333" stroke-width="0.6"/>
<line x1="171.80" y1="337.57" x2="173.30" y2="337.57" stroke="#333" stroke-width="0.6"/>
<text transform="translate(181.90 341.78) scale(1.150 1)" font-size="10.30" text-anchor="start" fill="#222" font-family="Liberation Sans, sans-serif" stroke="#222" stroke-width="0.12" >-1</text>
<path d="M170.70,222.30 L175.60,230.90 L165.80,230.90 Z" fill="#000"/>
<path d="M165.70,349.80 L176.00,349.80 L170.85,358.00 Z" fill="#000"/>
<text x="180.20" y="231.50" font-size="10.30" text-anchor="start" fill="#222" font-family="Liberation Sans, sans-serif" textLength="53.50" lengthAdjust="spacingAndGlyphs" stroke="#222" stroke-width="0.12" >4.37<tspan font-size="12.15" dy="0.7">×</tspan><tspan dy="-0.7">10</tspan><tspan dy="-5.5" font-size="7.8" stroke="none">17</tspan></text>
<text x="180.40" y="358.00" font-size="10.30" text-anchor="start" fill="#222" font-family="Liberation Sans, sans-serif" textLength="56.30" lengthAdjust="spacingAndGlyphs" stroke="#222" stroke-width="0.12" >-1.25<tspan font-size="12.15" dy="0.7">×</tspan><tspan dy="-0.7">10</tspan><tspan dy="-5.5" font-size="7.8" stroke="none">17</tspan></text>
<text transform="translate(178.70 244.40) scale(1.150 1)" font-size="10.30" text-anchor="start" fill="#222" font-family="Liberation Sans, sans-serif" stroke="#222" stroke-width="0.12" ><tspan font-size="12.15" dy="0.7">×</tspan><tspan dy="-0.7">10</tspan><tspan dy="-5.5" font-size="7.8" stroke="none">17</tspan></text>
<path d="M284.20,238.60 L285.71,238.58 L287.22,238.52 L288.73,238.43 L290.24,238.29 L291.75,238.12 L293.26,237.91 L294.77,237.67 L296.27,237.38 L297.78,237.06 L299.29,236.70 L300.80,236.31 L302.31,235.88 L303.82,235.42 L305.33,234.93 L306.84,234.40 L308.35,233.83 L309.86,233.24 L311.37,232.61 L312.88,231.96 L314.39,231.27 L315.90,230.55 L317.41,229.81 L318.91,229.03 L320.42,228.23 L321.93,227.41 L323.44,226.55 L324.95,225.68 L326.46,224.77 L327.97,223.85 L329.48,222.90 L330.99,221.93 L332.50,220.94 L334.01,219.92 L335.52,218.89 L337.03,217.84 L338.54,216.77 L340.05,215.68 L341.55,214.57 L343.06,213.44 L344.57,212.30 L283.90,211.80 L283.90,238.60 Z" fill="#fff"/>
<path d="M284.20,238.60 L285.71,238.58 L287.22,238.52 L288.73,238.43 L290.24,238.29 L291.75,238.12 L293.26,237.91 L294.77,237.67 L296.27,237.38 L297.78,237.06 L299.29,236.70 L300.80,236.31 L302.31,235.88 L303.82,235.42 L305.33,234.93 L306.84,234.40 L308.35,233.83 L309.86,233.24 L311.37,232.61 L312.88,231.96 L314.39,231.27 L315.90,230.55 L317.41,229.81 L318.91,229.03 L320.42,228.23 L321.93,227.41 L323.44,226.55 L324.95,225.68 L326.46,224.77 L327.97,223.85 L329.48,222.90 L330.99,221.93 L332.50,220.94 L334.01,219.92 L335.52,218.89 L337.03,217.84 L338.54,216.77 L340.05,215.68 L341.55,214.57 L343.06,213.44 L344.57,212.30" fill="none" stroke="#333" stroke-width="1.0"/>
<line x1="284.40" y1="238.60" x2="284.40" y2="358.70" stroke="#333" stroke-opacity="0.55" stroke-width="0.7"/>
<rect x="275.60" y="212.30" width="128.50" height="146.40" fill="none" stroke="#8c8c8c" stroke-width="1"/>
<line x1="275.60" y1="346.23" x2="277.60" y2="346.23" stroke="#444" stroke-width="0.8"/>
<line x1="404.10" y1="346.23" x2="402.10" y2="346.23" stroke="#444" stroke-width="0.8"/>
<text transform="translate(274.20 350.68) scale(1.150 1)" font-size="10.30" text-anchor="end" fill="#222" font-family="Liberation Sans, sans-serif" stroke="#222" stroke-width="0.12" >-35</text>
<line x1="275.60" y1="330.85" x2="277.60" y2="330.85" stroke="#444" stroke-width="0.8"/>
<line x1="404.10" y1="330.85" x2="402.10" y2="330.85" stroke="#444" stroke-width="0.8"/>
<text transform="translate(274.20 335.31) scale(1.150 1)" font-size="10.30" text-anchor="end" fill="#222" font-family="Liberation Sans, sans-serif" stroke="#222" stroke-width="0.12" >-30</text>
<line x1="275.60" y1="315.48" x2="277.60" y2="315.48" stroke="#444" stroke-width="0.8"/>
<line x1="404.10" y1="315.48" x2="402.10" y2="315.48" stroke="#444" stroke-width="0.8"/>
<text transform="translate(274.20 319.93) scale(1.150 1)" font-size="10.30" text-anchor="end" fill="#222" font-family="Liberation Sans, sans-serif" stroke="#222" stroke-width="0.12" >-25</text>
<line x1="275.60" y1="300.10" x2="277.60" y2="300.10" stroke="#444" stroke-width="0.8"/>
<line x1="404.10" y1="300.10" x2="402.10" y2="300.10" stroke="#444" stroke-width="0.8"/>
<text transform="translate(274.20 304.56) scale(1.150 1)" font-size="10.30" text-anchor="end" fill="#222" font-family="Liberation Sans, sans-serif" stroke="#222" stroke-width="0.12" >-20</text>
<line x1="275.60" y1="284.73" x2="277.60" y2="284.73" stroke="#444" stroke-width="0.8"/>
<line x1="404.10" y1="284.73" x2="402.10" y2="284.73" stroke="#444" stroke-width="0.8"/>
<text transform="translate(274.20 289.18) scale(1.150 1)" font-size="10.30" text-anchor="end" fill="#222" font-family="Liberation Sans, sans-serif" stroke="#222" stroke-width="0.12" >-15</text>
<line x1="275.60" y1="269.35" x2="277.60" y2="269.35" stroke="#444" stroke-width="0.8"/>
<line x1="404.10" y1="269.35" x2="402.10" y2="269.35" stroke="#444" stroke-width="0.8"/>
<text transform="translate(274.20 273.81) scale(1.150 1)" font-size="10.30" text-anchor="end" fill="#222" font-family="Liberation Sans, sans-serif" stroke="#222" stroke-width="0.12" >-10</text>
<line x1="275.60" y1="253.97" x2="277.60" y2="253.97" stroke="#444" stroke-width="0.8"/>
<line x1="404.10" y1="253.97" x2="402.10" y2="253.97" stroke="#444" stroke-width="0.8"/>
<text transform="translate(274.20 258.43) scale(1.150 1)" font-size="10.30" text-anchor="end" fill="#222" font-family="Liberation Sans, sans-serif" stroke="#222" stroke-width="0.12" >-5</text>
<line x1="275.60" y1="238.60" x2="277.60" y2="238.60" stroke="#444" stroke-width="0.8"/>
<line x1="404.10" y1="238.60" x2="402.10" y2="238.60" stroke="#444" stroke-width="0.8"/>
<text transform="translate(274.20 243.06) scale(1.150 1)" font-size="10.30" text-anchor="end" fill="#222" font-family="Liberation Sans, sans-serif" stroke="#222" stroke-width="0.12" >0</text>
<line x1="275.60" y1="223.22" x2="277.60" y2="223.22" stroke="#444" stroke-width="0.8"/>
<line x1="404.10" y1="223.22" x2="402.10" y2="223.22" stroke="#444" stroke-width="0.8"/>
<line x1="284.20" y1="212.30" x2="284.20" y2="214.30" stroke="#444" stroke-width="0.8"/>
<line x1="284.20" y1="358.70" x2="284.20" y2="356.70" stroke="#444" stroke-width="0.8"/>
<text transform="translate(284.20 371.80) scale(1.150 1)" font-size="10.30" text-anchor="middle" fill="#222" font-family="Liberation Sans, sans-serif" stroke="#222" stroke-width="0.12" >0</text>
<line x1="345.90" y1="212.30" x2="345.90" y2="214.30" stroke="#444" stroke-width="0.8"/>
<line x1="345.90" y1="358.70" x2="345.90" y2="356.70" stroke="#444" stroke-width="0.8"/>
<text transform="translate(345.90 371.80) scale(1.150 1)" font-size="10.30" text-anchor="middle" fill="#222" font-family="Liberation Sans, sans-serif" stroke="#222" stroke-width="0.12" >2</text>
<text transform="translate(364.09 372.70) scale(1.006 1)" font-size="12.36" fill="#222" font-family="Liberation Sans, sans-serif" stroke="#222" stroke-width="0.12">×</text>
<text transform="translate(372.50 371.80) scale(1.068 1)" font-size="10.30" fill="#222" font-family="Liberation Sans, sans-serif" stroke="#222" stroke-width="0.12">10</text>
<text transform="translate(386.23 365.70) scale(1.311 1)" font-size="7.00" fill="#222" font-family="Liberation Sans, sans-serif">-4</text>
<text transform="translate(396.86 371.80) scale(0.910 1)" font-size="10.30" fill="#222" font-family="Liberation Sans, sans-serif" stroke="#222" stroke-width="0.12">m</text>
<text transform="translate(238.10 223.60) scale(0.871 1)" font-size="14.09" fill="#222" font-family="Liberation Sans, sans-serif" stroke="#222" stroke-width="0.12">×</text>
<text transform="translate(247.58 222.60) scale(0.975 1)" font-size="11.74" fill="#222" font-family="Liberation Sans, sans-serif" stroke="#222" stroke-width="0.12">10</text>
<text transform="translate(261.77 217.80) scale(0.994 1)" font-size="9.16" fill="#222" font-family="Liberation Sans, sans-serif">-5</text>
<text transform="translate(238.27 232.00) scale(0.972 1)" font-size="10.57" fill="#222" font-family="Liberation Sans, sans-serif" stroke="#222" stroke-width="0.12">m</text>
<text x="290.90" y="206.90" font-size="10.30" text-anchor="start" fill="#222" font-family="Liberation Sans, sans-serif" textLength="143.00" lengthAdjust="spacingAndGlyphs" stroke="#222" stroke-width="0.12" >Net number density (1/m<tspan dy="-5" font-size="7.4" stroke="none">3</tspan><tspan dy="5">)</tspan></text>
<rect x="413.30" y="248.20" width="7.10" height="92.30" fill="url(#g5)" stroke="rgba(0,0,0,0.3)" stroke-width="0.6"/>
<line x1="418.90" y1="256.89" x2="420.40" y2="256.89" stroke="#333" stroke-width="0.6"/>
<line x1="413.30" y1="256.89" x2="414.80" y2="256.89" stroke="#333" stroke-width="0.6"/>
<text transform="translate(423.00 261.10) scale(1.150 1)" font-size="10.30" text-anchor="start" fill="#222" font-family="Liberation Sans, sans-serif" stroke="#222" stroke-width="0.12" >2</text>
<line x1="418.90" y1="275.79" x2="420.40" y2="275.79" stroke="#333" stroke-width="0.6"/>
<line x1="413.30" y1="275.79" x2="414.80" y2="275.79" stroke="#333" stroke-width="0.6"/>
<text transform="translate(423.00 280.00) scale(1.150 1)" font-size="10.30" text-anchor="start" fill="#222" font-family="Liberation Sans, sans-serif" stroke="#222" stroke-width="0.12" >1.5</text>
<line x1="418.90" y1="294.69" x2="420.40" y2="294.69" stroke="#333" stroke-width="0.6"/>
<line x1="413.30" y1="294.69" x2="414.80" y2="294.69" stroke="#333" stroke-width="0.6"/>
<text transform="translate(423.00 298.90) scale(1.150 1)" font-size="10.30" text-anchor="start" fill="#222" font-family="Liberation Sans, sans-serif" stroke="#222" stroke-width="0.12" >1</text>
<line x1="418.90" y1="313.59" x2="420.40" y2="313.59" stroke="#333" stroke-width="0.6"/>
<line x1="413.30" y1="313.59" x2="414.80" y2="313.59" stroke="#333" stroke-width="0.6"/>
<text transform="translate(423.00 317.80) scale(1.150 1)" font-size="10.30" text-anchor="start" fill="#222" font-family="Liberation Sans, sans-serif" stroke="#222" stroke-width="0.12" >0.5</text>
<line x1="418.90" y1="332.49" x2="420.40" y2="332.49" stroke="#333" stroke-width="0.6"/>
<line x1="413.30" y1="332.49" x2="414.80" y2="332.49" stroke="#333" stroke-width="0.6"/>
<text transform="translate(423.00 336.70) scale(1.150 1)" font-size="10.30" text-anchor="start" fill="#222" font-family="Liberation Sans, sans-serif" stroke="#222" stroke-width="0.12" >0</text>
<path d="M412.50,219.60 L417.80,228.00 L407.20,228.00 Z" fill="#000"/>
<path d="M407.50,349.00 L417.40,349.00 L412.45,358.20 Z" fill="#000"/>
<text x="422.20" y="228.40" font-size="10.30" text-anchor="start" fill="#222" font-family="Liberation Sans, sans-serif" textLength="55.30" lengthAdjust="spacingAndGlyphs" stroke="#222" stroke-width="0.12" >2.23<tspan font-size="12.15" dy="0.7">×</tspan><tspan dy="-0.7">10</tspan><tspan dy="-5.5" font-size="7.8" stroke="none">19</tspan></text>
<text x="422.40" y="357.70" font-size="10.30" text-anchor="start" fill="#222" font-family="Liberation Sans, sans-serif" textLength="58.80" lengthAdjust="spacingAndGlyphs" stroke="#222" stroke-width="0.12" >-2.12<tspan font-size="12.15" dy="0.7">×</tspan><tspan dy="-0.7">10</tspan><tspan dy="-5.5" font-size="7.8" stroke="none">18</tspan></text>
<text transform="translate(420.00 241.60) scale(1.150 1)" font-size="10.30" text-anchor="start" fill="#222" font-family="Liberation Sans, sans-serif" stroke="#222" stroke-width="0.12" ><tspan font-size="12.15" dy="0.7">×</tspan><tspan dy="-0.7">10</tspan><tspan dy="-5.5" font-size="7.8" stroke="none">19</tspan></text>
<path d="M527.90,238.40 L529.40,238.38 L530.90,238.32 L532.40,238.23 L533.90,238.10 L535.40,237.93 L536.90,237.72 L538.40,237.48 L539.90,237.20 L541.40,236.88 L542.91,236.53 L544.41,236.14 L545.91,235.72 L547.41,235.26 L548.91,234.77 L550.41,234.25 L551.91,233.69 L553.41,233.11 L554.91,232.49 L556.41,231.84 L557.91,231.16 L559.41,230.45 L560.91,229.72 L562.41,228.95 L563.91,228.16 L565.41,227.34 L566.91,226.50 L568.41,225.63 L569.91,224.74 L571.42,223.83 L572.92,222.89 L574.42,221.93 L575.92,220.95 L577.42,219.95 L578.92,218.92 L580.42,217.88 L581.92,216.82 L583.42,215.74 L584.92,214.64 L586.42,213.53 L587.92,212.40 L527.60,211.90 L527.60,238.40 Z" fill="#fff"/>
<path d="M527.90,238.40 L529.40,238.38 L530.90,238.32 L532.40,238.23 L533.90,238.10 L535.40,237.93 L536.90,237.72 L538.40,237.48 L539.90,237.20 L541.40,236.88 L542.91,236.53 L544.41,236.14 L545.91,235.72 L547.41,235.26 L548.91,234.77 L550.41,234.25 L551.91,233.69 L553.41,233.11 L554.91,232.49 L556.41,231.84 L557.91,231.16 L559.41,230.45 L560.91,229.72 L562.41,228.95 L563.91,228.16 L565.41,227.34 L566.91,226.50 L568.41,225.63 L569.91,224.74 L571.42,223.83 L572.92,222.89 L574.42,221.93 L575.92,220.95 L577.42,219.95 L578.92,218.92 L580.42,217.88 L581.92,216.82 L583.42,215.74 L584.92,214.64 L586.42,213.53 L587.92,212.40" fill="none" stroke="#333" stroke-width="1.0"/>
<line x1="528.10" y1="238.40" x2="528.10" y2="358.50" stroke="#333" stroke-opacity="0.55" stroke-width="0.7"/>
<rect x="519.40" y="212.40" width="128.10" height="146.10" fill="none" stroke="#8c8c8c" stroke-width="1"/>
<line x1="519.40" y1="346.20" x2="521.40" y2="346.20" stroke="#444" stroke-width="0.8"/>
<line x1="647.50" y1="346.20" x2="645.50" y2="346.20" stroke="#444" stroke-width="0.8"/>
<text transform="translate(517.70 350.66) scale(1.150 1)" font-size="10.30" text-anchor="end" fill="#222" font-family="Liberation Sans, sans-serif" stroke="#222" stroke-width="0.12" >-35</text>
<line x1="519.40" y1="330.80" x2="521.40" y2="330.80" stroke="#444" stroke-width="0.8"/>
<line x1="647.50" y1="330.80" x2="645.50" y2="330.80" stroke="#444" stroke-width="0.8"/>
<text transform="translate(517.70 335.26) scale(1.150 1)" font-size="10.30" text-anchor="end" fill="#222" font-family="Liberation Sans, sans-serif" stroke="#222" stroke-width="0.12" >-30</text>
<line x1="519.40" y1="315.40" x2="521.40" y2="315.40" stroke="#444" stroke-width="0.8"/>
<line x1="647.50" y1="315.40" x2="645.50" y2="315.40" stroke="#444" stroke-width="0.8"/>
<text transform="translate(517.70 319.86) scale(1.150 1)" font-size="10.30" text-anchor="end" fill="#222" font-family="Liberation Sans, sans-serif" stroke="#222" stroke-width="0.12" >-25</text>
<line x1="519.40" y1="300.00" x2="521.40" y2="300.00" stroke="#444" stroke-width="0.8"/>
<line x1="647.50" y1="300.00" x2="645.50" y2="300.00" stroke="#444" stroke-width="0.8"/>
<text transform="translate(517.70 304.46) scale(1.150 1)" font-size="10.30" text-anchor="end" fill="#222" font-family="Liberation Sans, sans-serif" stroke="#222" stroke-width="0.12" >-20</text>
<line x1="519.40" y1="284.60" x2="521.40" y2="284.60" stroke="#444" stroke-width="0.8"/>
<line x1="647.50" y1="284.60" x2="645.50" y2="284.60" stroke="#444" stroke-width="0.8"/>
<text transform="translate(517.70 289.06) scale(1.150 1)" font-size="10.30" text-anchor="end" fill="#222" font-family="Liberation Sans, sans-serif" stroke="#222" stroke-width="0.12" >-15</text>
<line x1="519.40" y1="269.20" x2="521.40" y2="269.20" stroke="#444" stroke-width="0.8"/>
<line x1="647.50" y1="269.20" x2="645.50" y2="269.20" stroke="#444" stroke-width="0.8"/>
<text transform="translate(517.70 273.66) scale(1.150 1)" font-size="10.30" text-anchor="end" fill="#222" font-family="Liberation Sans, sans-serif" stroke="#222" stroke-width="0.12" >-10</text>
<line x1="519.40" y1="253.80" x2="521.40" y2="253.80" stroke="#444" stroke-width="0.8"/>
<line x1="647.50" y1="253.80" x2="645.50" y2="253.80" stroke="#444" stroke-width="0.8"/>
<text transform="translate(517.70 258.26) scale(1.150 1)" font-size="10.30" text-anchor="end" fill="#222" font-family="Liberation Sans, sans-serif" stroke="#222" stroke-width="0.12" >-5</text>
<line x1="519.40" y1="238.40" x2="521.40" y2="238.40" stroke="#444" stroke-width="0.8"/>
<line x1="647.50" y1="238.40" x2="645.50" y2="238.40" stroke="#444" stroke-width="0.8"/>
<text transform="translate(517.70 242.86) scale(1.150 1)" font-size="10.30" text-anchor="end" fill="#222" font-family="Liberation Sans, sans-serif" stroke="#222" stroke-width="0.12" >0</text>
<line x1="519.40" y1="223.00" x2="521.40" y2="223.00" stroke="#444" stroke-width="0.8"/>
<line x1="647.50" y1="223.00" x2="645.50" y2="223.00" stroke="#444" stroke-width="0.8"/>
<line x1="527.90" y1="212.40" x2="527.90" y2="214.40" stroke="#444" stroke-width="0.8"/>
<line x1="527.90" y1="358.50" x2="527.90" y2="356.50" stroke="#444" stroke-width="0.8"/>
<text transform="translate(527.90 371.50) scale(1.150 1)" font-size="10.30" text-anchor="middle" fill="#222" font-family="Liberation Sans, sans-serif" stroke="#222" stroke-width="0.12" >0</text>
<line x1="589.20" y1="212.40" x2="589.20" y2="214.40" stroke="#444" stroke-width="0.8"/>
<line x1="589.20" y1="358.50" x2="589.20" y2="356.50" stroke="#444" stroke-width="0.8"/>
<text transform="translate(589.20 371.50) scale(1.150 1)" font-size="10.30" text-anchor="middle" fill="#222" font-family="Liberation Sans, sans-serif" stroke="#222" stroke-width="0.12" >2</text>
<text transform="translate(607.70 372.40) scale(0.998 1)" font-size="12.36" fill="#222" font-family="Liberation Sans, sans-serif" stroke="#222" stroke-width="0.12">×</text>
<text transform="translate(616.04 371.50) scale(1.059 1)" font-size="10.30" fill="#222" font-family="Liberation Sans, sans-serif" stroke="#222" stroke-width="0.12">10</text>
<text transform="translate(629.67 365.40) scale(1.300 1)" font-size="7.00" fill="#222" font-family="Liberation Sans, sans-serif">-4</text>
<text transform="translate(640.22 371.50) scale(0.902 1)" font-size="10.30" fill="#222" font-family="Liberation Sans, sans-serif" stroke="#222" stroke-width="0.12">m</text>
<text transform="translate(481.80 223.60) scale(0.871 1)" font-size="14.09" fill="#222" font-family="Liberation Sans, sans-serif" stroke="#222" stroke-width="0.12">×</text>
<text transform="translate(491.28 222.60) scale(0.975 1)" font-size="11.74" fill="#222" font-family="Liberation Sans, sans-serif" stroke="#222" stroke-width="0.12">10</text>
<text transform="translate(505.47 217.80) scale(0.994 1)" font-size="9.16" fill="#222" font-family="Liberation Sans, sans-serif">-5</text>
<text transform="translate(481.97 232.00) scale(0.972 1)" font-size="10.57" fill="#222" font-family="Liberation Sans, sans-serif" stroke="#222" stroke-width="0.12">m</text>
<text x="534.50" y="206.80" font-size="10.30" text-anchor="start" fill="#222" font-family="Liberation Sans, sans-serif" textLength="143.20" lengthAdjust="spacingAndGlyphs" stroke="#222" stroke-width="0.12" >Net number density (1/m<tspan dy="-5" font-size="7.4" stroke="none">3</tspan><tspan dy="5">)</tspan></text>
<rect x="657.00" y="248.30" width="6.90" height="92.00" fill="url(#g6)" stroke="rgba(0,0,0,0.3)" stroke-width="0.6"/>
<line x1="662.40" y1="264.24" x2="663.90" y2="264.24" stroke="#333" stroke-width="0.6"/>
<line x1="657.00" y1="264.24" x2="658.50" y2="264.24" stroke="#333" stroke-width="0.6"/>
<text transform="translate(667.60 268.45) scale(1.150 1)" font-size="10.30" text-anchor="start" fill="#222" font-family="Liberation Sans, sans-serif" stroke="#222" stroke-width="0.12" >6</text>
<line x1="662.40" y1="284.41" x2="663.90" y2="284.41" stroke="#333" stroke-width="0.6"/>
<line x1="657.00" y1="284.41" x2="658.50" y2="284.41" stroke="#333" stroke-width="0.6"/>
<text transform="translate(667.60 288.62) scale(1.150 1)" font-size="10.30" text-anchor="start" fill="#222" font-family="Liberation Sans, sans-serif" stroke="#222" stroke-width="0.12" >4</text>
<line x1="662.40" y1="304.59" x2="663.90" y2="304.59" stroke="#333" stroke-width="0.6"/>
<line x1="657.00" y1="304.59" x2="658.50" y2="304.59" stroke="#333" stroke-width="0.6"/>
<text transform="translate(667.60 308.80) scale(1.150 1)" font-size="10.30" text-anchor="start" fill="#222" font-family="Liberation Sans, sans-serif" stroke="#222" stroke-width="0.12" >2</text>
<line x1="662.40" y1="324.76" x2="663.90" y2="324.76" stroke="#333" stroke-width="0.6"/>
<line x1="657.00" y1="324.76" x2="658.50" y2="324.76" stroke="#333" stroke-width="0.6"/>
<text transform="translate(667.60 328.97) scale(1.150 1)" font-size="10.30" text-anchor="start" fill="#222" font-family="Liberation Sans, sans-serif" stroke="#222" stroke-width="0.12" >0</text>
<path d="M656.30,219.60 L661.60,227.90 L651.00,227.90 Z" fill="#000"/>
<path d="M650.60,348.80 L660.00,348.80 L655.30,358.30 Z" fill="#000"/>
<text x="665.80" y="228.40" font-size="10.30" text-anchor="start" fill="#222" font-family="Liberation Sans, sans-serif" textLength="55.00" lengthAdjust="spacingAndGlyphs" stroke="#222" stroke-width="0.12" >7.58<tspan font-size="12.15" dy="0.7">×</tspan><tspan dy="-0.7">10</tspan><tspan dy="-5.5" font-size="7.8" stroke="none">18</tspan></text>
<text x="665.40" y="357.70" font-size="10.30" text-anchor="start" fill="#222" font-family="Liberation Sans, sans-serif" textLength="59.60" lengthAdjust="spacingAndGlyphs" stroke="#222" stroke-width="0.12" >-1.54<tspan font-size="12.15" dy="0.7">×</tspan><tspan dy="-0.7">10</tspan><tspan dy="-5.5" font-size="7.8" stroke="none">18</tspan></text>
<text transform="translate(663.70 241.60) scale(1.150 1)" font-size="10.30" text-anchor="start" fill="#222" font-family="Liberation Sans, sans-serif" stroke="#222" stroke-width="0.12" ><tspan font-size="12.15" dy="0.7">×</tspan><tspan dy="-0.7">10</tspan><tspan dy="-5.5" font-size="7.8" stroke="none">18</tspan></text>
<text x="334.3" y="189.2" font-size="16" fill="#111" stroke="#111" stroke-width="0.25" font-family="Liberation Serif, serif">(a)</text>
<text x="332.4" y="395.0" font-size="16" fill="#111" stroke="#111" stroke-width="0.25" font-family="Liberation Serif, serif">(b)</text></svg></body></html>
